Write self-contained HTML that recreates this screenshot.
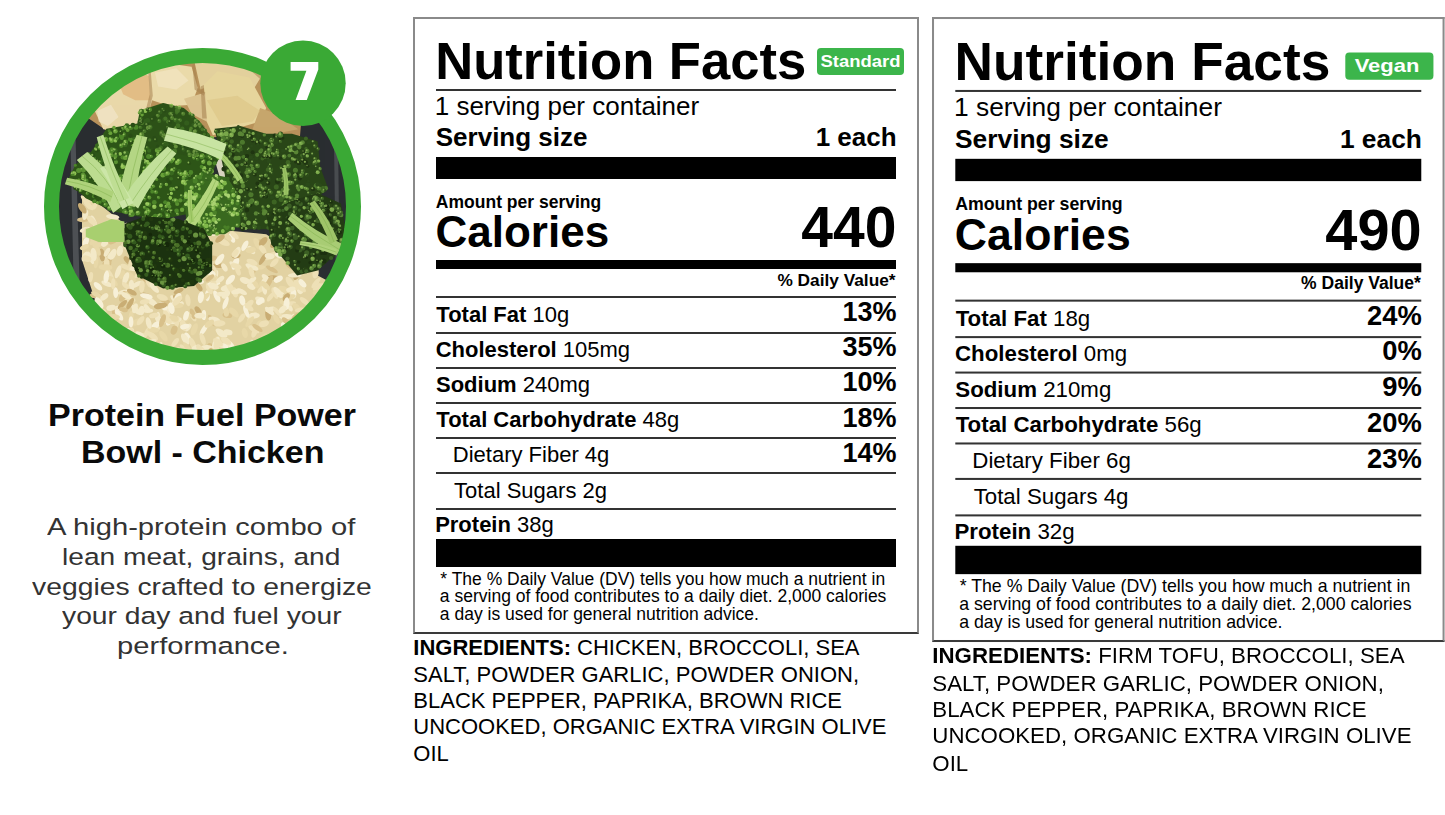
<!DOCTYPE html>
<html><head><meta charset="utf-8">
<style>
html,body{margin:0;padding:0;background:#fff;}
body{width:1445px;height:815px;overflow:hidden;position:relative;font-family:"Liberation Sans", sans-serif;}
.t{position:absolute;white-space:pre;}
.t b{font-weight:bold;}
.r{position:absolute;}
.lab{position:absolute;width:506px;height:617px;transform-origin:0 0;}
.box{position:absolute;left:0;top:0;width:502px;height:613px;border:2px solid #8a8a8a;border-bottom-color:#3a3a3a;}
.badge{position:absolute;background:#3cb54b;border-radius:4px;}
</style></head><body>
<svg style="position:absolute;left:0;top:0" width="400" height="400" viewBox="0 0 400 400">
<defs><clipPath id="pc"><circle cx="202.5" cy="206.5" r="144.5"/></clipPath></defs>
<g clip-path="url(#pc)">
<rect x="50" y="50" width="310" height="320" fill="#2a2d31"/>
<path d="M70 120 L75 118 L80 300 L74 300 Z" fill="#5d6064" opacity="0.7"/>
<path d="M334 140 L338 140 L340 290 L336 290 Z" fill="#5d6064" opacity="0.6"/>
<path d="M81.9 198.2 L98.7 203.4 L137.3 234.3 L214.6 229.2 L266.2 234.3 L304.8 260.1 L317.7 275.6 L330.0 282.0 L335.0 380.0 L70.0 380.0 L95.0 300.0 L82.0 260.0 L82.0 200.0 Z" fill="#e2d2a2"/>
<path d="M214.6 159.6 L240.4 157.0 L237.8 180.2 L219.8 177.6 Z" fill="#d8d2c0"/>
<g><ellipse cx="190.4" cy="282.4" rx="5.8" ry="2.8" transform="rotate(166 190.4 282.4)" fill="#eee0b6"/><ellipse cx="122.1" cy="274.5" rx="4.7" ry="2.5" transform="rotate(113 122.1 274.5)" fill="#e8d8a8"/><ellipse cx="241.8" cy="291.6" rx="5.8" ry="2.3" transform="rotate(28 241.8 291.6)" fill="#f3e9c8"/><ellipse cx="123.5" cy="229.9" rx="5.6" ry="3.0" transform="rotate(5 123.5 229.9)" fill="#eee0b6"/><ellipse cx="207.4" cy="295.6" rx="5.6" ry="2.5" transform="rotate(90 207.4 295.6)" fill="#f7f0d8"/><ellipse cx="289.3" cy="306.8" rx="5.2" ry="2.3" transform="rotate(57 289.3 306.8)" fill="#f3e9c8"/><ellipse cx="270.4" cy="256.1" rx="6.9" ry="3.0" transform="rotate(152 270.4 256.1)" fill="#eee0b6"/><ellipse cx="307.1" cy="267.5" rx="4.7" ry="2.8" transform="rotate(176 307.1 267.5)" fill="#eee0b6"/><ellipse cx="97.2" cy="244.9" rx="4.8" ry="2.4" transform="rotate(174 97.2 244.9)" fill="#e8d8a8"/><ellipse cx="217.6" cy="263.8" rx="4.8" ry="2.8" transform="rotate(34 217.6 263.8)" fill="#e8d8a8"/><ellipse cx="104.7" cy="259.4" rx="6.9" ry="3.0" transform="rotate(38 104.7 259.4)" fill="#eee0b6"/><ellipse cx="152.6" cy="336.0" rx="6.6" ry="2.8" transform="rotate(38 152.6 336.0)" fill="#eee0b6"/><ellipse cx="129.4" cy="232.6" rx="5.2" ry="2.3" transform="rotate(139 129.4 232.6)" fill="#eee0b6"/><ellipse cx="98.0" cy="286.2" rx="5.4" ry="2.7" transform="rotate(44 98.0 286.2)" fill="#f7f0d8"/><ellipse cx="221.5" cy="333.0" rx="6.8" ry="3.0" transform="rotate(33 221.5 333.0)" fill="#f3e9c8"/><ellipse cx="300.0" cy="289.6" rx="4.6" ry="3.2" transform="rotate(76 300.0 289.6)" fill="#f3e9c8"/><ellipse cx="135.8" cy="306.3" rx="6.0" ry="2.5" transform="rotate(46 135.8 306.3)" fill="#e8d8a8"/><ellipse cx="119.7" cy="308.9" rx="5.9" ry="3.1" transform="rotate(12 119.7 308.9)" fill="#f3e9c8"/><ellipse cx="231.6" cy="236.2" rx="4.5" ry="2.5" transform="rotate(165 231.6 236.2)" fill="#f3e9c8"/><ellipse cx="119.9" cy="250.8" rx="5.4" ry="3.1" transform="rotate(103 119.9 250.8)" fill="#f3e9c8"/><ellipse cx="251.3" cy="286.4" rx="4.5" ry="3.1" transform="rotate(25 251.3 286.4)" fill="#f3e9c8"/><ellipse cx="198.0" cy="310.5" rx="4.7" ry="2.7" transform="rotate(57 198.0 310.5)" fill="#c9ad74"/><ellipse cx="262.9" cy="338.5" rx="6.5" ry="3.1" transform="rotate(133 262.9 338.5)" fill="#e8d8a8"/><ellipse cx="164.7" cy="303.0" rx="5.5" ry="3.0" transform="rotate(162 164.7 303.0)" fill="#d8c08a"/><ellipse cx="295.2" cy="284.5" rx="6.0" ry="2.8" transform="rotate(112 295.2 284.5)" fill="#eee0b6"/><ellipse cx="95.5" cy="295.5" rx="6.3" ry="2.6" transform="rotate(179 95.5 295.5)" fill="#d8c08a"/><ellipse cx="262.4" cy="285.9" rx="4.7" ry="3.0" transform="rotate(79 262.4 285.9)" fill="#e8d8a8"/><ellipse cx="253.1" cy="272.0" rx="5.1" ry="2.2" transform="rotate(111 253.1 272.0)" fill="#d8c08a"/><ellipse cx="151.8" cy="301.9" rx="6.8" ry="2.9" transform="rotate(36 151.8 301.9)" fill="#f3e9c8"/><ellipse cx="187.7" cy="337.1" rx="5.0" ry="2.6" transform="rotate(59 187.7 337.1)" fill="#f7f0d8"/><ellipse cx="223.7" cy="242.2" rx="6.6" ry="3.0" transform="rotate(25 223.7 242.2)" fill="#eee0b6"/><ellipse cx="189.9" cy="235.4" rx="6.1" ry="2.7" transform="rotate(39 189.9 235.4)" fill="#eee0b6"/><ellipse cx="155.4" cy="328.5" rx="4.7" ry="2.2" transform="rotate(177 155.4 328.5)" fill="#eee0b6"/><ellipse cx="255.7" cy="284.1" rx="4.5" ry="2.3" transform="rotate(56 255.7 284.1)" fill="#e8d8a8"/><ellipse cx="235.4" cy="263.7" rx="6.5" ry="3.2" transform="rotate(113 235.4 263.7)" fill="#f7f0d8"/><ellipse cx="144.5" cy="247.0" rx="6.0" ry="3.0" transform="rotate(126 144.5 247.0)" fill="#f7f0d8"/><ellipse cx="175.3" cy="320.7" rx="6.8" ry="2.9" transform="rotate(163 175.3 320.7)" fill="#f3e9c8"/><ellipse cx="108.1" cy="264.8" rx="5.4" ry="2.8" transform="rotate(113 108.1 264.8)" fill="#d8c08a"/><ellipse cx="259.1" cy="325.0" rx="5.0" ry="3.1" transform="rotate(115 259.1 325.0)" fill="#e8d8a8"/><ellipse cx="211.9" cy="320.5" rx="6.6" ry="2.5" transform="rotate(58 211.9 320.5)" fill="#d8c08a"/><ellipse cx="96.1" cy="262.7" rx="5.7" ry="2.2" transform="rotate(99 96.1 262.7)" fill="#e8d8a8"/><ellipse cx="160.4" cy="320.0" rx="5.8" ry="2.9" transform="rotate(25 160.4 320.0)" fill="#f3e9c8"/><ellipse cx="289.2" cy="303.7" rx="6.9" ry="2.3" transform="rotate(170 289.2 303.7)" fill="#eee0b6"/><ellipse cx="131.5" cy="276.9" rx="6.1" ry="2.7" transform="rotate(52 131.5 276.9)" fill="#e8d8a8"/><ellipse cx="290.1" cy="282.4" rx="6.6" ry="3.1" transform="rotate(56 290.1 282.4)" fill="#eee0b6"/><ellipse cx="128.1" cy="330.4" rx="5.9" ry="2.4" transform="rotate(174 128.1 330.4)" fill="#f7f0d8"/><ellipse cx="211.7" cy="273.0" rx="6.9" ry="2.7" transform="rotate(109 211.7 273.0)" fill="#f3e9c8"/><ellipse cx="177.1" cy="322.2" rx="6.2" ry="2.3" transform="rotate(101 177.1 322.2)" fill="#eee0b6"/><ellipse cx="212.4" cy="258.3" rx="5.2" ry="2.7" transform="rotate(172 212.4 258.3)" fill="#d8c08a"/><ellipse cx="107.4" cy="261.6" rx="5.7" ry="2.5" transform="rotate(147 107.4 261.6)" fill="#d8c08a"/><ellipse cx="123.8" cy="292.0" rx="6.4" ry="2.2" transform="rotate(167 123.8 292.0)" fill="#f3e9c8"/><ellipse cx="124.5" cy="227.5" rx="5.4" ry="2.8" transform="rotate(124 124.5 227.5)" fill="#eee0b6"/><ellipse cx="101.7" cy="310.6" rx="5.1" ry="2.4" transform="rotate(22 101.7 310.6)" fill="#eee0b6"/><ellipse cx="210.2" cy="262.1" rx="5.8" ry="2.4" transform="rotate(68 210.2 262.1)" fill="#eee0b6"/><ellipse cx="127.1" cy="294.2" rx="6.6" ry="2.8" transform="rotate(115 127.1 294.2)" fill="#f7f0d8"/><ellipse cx="263.9" cy="323.7" rx="5.3" ry="3.1" transform="rotate(162 263.9 323.7)" fill="#eee0b6"/><ellipse cx="136.0" cy="309.9" rx="6.6" ry="2.6" transform="rotate(47 136.0 309.9)" fill="#f3e9c8"/><ellipse cx="177.7" cy="303.1" rx="6.2" ry="3.1" transform="rotate(3 177.7 303.1)" fill="#f3e9c8"/><ellipse cx="203.9" cy="315.1" rx="5.0" ry="2.3" transform="rotate(91 203.9 315.1)" fill="#f7f0d8"/><ellipse cx="215.7" cy="274.9" rx="5.0" ry="2.4" transform="rotate(102 215.7 274.9)" fill="#f3e9c8"/><ellipse cx="192.8" cy="316.2" rx="5.8" ry="2.6" transform="rotate(59 192.8 316.2)" fill="#eee0b6"/><ellipse cx="253.8" cy="329.3" rx="6.3" ry="2.6" transform="rotate(33 253.8 329.3)" fill="#eee0b6"/><ellipse cx="254.7" cy="332.0" rx="6.0" ry="2.7" transform="rotate(113 254.7 332.0)" fill="#eee0b6"/><ellipse cx="140.9" cy="340.4" rx="6.5" ry="2.6" transform="rotate(134 140.9 340.4)" fill="#e8d8a8"/><ellipse cx="252.2" cy="316.6" rx="6.3" ry="2.3" transform="rotate(138 252.2 316.6)" fill="#eee0b6"/><ellipse cx="162.1" cy="267.4" rx="6.1" ry="2.8" transform="rotate(2 162.1 267.4)" fill="#eee0b6"/><ellipse cx="244.9" cy="245.7" rx="5.8" ry="2.6" transform="rotate(119 244.9 245.7)" fill="#f7f0d8"/><ellipse cx="253.8" cy="315.7" rx="6.0" ry="2.9" transform="rotate(176 253.8 315.7)" fill="#f3e9c8"/><ellipse cx="140.4" cy="256.3" rx="5.4" ry="2.3" transform="rotate(9 140.4 256.3)" fill="#f3e9c8"/><ellipse cx="139.0" cy="339.4" rx="6.9" ry="2.8" transform="rotate(99 139.0 339.4)" fill="#eee0b6"/><ellipse cx="227.4" cy="315.3" rx="4.9" ry="2.7" transform="rotate(8 227.4 315.3)" fill="#d8c08a"/><ellipse cx="118.1" cy="271.8" rx="6.9" ry="2.6" transform="rotate(110 118.1 271.8)" fill="#f3e9c8"/><ellipse cx="209.3" cy="288.6" rx="6.1" ry="2.8" transform="rotate(66 209.3 288.6)" fill="#eee0b6"/><ellipse cx="147.3" cy="308.2" rx="5.1" ry="2.2" transform="rotate(53 147.3 308.2)" fill="#f3e9c8"/><ellipse cx="114.9" cy="314.5" rx="6.4" ry="2.3" transform="rotate(70 114.9 314.5)" fill="#d8c08a"/><ellipse cx="184.5" cy="268.8" rx="5.8" ry="3.1" transform="rotate(175 184.5 268.8)" fill="#f3e9c8"/><ellipse cx="259.3" cy="267.3" rx="6.0" ry="2.3" transform="rotate(176 259.3 267.3)" fill="#e8d8a8"/><ellipse cx="234.2" cy="265.2" rx="5.8" ry="2.3" transform="rotate(37 234.2 265.2)" fill="#f3e9c8"/><ellipse cx="187.9" cy="300.2" rx="6.0" ry="2.6" transform="rotate(82 187.9 300.2)" fill="#eee0b6"/><ellipse cx="273.4" cy="277.6" rx="6.3" ry="2.4" transform="rotate(180 273.4 277.6)" fill="#c9ad74"/><ellipse cx="275.0" cy="293.1" rx="6.2" ry="2.8" transform="rotate(65 275.0 293.1)" fill="#eee0b6"/><ellipse cx="225.9" cy="294.5" rx="5.1" ry="3.2" transform="rotate(136 225.9 294.5)" fill="#f3e9c8"/><ellipse cx="85.1" cy="200.0" rx="6.1" ry="2.3" transform="rotate(49 85.1 200.0)" fill="#eee0b6"/><ellipse cx="97.0" cy="301.6" rx="5.4" ry="2.7" transform="rotate(99 97.0 301.6)" fill="#f7f0d8"/><ellipse cx="128.7" cy="246.7" rx="4.7" ry="2.3" transform="rotate(134 128.7 246.7)" fill="#e8d8a8"/><ellipse cx="281.3" cy="292.9" rx="5.6" ry="2.5" transform="rotate(138 281.3 292.9)" fill="#f3e9c8"/><ellipse cx="281.5" cy="250.9" rx="5.3" ry="2.7" transform="rotate(118 281.5 250.9)" fill="#c9ad74"/><ellipse cx="265.3" cy="341.9" rx="4.7" ry="3.1" transform="rotate(77 265.3 341.9)" fill="#eee0b6"/><ellipse cx="95.0" cy="203.7" rx="6.2" ry="2.5" transform="rotate(102 95.0 203.7)" fill="#eee0b6"/><ellipse cx="129.4" cy="299.2" rx="6.3" ry="2.9" transform="rotate(15 129.4 299.2)" fill="#eee0b6"/><ellipse cx="166.2" cy="309.8" rx="6.3" ry="2.8" transform="rotate(66 166.2 309.8)" fill="#f3e9c8"/><ellipse cx="156.0" cy="255.9" rx="5.1" ry="2.6" transform="rotate(168 156.0 255.9)" fill="#d8c08a"/><ellipse cx="168.2" cy="249.9" rx="5.0" ry="2.8" transform="rotate(71 168.2 249.9)" fill="#eee0b6"/><ellipse cx="278.3" cy="279.2" rx="4.9" ry="3.0" transform="rotate(151 278.3 279.2)" fill="#f7f0d8"/><ellipse cx="213.8" cy="283.6" rx="6.5" ry="2.3" transform="rotate(174 213.8 283.6)" fill="#f7f0d8"/><ellipse cx="214.4" cy="320.0" rx="6.3" ry="3.1" transform="rotate(15 214.4 320.0)" fill="#f3e9c8"/><ellipse cx="96.6" cy="294.6" rx="6.1" ry="2.4" transform="rotate(26 96.6 294.6)" fill="#e8d8a8"/><ellipse cx="131.2" cy="316.3" rx="5.5" ry="2.5" transform="rotate(94 131.2 316.3)" fill="#e8d8a8"/><ellipse cx="200.9" cy="278.7" rx="6.8" ry="2.6" transform="rotate(130 200.9 278.7)" fill="#e8d8a8"/><ellipse cx="285.7" cy="300.0" rx="6.6" ry="3.1" transform="rotate(154 285.7 300.0)" fill="#e8d8a8"/><ellipse cx="319.2" cy="295.6" rx="6.5" ry="2.6" transform="rotate(94 319.2 295.6)" fill="#e8d8a8"/><ellipse cx="127.1" cy="260.1" rx="4.6" ry="2.5" transform="rotate(53 127.1 260.1)" fill="#c9ad74"/><ellipse cx="104.3" cy="296.9" rx="4.7" ry="2.7" transform="rotate(140 104.3 296.9)" fill="#f3e9c8"/><ellipse cx="223.9" cy="340.0" rx="5.0" ry="2.4" transform="rotate(7 223.9 340.0)" fill="#f3e9c8"/><ellipse cx="135.0" cy="308.3" rx="5.0" ry="2.5" transform="rotate(107 135.0 308.3)" fill="#f3e9c8"/><ellipse cx="119.0" cy="315.0" rx="6.5" ry="2.7" transform="rotate(56 119.0 315.0)" fill="#f7f0d8"/><ellipse cx="141.4" cy="336.4" rx="5.9" ry="3.2" transform="rotate(165 141.4 336.4)" fill="#eee0b6"/><ellipse cx="279.4" cy="253.5" rx="5.2" ry="3.2" transform="rotate(95 279.4 253.5)" fill="#eee0b6"/><ellipse cx="169.7" cy="321.5" rx="4.9" ry="2.4" transform="rotate(128 169.7 321.5)" fill="#f7f0d8"/><ellipse cx="296.7" cy="275.2" rx="5.2" ry="2.7" transform="rotate(115 296.7 275.2)" fill="#c9ad74"/><ellipse cx="113.4" cy="317.1" rx="6.6" ry="3.0" transform="rotate(0 113.4 317.1)" fill="#e8d8a8"/><ellipse cx="96.0" cy="234.5" rx="5.7" ry="2.7" transform="rotate(129 96.0 234.5)" fill="#f3e9c8"/><ellipse cx="318.7" cy="286.8" rx="6.5" ry="2.6" transform="rotate(154 318.7 286.8)" fill="#eee0b6"/><ellipse cx="213.6" cy="276.7" rx="5.3" ry="2.5" transform="rotate(28 213.6 276.7)" fill="#e8d8a8"/><ellipse cx="94.4" cy="240.4" rx="5.4" ry="2.9" transform="rotate(84 94.4 240.4)" fill="#e8d8a8"/><ellipse cx="102.0" cy="255.0" rx="6.6" ry="2.9" transform="rotate(83 102.0 255.0)" fill="#c9ad74"/><ellipse cx="218.8" cy="265.6" rx="6.5" ry="2.4" transform="rotate(2 218.8 265.6)" fill="#c9ad74"/><ellipse cx="232.1" cy="237.9" rx="5.2" ry="2.5" transform="rotate(68 232.1 237.9)" fill="#f7f0d8"/><ellipse cx="175.0" cy="300.0" rx="6.3" ry="2.5" transform="rotate(46 175.0 300.0)" fill="#f3e9c8"/><ellipse cx="316.0" cy="282.9" rx="6.6" ry="2.3" transform="rotate(130 316.0 282.9)" fill="#eee0b6"/><ellipse cx="247.8" cy="306.9" rx="6.6" ry="2.8" transform="rotate(32 247.8 306.9)" fill="#eee0b6"/><ellipse cx="98.0" cy="227.4" rx="5.5" ry="2.3" transform="rotate(28 98.0 227.4)" fill="#f3e9c8"/><ellipse cx="205.4" cy="296.8" rx="5.5" ry="2.5" transform="rotate(138 205.4 296.8)" fill="#e8d8a8"/><ellipse cx="177.2" cy="305.5" rx="6.2" ry="2.8" transform="rotate(177 177.2 305.5)" fill="#e8d8a8"/><ellipse cx="162.3" cy="297.4" rx="5.8" ry="3.0" transform="rotate(19 162.3 297.4)" fill="#eee0b6"/><ellipse cx="285.4" cy="290.9" rx="6.8" ry="2.7" transform="rotate(29 285.4 290.9)" fill="#e8d8a8"/><ellipse cx="164.9" cy="272.6" rx="7.0" ry="2.7" transform="rotate(26 164.9 272.6)" fill="#e8d8a8"/><ellipse cx="257.4" cy="327.9" rx="6.1" ry="2.4" transform="rotate(35 257.4 327.9)" fill="#d8c08a"/><ellipse cx="96.2" cy="230.4" rx="5.3" ry="3.1" transform="rotate(104 96.2 230.4)" fill="#e8d8a8"/><ellipse cx="167.1" cy="266.4" rx="4.8" ry="3.1" transform="rotate(22 167.1 266.4)" fill="#c9ad74"/><ellipse cx="213.6" cy="282.5" rx="6.8" ry="3.2" transform="rotate(101 213.6 282.5)" fill="#eee0b6"/><ellipse cx="283.5" cy="289.2" rx="5.2" ry="3.1" transform="rotate(22 283.5 289.2)" fill="#e8d8a8"/><ellipse cx="136.4" cy="284.6" rx="5.9" ry="2.3" transform="rotate(150 136.4 284.6)" fill="#f3e9c8"/><ellipse cx="83.2" cy="219.7" rx="6.1" ry="2.5" transform="rotate(178 83.2 219.7)" fill="#d8c08a"/><ellipse cx="246.2" cy="311.7" rx="6.5" ry="2.2" transform="rotate(69 246.2 311.7)" fill="#f7f0d8"/><ellipse cx="125.9" cy="267.2" rx="5.9" ry="2.4" transform="rotate(26 125.9 267.2)" fill="#eee0b6"/><ellipse cx="207.5" cy="233.5" rx="6.1" ry="2.2" transform="rotate(102 207.5 233.5)" fill="#eee0b6"/><ellipse cx="319.6" cy="289.0" rx="6.1" ry="2.9" transform="rotate(85 319.6 289.0)" fill="#eee0b6"/><ellipse cx="268.3" cy="314.0" rx="6.6" ry="3.1" transform="rotate(87 268.3 314.0)" fill="#c9ad74"/><ellipse cx="179.3" cy="261.6" rx="5.8" ry="2.7" transform="rotate(102 179.3 261.6)" fill="#d8c08a"/><ellipse cx="185.2" cy="339.2" rx="6.3" ry="3.1" transform="rotate(58 185.2 339.2)" fill="#f3e9c8"/><ellipse cx="261.7" cy="288.6" rx="6.0" ry="2.3" transform="rotate(135 261.7 288.6)" fill="#eee0b6"/><ellipse cx="106.7" cy="263.7" rx="4.6" ry="2.9" transform="rotate(90 106.7 263.7)" fill="#eee0b6"/><ellipse cx="153.1" cy="255.3" rx="6.8" ry="3.2" transform="rotate(42 153.1 255.3)" fill="#f3e9c8"/><ellipse cx="244.8" cy="333.0" rx="5.1" ry="2.9" transform="rotate(76 244.8 333.0)" fill="#e8d8a8"/><ellipse cx="219.5" cy="339.1" rx="4.8" ry="2.7" transform="rotate(18 219.5 339.1)" fill="#e8d8a8"/><ellipse cx="137.2" cy="239.4" rx="6.7" ry="3.0" transform="rotate(58 137.2 239.4)" fill="#f3e9c8"/><ellipse cx="176.3" cy="248.8" rx="4.6" ry="3.1" transform="rotate(105 176.3 248.8)" fill="#f3e9c8"/><ellipse cx="153.5" cy="272.2" rx="5.7" ry="2.4" transform="rotate(168 153.5 272.2)" fill="#c9ad74"/><ellipse cx="150.3" cy="342.2" rx="6.6" ry="2.6" transform="rotate(161 150.3 342.2)" fill="#f3e9c8"/><ellipse cx="126.5" cy="294.3" rx="4.6" ry="2.3" transform="rotate(34 126.5 294.3)" fill="#d8c08a"/><ellipse cx="260.1" cy="241.6" rx="6.3" ry="2.3" transform="rotate(162 260.1 241.6)" fill="#d8c08a"/><ellipse cx="252.5" cy="344.7" rx="5.1" ry="2.5" transform="rotate(80 252.5 344.7)" fill="#f3e9c8"/><ellipse cx="121.2" cy="228.8" rx="5.4" ry="2.9" transform="rotate(120 121.2 228.8)" fill="#e8d8a8"/><ellipse cx="300.5" cy="287.3" rx="6.8" ry="2.9" transform="rotate(41 300.5 287.3)" fill="#eee0b6"/><ellipse cx="145.6" cy="295.6" rx="5.6" ry="2.7" transform="rotate(16 145.6 295.6)" fill="#c9ad74"/><ellipse cx="227.9" cy="236.9" rx="4.7" ry="2.5" transform="rotate(45 227.9 236.9)" fill="#e8d8a8"/><ellipse cx="146.2" cy="280.4" rx="7.0" ry="2.2" transform="rotate(34 146.2 280.4)" fill="#d8c08a"/><ellipse cx="192.7" cy="313.8" rx="5.7" ry="2.4" transform="rotate(69 192.7 313.8)" fill="#d8c08a"/><ellipse cx="216.8" cy="296.4" rx="6.5" ry="2.7" transform="rotate(65 216.8 296.4)" fill="#f7f0d8"/><ellipse cx="203.9" cy="329.5" rx="6.9" ry="2.4" transform="rotate(123 203.9 329.5)" fill="#f7f0d8"/><ellipse cx="187.3" cy="317.5" rx="5.1" ry="2.7" transform="rotate(142 187.3 317.5)" fill="#e8d8a8"/><ellipse cx="131.4" cy="285.7" rx="6.0" ry="2.9" transform="rotate(90 131.4 285.7)" fill="#f3e9c8"/><ellipse cx="221.0" cy="334.0" rx="4.5" ry="2.7" transform="rotate(32 221.0 334.0)" fill="#f3e9c8"/><ellipse cx="185.8" cy="262.9" rx="4.7" ry="3.1" transform="rotate(47 185.8 262.9)" fill="#e8d8a8"/><ellipse cx="220.1" cy="279.6" rx="4.9" ry="2.5" transform="rotate(142 220.1 279.6)" fill="#f3e9c8"/><ellipse cx="85.8" cy="241.9" rx="5.2" ry="2.8" transform="rotate(112 85.8 241.9)" fill="#f7f0d8"/><ellipse cx="118.8" cy="232.0" rx="6.6" ry="3.0" transform="rotate(29 118.8 232.0)" fill="#e8d8a8"/><ellipse cx="90.6" cy="257.8" rx="6.9" ry="2.2" transform="rotate(66 90.6 257.8)" fill="#f3e9c8"/><ellipse cx="199.8" cy="315.6" rx="5.6" ry="2.9" transform="rotate(178 199.8 315.6)" fill="#f3e9c8"/><ellipse cx="85.0" cy="229.7" rx="5.5" ry="2.5" transform="rotate(160 85.0 229.7)" fill="#f3e9c8"/><ellipse cx="269.6" cy="311.1" rx="5.9" ry="2.4" transform="rotate(41 269.6 311.1)" fill="#f3e9c8"/><ellipse cx="192.7" cy="343.9" rx="7.0" ry="2.8" transform="rotate(66 192.7 343.9)" fill="#eee0b6"/><ellipse cx="85.1" cy="256.5" rx="5.4" ry="2.9" transform="rotate(117 85.1 256.5)" fill="#f3e9c8"/><ellipse cx="295.4" cy="287.5" rx="5.5" ry="3.0" transform="rotate(160 295.4 287.5)" fill="#eee0b6"/><ellipse cx="172.2" cy="318.9" rx="5.0" ry="2.7" transform="rotate(39 172.2 318.9)" fill="#eee0b6"/><ellipse cx="116.8" cy="223.6" rx="5.3" ry="2.6" transform="rotate(39 116.8 223.6)" fill="#eee0b6"/><ellipse cx="251.3" cy="249.9" rx="5.0" ry="2.5" transform="rotate(49 251.3 249.9)" fill="#f3e9c8"/><ellipse cx="175.2" cy="342.4" rx="5.4" ry="2.4" transform="rotate(129 175.2 342.4)" fill="#eee0b6"/><ellipse cx="270.3" cy="309.4" rx="5.3" ry="2.6" transform="rotate(163 270.3 309.4)" fill="#f3e9c8"/><ellipse cx="157.9" cy="317.2" rx="5.5" ry="2.4" transform="rotate(93 157.9 317.2)" fill="#f3e9c8"/><ellipse cx="85.4" cy="214.9" rx="5.3" ry="2.6" transform="rotate(107 85.4 214.9)" fill="#f3e9c8"/><ellipse cx="260.0" cy="299.9" rx="5.2" ry="2.9" transform="rotate(26 260.0 299.9)" fill="#f3e9c8"/><ellipse cx="178.4" cy="253.8" rx="5.2" ry="2.5" transform="rotate(156 178.4 253.8)" fill="#f3e9c8"/><ellipse cx="219.3" cy="323.4" rx="6.2" ry="3.1" transform="rotate(176 219.3 323.4)" fill="#eee0b6"/><ellipse cx="130.1" cy="303.7" rx="6.7" ry="2.4" transform="rotate(120 130.1 303.7)" fill="#c9ad74"/><ellipse cx="184.1" cy="254.8" rx="5.3" ry="2.7" transform="rotate(11 184.1 254.8)" fill="#eee0b6"/><ellipse cx="177.6" cy="268.4" rx="5.1" ry="2.3" transform="rotate(30 177.6 268.4)" fill="#f7f0d8"/><ellipse cx="162.2" cy="259.7" rx="6.3" ry="2.8" transform="rotate(27 162.2 259.7)" fill="#f7f0d8"/><ellipse cx="174.8" cy="250.1" rx="4.6" ry="2.7" transform="rotate(11 174.8 250.1)" fill="#eee0b6"/><ellipse cx="224.4" cy="267.4" rx="4.6" ry="2.5" transform="rotate(59 224.4 267.4)" fill="#f3e9c8"/><ellipse cx="302.4" cy="283.3" rx="5.0" ry="2.7" transform="rotate(47 302.4 283.3)" fill="#f7f0d8"/><ellipse cx="231.9" cy="347.5" rx="6.9" ry="3.0" transform="rotate(65 231.9 347.5)" fill="#f7f0d8"/><ellipse cx="235.0" cy="292.4" rx="5.2" ry="3.0" transform="rotate(74 235.0 292.4)" fill="#eee0b6"/><ellipse cx="109.6" cy="273.7" rx="6.9" ry="2.3" transform="rotate(56 109.6 273.7)" fill="#eee0b6"/><ellipse cx="124.1" cy="227.7" rx="4.5" ry="2.7" transform="rotate(122 124.1 227.7)" fill="#f3e9c8"/><ellipse cx="200.9" cy="297.3" rx="5.9" ry="3.0" transform="rotate(99 200.9 297.3)" fill="#f7f0d8"/><ellipse cx="163.4" cy="336.2" rx="6.2" ry="2.9" transform="rotate(56 163.4 336.2)" fill="#e8d8a8"/><ellipse cx="115.7" cy="292.6" rx="5.4" ry="2.5" transform="rotate(88 115.7 292.6)" fill="#f7f0d8"/><ellipse cx="266.0" cy="278.1" rx="5.3" ry="2.4" transform="rotate(43 266.0 278.1)" fill="#f3e9c8"/><ellipse cx="91.1" cy="201.3" rx="4.8" ry="2.7" transform="rotate(18 91.1 201.3)" fill="#e8d8a8"/><ellipse cx="271.9" cy="269.3" rx="6.7" ry="2.3" transform="rotate(29 271.9 269.3)" fill="#d8c08a"/><ellipse cx="139.7" cy="273.7" rx="6.3" ry="2.5" transform="rotate(143 139.7 273.7)" fill="#eee0b6"/><ellipse cx="257.5" cy="243.9" rx="6.6" ry="3.0" transform="rotate(60 257.5 243.9)" fill="#e8d8a8"/><ellipse cx="219.7" cy="259.4" rx="6.6" ry="3.0" transform="rotate(127 219.7 259.4)" fill="#f7f0d8"/><ellipse cx="106.9" cy="252.2" rx="5.0" ry="2.2" transform="rotate(120 106.9 252.2)" fill="#f3e9c8"/><ellipse cx="224.3" cy="345.3" rx="6.2" ry="2.6" transform="rotate(175 224.3 345.3)" fill="#f3e9c8"/><ellipse cx="236.0" cy="255.5" rx="4.6" ry="2.9" transform="rotate(168 236.0 255.5)" fill="#c9ad74"/><ellipse cx="147.9" cy="310.7" rx="5.3" ry="2.2" transform="rotate(179 147.9 310.7)" fill="#f3e9c8"/><ellipse cx="213.4" cy="269.7" rx="6.5" ry="3.0" transform="rotate(67 213.4 269.7)" fill="#eee0b6"/><ellipse cx="147.4" cy="254.6" rx="7.0" ry="2.6" transform="rotate(111 147.4 254.6)" fill="#e8d8a8"/><ellipse cx="252.0" cy="280.1" rx="4.9" ry="2.3" transform="rotate(144 252.0 280.1)" fill="#f3e9c8"/><ellipse cx="234.4" cy="235.2" rx="5.4" ry="2.5" transform="rotate(41 234.4 235.2)" fill="#eee0b6"/><ellipse cx="88.1" cy="200.6" rx="4.7" ry="2.4" transform="rotate(161 88.1 200.6)" fill="#eee0b6"/><ellipse cx="198.3" cy="354.5" rx="5.7" ry="2.6" transform="rotate(36 198.3 354.5)" fill="#d8c08a"/><ellipse cx="280.8" cy="255.3" rx="6.1" ry="2.8" transform="rotate(10 280.8 255.3)" fill="#f7f0d8"/><ellipse cx="188.0" cy="327.6" rx="4.6" ry="2.4" transform="rotate(130 188.0 327.6)" fill="#f3e9c8"/><ellipse cx="166.5" cy="314.3" rx="4.5" ry="2.4" transform="rotate(56 166.5 314.3)" fill="#eee0b6"/><ellipse cx="209.4" cy="323.7" rx="5.5" ry="3.0" transform="rotate(143 209.4 323.7)" fill="#e8d8a8"/><ellipse cx="286.1" cy="316.7" rx="6.9" ry="2.6" transform="rotate(177 286.1 316.7)" fill="#f3e9c8"/><ellipse cx="174.0" cy="250.9" rx="5.4" ry="2.8" transform="rotate(118 174.0 250.9)" fill="#e8d8a8"/><ellipse cx="165.3" cy="236.1" rx="4.7" ry="2.5" transform="rotate(163 165.3 236.1)" fill="#eee0b6"/><ellipse cx="264.5" cy="280.1" rx="4.8" ry="2.3" transform="rotate(122 264.5 280.1)" fill="#f3e9c8"/><ellipse cx="164.3" cy="261.1" rx="5.5" ry="2.5" transform="rotate(2 164.3 261.1)" fill="#eee0b6"/><ellipse cx="212.0" cy="347.1" rx="5.3" ry="3.0" transform="rotate(37 212.0 347.1)" fill="#d8c08a"/><ellipse cx="184.7" cy="348.8" rx="6.3" ry="2.4" transform="rotate(40 184.7 348.8)" fill="#eee0b6"/><ellipse cx="144.7" cy="301.7" rx="5.0" ry="2.6" transform="rotate(171 144.7 301.7)" fill="#eee0b6"/><ellipse cx="236.9" cy="252.4" rx="6.0" ry="3.1" transform="rotate(116 236.9 252.4)" fill="#f3e9c8"/><ellipse cx="293.4" cy="293.7" rx="4.8" ry="3.0" transform="rotate(91 293.4 293.7)" fill="#f7f0d8"/><ellipse cx="250.9" cy="264.8" rx="5.5" ry="2.4" transform="rotate(120 250.9 264.8)" fill="#eee0b6"/><ellipse cx="228.2" cy="284.5" rx="6.1" ry="2.6" transform="rotate(93 228.2 284.5)" fill="#f3e9c8"/><ellipse cx="226.3" cy="288.1" rx="5.7" ry="3.2" transform="rotate(168 226.3 288.1)" fill="#f3e9c8"/><ellipse cx="263.2" cy="241.6" rx="5.5" ry="3.1" transform="rotate(133 263.2 241.6)" fill="#c9ad74"/><ellipse cx="289.3" cy="297.1" rx="6.5" ry="2.7" transform="rotate(169 289.3 297.1)" fill="#e8d8a8"/><ellipse cx="296.9" cy="307.4" rx="5.6" ry="2.7" transform="rotate(45 296.9 307.4)" fill="#e8d8a8"/><ellipse cx="146.3" cy="296.2" rx="6.5" ry="2.7" transform="rotate(13 146.3 296.2)" fill="#f7f0d8"/><ellipse cx="136.7" cy="322.0" rx="5.9" ry="3.1" transform="rotate(154 136.7 322.0)" fill="#e8d8a8"/><ellipse cx="84.4" cy="247.1" rx="4.8" ry="2.4" transform="rotate(156 84.4 247.1)" fill="#e8d8a8"/><ellipse cx="174.1" cy="330.1" rx="4.7" ry="3.2" transform="rotate(111 174.1 330.1)" fill="#d8c08a"/><ellipse cx="127.7" cy="293.8" rx="5.0" ry="2.9" transform="rotate(158 127.7 293.8)" fill="#e8d8a8"/><ellipse cx="161.6" cy="242.0" rx="6.0" ry="2.9" transform="rotate(113 161.6 242.0)" fill="#eee0b6"/><ellipse cx="251.9" cy="267.0" rx="6.9" ry="2.8" transform="rotate(23 251.9 267.0)" fill="#f3e9c8"/><ellipse cx="262.7" cy="249.5" rx="4.9" ry="2.8" transform="rotate(56 262.7 249.5)" fill="#eee0b6"/><ellipse cx="183.3" cy="325.3" rx="5.8" ry="3.1" transform="rotate(74 183.3 325.3)" fill="#eee0b6"/><ellipse cx="163.3" cy="306.1" rx="5.2" ry="3.1" transform="rotate(42 163.3 306.1)" fill="#f7f0d8"/><ellipse cx="148.1" cy="331.0" rx="6.8" ry="2.6" transform="rotate(122 148.1 331.0)" fill="#eee0b6"/><ellipse cx="264.5" cy="289.2" rx="5.5" ry="2.5" transform="rotate(81 264.5 289.2)" fill="#f3e9c8"/><ellipse cx="187.4" cy="347.5" rx="6.2" ry="2.4" transform="rotate(53 187.4 347.5)" fill="#e8d8a8"/><ellipse cx="182.3" cy="246.4" rx="6.0" ry="2.7" transform="rotate(148 182.3 246.4)" fill="#e8d8a8"/><ellipse cx="97.5" cy="250.0" rx="6.2" ry="2.5" transform="rotate(67 97.5 250.0)" fill="#e8d8a8"/><ellipse cx="194.6" cy="249.7" rx="6.2" ry="2.8" transform="rotate(84 194.6 249.7)" fill="#eee0b6"/><ellipse cx="286.3" cy="297.2" rx="4.7" ry="2.7" transform="rotate(126 286.3 297.2)" fill="#c9ad74"/><ellipse cx="177.3" cy="298.3" rx="5.0" ry="2.6" transform="rotate(39 177.3 298.3)" fill="#c9ad74"/><ellipse cx="111.5" cy="255.1" rx="4.9" ry="2.8" transform="rotate(134 111.5 255.1)" fill="#f3e9c8"/><ellipse cx="233.9" cy="312.4" rx="6.3" ry="3.0" transform="rotate(46 233.9 312.4)" fill="#e8d8a8"/><ellipse cx="105.5" cy="267.3" rx="6.9" ry="3.1" transform="rotate(3 105.5 267.3)" fill="#e8d8a8"/><ellipse cx="211.7" cy="278.1" rx="5.3" ry="2.7" transform="rotate(20 211.7 278.1)" fill="#e8d8a8"/><ellipse cx="106.8" cy="283.7" rx="5.8" ry="2.5" transform="rotate(23 106.8 283.7)" fill="#f3e9c8"/><ellipse cx="130.5" cy="264.5" rx="6.6" ry="2.3" transform="rotate(100 130.5 264.5)" fill="#eee0b6"/><ellipse cx="178.6" cy="291.0" rx="5.5" ry="2.2" transform="rotate(155 178.6 291.0)" fill="#c9ad74"/><ellipse cx="114.2" cy="325.0" rx="4.9" ry="2.7" transform="rotate(132 114.2 325.0)" fill="#e8d8a8"/><ellipse cx="82.3" cy="208.2" rx="6.1" ry="3.0" transform="rotate(54 82.3 208.2)" fill="#c9ad74"/><ellipse cx="86.7" cy="258.7" rx="4.8" ry="3.1" transform="rotate(14 86.7 258.7)" fill="#eee0b6"/><ellipse cx="158.8" cy="270.7" rx="6.9" ry="2.8" transform="rotate(118 158.8 270.7)" fill="#d8c08a"/><ellipse cx="202.7" cy="339.1" rx="6.3" ry="2.5" transform="rotate(71 202.7 339.1)" fill="#eee0b6"/><ellipse cx="168.8" cy="260.8" rx="5.6" ry="2.7" transform="rotate(86 168.8 260.8)" fill="#eee0b6"/><ellipse cx="90.7" cy="277.1" rx="5.1" ry="2.3" transform="rotate(99 90.7 277.1)" fill="#eee0b6"/><ellipse cx="169.8" cy="241.9" rx="6.4" ry="2.7" transform="rotate(87 169.8 241.9)" fill="#f3e9c8"/><ellipse cx="226.3" cy="348.5" rx="5.4" ry="2.5" transform="rotate(66 226.3 348.5)" fill="#f7f0d8"/><ellipse cx="230.3" cy="287.3" rx="5.8" ry="3.0" transform="rotate(57 230.3 287.3)" fill="#eee0b6"/><ellipse cx="88.5" cy="205.3" rx="6.5" ry="2.6" transform="rotate(45 88.5 205.3)" fill="#eee0b6"/><ellipse cx="294.3" cy="256.4" rx="4.7" ry="3.2" transform="rotate(51 294.3 256.4)" fill="#f7f0d8"/><ellipse cx="155.9" cy="325.2" rx="4.6" ry="3.0" transform="rotate(142 155.9 325.2)" fill="#f7f0d8"/><ellipse cx="215.8" cy="343.0" rx="6.8" ry="3.0" transform="rotate(115 215.8 343.0)" fill="#f3e9c8"/><ellipse cx="262.9" cy="259.0" rx="6.8" ry="2.3" transform="rotate(122 262.9 259.0)" fill="#c9ad74"/><ellipse cx="274.3" cy="262.7" rx="5.6" ry="2.6" transform="rotate(135 274.3 262.7)" fill="#eee0b6"/><ellipse cx="105.1" cy="242.8" rx="4.8" ry="3.0" transform="rotate(132 105.1 242.8)" fill="#f3e9c8"/><ellipse cx="244.9" cy="280.4" rx="5.3" ry="3.2" transform="rotate(20 244.9 280.4)" fill="#f3e9c8"/><ellipse cx="217.9" cy="342.2" rx="5.8" ry="3.0" transform="rotate(38 217.9 342.2)" fill="#eee0b6"/><ellipse cx="185.1" cy="252.3" rx="5.7" ry="2.9" transform="rotate(121 185.1 252.3)" fill="#d8c08a"/><ellipse cx="173.9" cy="318.5" rx="4.9" ry="2.8" transform="rotate(19 173.9 318.5)" fill="#e8d8a8"/><ellipse cx="126.5" cy="247.1" rx="6.0" ry="2.7" transform="rotate(29 126.5 247.1)" fill="#eee0b6"/><ellipse cx="174.1" cy="284.8" rx="6.0" ry="2.7" transform="rotate(152 174.1 284.8)" fill="#eee0b6"/><ellipse cx="141.6" cy="310.5" rx="4.7" ry="3.0" transform="rotate(103 141.6 310.5)" fill="#f3e9c8"/><ellipse cx="171.3" cy="308.2" rx="5.9" ry="3.2" transform="rotate(78 171.3 308.2)" fill="#f7f0d8"/><ellipse cx="307.0" cy="265.2" rx="6.4" ry="2.3" transform="rotate(88 307.0 265.2)" fill="#f3e9c8"/><ellipse cx="153.2" cy="329.8" rx="5.9" ry="2.8" transform="rotate(6 153.2 329.8)" fill="#e8d8a8"/><ellipse cx="125.8" cy="278.3" rx="6.4" ry="2.8" transform="rotate(110 125.8 278.3)" fill="#f3e9c8"/><ellipse cx="250.8" cy="250.1" rx="5.2" ry="3.1" transform="rotate(171 250.8 250.1)" fill="#e8d8a8"/><ellipse cx="212.0" cy="231.8" rx="4.8" ry="2.7" transform="rotate(53 212.0 231.8)" fill="#f3e9c8"/><ellipse cx="144.5" cy="237.0" rx="6.7" ry="2.4" transform="rotate(50 144.5 237.0)" fill="#eee0b6"/><ellipse cx="230.4" cy="279.7" rx="6.1" ry="3.1" transform="rotate(132 230.4 279.7)" fill="#f7f0d8"/><ellipse cx="167.5" cy="319.9" rx="5.4" ry="2.9" transform="rotate(42 167.5 319.9)" fill="#eee0b6"/><ellipse cx="315.6" cy="273.4" rx="5.1" ry="3.1" transform="rotate(102 315.6 273.4)" fill="#eee0b6"/><ellipse cx="293.1" cy="319.5" rx="5.8" ry="2.4" transform="rotate(94 293.1 319.5)" fill="#f3e9c8"/><ellipse cx="209.3" cy="248.4" rx="6.3" ry="2.6" transform="rotate(90 209.3 248.4)" fill="#f3e9c8"/><ellipse cx="199.2" cy="282.0" rx="4.8" ry="2.5" transform="rotate(175 199.2 282.0)" fill="#f7f0d8"/><ellipse cx="160.6" cy="305.8" rx="6.9" ry="3.1" transform="rotate(169 160.6 305.8)" fill="#c9ad74"/><ellipse cx="225.6" cy="303.1" rx="6.8" ry="2.3" transform="rotate(110 225.6 303.1)" fill="#f7f0d8"/><ellipse cx="207.4" cy="348.3" rx="6.7" ry="3.2" transform="rotate(6 207.4 348.3)" fill="#f3e9c8"/><ellipse cx="286.6" cy="303.6" rx="6.4" ry="3.0" transform="rotate(94 286.6 303.6)" fill="#f7f0d8"/><ellipse cx="287.5" cy="257.3" rx="4.5" ry="3.0" transform="rotate(60 287.5 257.3)" fill="#eee0b6"/><ellipse cx="141.9" cy="286.6" rx="6.2" ry="2.7" transform="rotate(95 141.9 286.6)" fill="#eee0b6"/><ellipse cx="134.8" cy="335.5" rx="5.1" ry="2.7" transform="rotate(32 134.8 335.5)" fill="#f3e9c8"/><ellipse cx="274.8" cy="244.9" rx="5.2" ry="2.7" transform="rotate(43 274.8 244.9)" fill="#f7f0d8"/><ellipse cx="140.0" cy="334.7" rx="5.3" ry="2.5" transform="rotate(33 140.0 334.7)" fill="#f3e9c8"/><ellipse cx="260.2" cy="301.2" rx="4.7" ry="3.0" transform="rotate(142 260.2 301.2)" fill="#f7f0d8"/><ellipse cx="180.7" cy="353.3" rx="6.8" ry="3.2" transform="rotate(67 180.7 353.3)" fill="#eee0b6"/><ellipse cx="276.4" cy="319.1" rx="5.4" ry="2.5" transform="rotate(61 276.4 319.1)" fill="#e8d8a8"/><ellipse cx="226.3" cy="312.3" rx="4.5" ry="2.7" transform="rotate(86 226.3 312.3)" fill="#e8d8a8"/><ellipse cx="127.4" cy="334.9" rx="5.4" ry="3.1" transform="rotate(173 127.4 334.9)" fill="#d8c08a"/><ellipse cx="111.1" cy="307.9" rx="4.8" ry="2.9" transform="rotate(170 111.1 307.9)" fill="#f3e9c8"/><ellipse cx="300.0" cy="309.9" rx="5.4" ry="2.3" transform="rotate(171 300.0 309.9)" fill="#eee0b6"/><ellipse cx="93.3" cy="220.5" rx="5.3" ry="2.4" transform="rotate(63 93.3 220.5)" fill="#f3e9c8"/><ellipse cx="106.3" cy="276.9" rx="6.4" ry="2.7" transform="rotate(97 106.3 276.9)" fill="#f7f0d8"/><ellipse cx="153.9" cy="315.5" rx="4.9" ry="2.5" transform="rotate(166 153.9 315.5)" fill="#eee0b6"/><ellipse cx="220.0" cy="238.6" rx="5.6" ry="2.8" transform="rotate(143 220.0 238.6)" fill="#c9ad74"/><ellipse cx="290.7" cy="266.7" rx="6.9" ry="2.2" transform="rotate(34 290.7 266.7)" fill="#d8c08a"/><ellipse cx="269.5" cy="256.1" rx="4.9" ry="2.9" transform="rotate(9 269.5 256.1)" fill="#f3e9c8"/><ellipse cx="131.0" cy="321.9" rx="5.7" ry="2.4" transform="rotate(90 131.0 321.9)" fill="#f7f0d8"/><ellipse cx="85.6" cy="233.0" rx="5.7" ry="2.8" transform="rotate(111 85.6 233.0)" fill="#eee0b6"/><ellipse cx="155.9" cy="248.8" rx="5.5" ry="2.7" transform="rotate(159 155.9 248.8)" fill="#f7f0d8"/><ellipse cx="192.4" cy="244.9" rx="6.8" ry="3.1" transform="rotate(164 192.4 244.9)" fill="#f3e9c8"/><ellipse cx="204.8" cy="352.5" rx="6.3" ry="2.4" transform="rotate(52 204.8 352.5)" fill="#f3e9c8"/><ellipse cx="99.7" cy="303.4" rx="5.7" ry="3.1" transform="rotate(62 99.7 303.4)" fill="#f7f0d8"/><ellipse cx="206.1" cy="252.5" rx="5.2" ry="2.8" transform="rotate(0 206.1 252.5)" fill="#eee0b6"/><ellipse cx="236.1" cy="266.3" rx="5.7" ry="2.8" transform="rotate(16 236.1 266.3)" fill="#eee0b6"/><ellipse cx="286.4" cy="321.7" rx="5.8" ry="2.6" transform="rotate(46 286.4 321.7)" fill="#d8c08a"/><ellipse cx="216.6" cy="346.1" rx="5.2" ry="3.0" transform="rotate(88 216.6 346.1)" fill="#eee0b6"/><ellipse cx="203.3" cy="246.5" rx="6.6" ry="3.0" transform="rotate(35 203.3 246.5)" fill="#f3e9c8"/><ellipse cx="249.7" cy="321.6" rx="6.5" ry="2.4" transform="rotate(128 249.7 321.6)" fill="#e8d8a8"/><ellipse cx="162.5" cy="320.6" rx="6.8" ry="2.8" transform="rotate(110 162.5 320.6)" fill="#d8c08a"/><ellipse cx="122.4" cy="304.5" rx="6.1" ry="2.3" transform="rotate(136 122.4 304.5)" fill="#c9ad74"/><ellipse cx="296.3" cy="316.8" rx="5.9" ry="3.1" transform="rotate(141 296.3 316.8)" fill="#d8c08a"/><ellipse cx="238.0" cy="271.2" rx="4.6" ry="2.4" transform="rotate(69 238.0 271.2)" fill="#eee0b6"/><ellipse cx="241.7" cy="317.9" rx="5.3" ry="2.5" transform="rotate(125 241.7 317.9)" fill="#eee0b6"/><ellipse cx="122.8" cy="296.9" rx="5.3" ry="3.1" transform="rotate(124 122.8 296.9)" fill="#d8c08a"/><ellipse cx="317.8" cy="292.2" rx="5.3" ry="2.5" transform="rotate(173 317.8 292.2)" fill="#e8d8a8"/><ellipse cx="208.3" cy="270.5" rx="5.8" ry="2.7" transform="rotate(6 208.3 270.5)" fill="#d8c08a"/><ellipse cx="125.8" cy="285.8" rx="4.7" ry="2.3" transform="rotate(43 125.8 285.8)" fill="#eee0b6"/><ellipse cx="165.6" cy="276.9" rx="5.5" ry="2.6" transform="rotate(171 165.6 276.9)" fill="#f7f0d8"/><ellipse cx="135.0" cy="268.2" rx="5.6" ry="2.9" transform="rotate(173 135.0 268.2)" fill="#f3e9c8"/><ellipse cx="269.4" cy="281.6" rx="6.8" ry="2.5" transform="rotate(115 269.4 281.6)" fill="#d8c08a"/><ellipse cx="213.0" cy="354.6" rx="6.4" ry="2.3" transform="rotate(95 213.0 354.6)" fill="#f3e9c8"/><ellipse cx="113.3" cy="281.0" rx="6.3" ry="2.5" transform="rotate(49 113.3 281.0)" fill="#e8d8a8"/><ellipse cx="270.6" cy="296.9" rx="5.6" ry="2.3" transform="rotate(127 270.6 296.9)" fill="#eee0b6"/><ellipse cx="196.1" cy="347.5" rx="4.7" ry="2.5" transform="rotate(160 196.1 347.5)" fill="#f3e9c8"/><ellipse cx="252.1" cy="262.2" rx="5.9" ry="2.9" transform="rotate(23 252.1 262.2)" fill="#eee0b6"/><ellipse cx="177.8" cy="297.2" rx="4.6" ry="2.9" transform="rotate(123 177.8 297.2)" fill="#f7f0d8"/><ellipse cx="93.6" cy="254.5" rx="6.9" ry="3.1" transform="rotate(84 93.6 254.5)" fill="#f3e9c8"/><ellipse cx="199.1" cy="287.0" rx="4.8" ry="2.5" transform="rotate(57 199.1 287.0)" fill="#c9ad74"/><ellipse cx="131.3" cy="332.8" rx="5.5" ry="3.1" transform="rotate(92 131.3 332.8)" fill="#eee0b6"/><ellipse cx="140.6" cy="320.6" rx="5.4" ry="2.6" transform="rotate(127 140.6 320.6)" fill="#eee0b6"/><ellipse cx="190.5" cy="242.1" rx="5.3" ry="3.0" transform="rotate(112 190.5 242.1)" fill="#eee0b6"/><ellipse cx="191.1" cy="268.1" rx="5.4" ry="3.1" transform="rotate(158 191.1 268.1)" fill="#eee0b6"/><ellipse cx="177.4" cy="300.7" rx="6.3" ry="3.1" transform="rotate(133 177.4 300.7)" fill="#eee0b6"/><ellipse cx="242.2" cy="300.4" rx="5.1" ry="3.0" transform="rotate(78 242.2 300.4)" fill="#f7f0d8"/><ellipse cx="212.5" cy="351.7" rx="4.5" ry="2.6" transform="rotate(62 212.5 351.7)" fill="#e8d8a8"/><ellipse cx="284.4" cy="328.2" rx="6.3" ry="3.0" transform="rotate(70 284.4 328.2)" fill="#f7f0d8"/><ellipse cx="265.4" cy="285.5" rx="5.9" ry="2.7" transform="rotate(45 265.4 285.5)" fill="#e8d8a8"/><ellipse cx="274.1" cy="243.6" rx="5.2" ry="2.8" transform="rotate(131 274.1 243.6)" fill="#c9ad74"/><ellipse cx="209.7" cy="271.7" rx="6.7" ry="2.9" transform="rotate(30 209.7 271.7)" fill="#f7f0d8"/><ellipse cx="148.7" cy="323.0" rx="6.0" ry="2.7" transform="rotate(76 148.7 323.0)" fill="#f3e9c8"/><ellipse cx="210.1" cy="353.5" rx="5.4" ry="3.0" transform="rotate(103 210.1 353.5)" fill="#c9ad74"/><ellipse cx="94.2" cy="239.6" rx="6.6" ry="2.6" transform="rotate(125 94.2 239.6)" fill="#e8d8a8"/><ellipse cx="144.8" cy="249.1" rx="5.4" ry="2.9" transform="rotate(97 144.8 249.1)" fill="#f3e9c8"/><ellipse cx="112.9" cy="241.3" rx="5.1" ry="2.4" transform="rotate(157 112.9 241.3)" fill="#d8c08a"/><ellipse cx="277.5" cy="311.9" rx="6.2" ry="2.2" transform="rotate(48 277.5 311.9)" fill="#eee0b6"/><ellipse cx="283.8" cy="331.8" rx="6.2" ry="2.5" transform="rotate(38 283.8 331.8)" fill="#e8d8a8"/><ellipse cx="195.8" cy="241.8" rx="5.9" ry="2.8" transform="rotate(80 195.8 241.8)" fill="#e8d8a8"/><ellipse cx="131.8" cy="292.2" rx="5.4" ry="2.6" transform="rotate(27 131.8 292.2)" fill="#c9ad74"/><ellipse cx="184.9" cy="326.6" rx="4.9" ry="2.6" transform="rotate(165 184.9 326.6)" fill="#f7f0d8"/><ellipse cx="132.8" cy="250.1" rx="4.6" ry="2.9" transform="rotate(41 132.8 250.1)" fill="#e8d8a8"/><ellipse cx="213.5" cy="286.2" rx="5.4" ry="3.2" transform="rotate(17 213.5 286.2)" fill="#f3e9c8"/><ellipse cx="228.0" cy="332.3" rx="4.6" ry="2.9" transform="rotate(11 228.0 332.3)" fill="#f3e9c8"/><ellipse cx="120.0" cy="235.0" rx="5.3" ry="2.7" transform="rotate(120 120.0 235.0)" fill="#e8d8a8"/><ellipse cx="148.7" cy="282.6" rx="5.1" ry="2.5" transform="rotate(64 148.7 282.6)" fill="#eee0b6"/><ellipse cx="154.2" cy="287.7" rx="6.6" ry="2.7" transform="rotate(48 154.2 287.7)" fill="#f3e9c8"/><ellipse cx="205.5" cy="241.5" rx="6.1" ry="2.9" transform="rotate(160 205.5 241.5)" fill="#e8d8a8"/><ellipse cx="251.6" cy="272.6" rx="5.8" ry="2.7" transform="rotate(74 251.6 272.6)" fill="#eee0b6"/><ellipse cx="209.9" cy="278.0" rx="5.1" ry="2.2" transform="rotate(142 209.9 278.0)" fill="#d8c08a"/><ellipse cx="278.1" cy="292.4" rx="6.7" ry="3.0" transform="rotate(51 278.1 292.4)" fill="#f3e9c8"/><ellipse cx="249.3" cy="304.1" rx="5.5" ry="2.8" transform="rotate(134 249.3 304.1)" fill="#eee0b6"/><ellipse cx="94.0" cy="230.7" rx="5.8" ry="2.5" transform="rotate(175 94.0 230.7)" fill="#f7f0d8"/><ellipse cx="294.8" cy="275.3" rx="7.0" ry="2.2" transform="rotate(178 294.8 275.3)" fill="#f3e9c8"/><ellipse cx="112.8" cy="254.3" rx="5.9" ry="3.1" transform="rotate(115 112.8 254.3)" fill="#f3e9c8"/><ellipse cx="186.1" cy="315.8" rx="4.9" ry="2.7" transform="rotate(107 186.1 315.8)" fill="#f7f0d8"/><ellipse cx="304.6" cy="301.2" rx="5.9" ry="2.5" transform="rotate(39 304.6 301.2)" fill="#eee0b6"/><ellipse cx="222.3" cy="294.2" rx="6.1" ry="2.4" transform="rotate(3 222.3 294.2)" fill="#f3e9c8"/><ellipse cx="160.1" cy="348.0" rx="6.1" ry="2.5" transform="rotate(101 160.1 348.0)" fill="#f3e9c8"/><ellipse cx="282.7" cy="309.5" rx="4.6" ry="3.0" transform="rotate(137 282.7 309.5)" fill="#f3e9c8"/><ellipse cx="110.8" cy="223.3" rx="5.7" ry="3.2" transform="rotate(5 110.8 223.3)" fill="#f3e9c8"/><ellipse cx="237.0" cy="291.5" rx="5.9" ry="2.6" transform="rotate(168 237.0 291.5)" fill="#f3e9c8"/><ellipse cx="201.3" cy="349.8" rx="6.8" ry="2.9" transform="rotate(43 201.3 349.8)" fill="#eee0b6"/><ellipse cx="91.8" cy="220.8" rx="6.6" ry="2.9" transform="rotate(43 91.8 220.8)" fill="#eee0b6"/><ellipse cx="235.1" cy="253.2" rx="4.6" ry="2.7" transform="rotate(129 235.1 253.2)" fill="#eee0b6"/><ellipse cx="172.9" cy="277.6" rx="7.0" ry="2.6" transform="rotate(9 172.9 277.6)" fill="#f3e9c8"/><ellipse cx="226.1" cy="340.9" rx="5.7" ry="3.0" transform="rotate(32 226.1 340.9)" fill="#eee0b6"/><ellipse cx="123.4" cy="309.6" rx="4.6" ry="2.4" transform="rotate(14 123.4 309.6)" fill="#d8c08a"/><ellipse cx="194.3" cy="329.3" rx="6.4" ry="2.9" transform="rotate(112 194.3 329.3)" fill="#e8d8a8"/><ellipse cx="112.7" cy="216.8" rx="6.7" ry="2.6" transform="rotate(7 112.7 216.8)" fill="#f3e9c8"/><ellipse cx="290.8" cy="289.3" rx="4.8" ry="2.5" transform="rotate(165 290.8 289.3)" fill="#f3e9c8"/><ellipse cx="126.1" cy="295.7" rx="5.8" ry="2.6" transform="rotate(30 126.1 295.7)" fill="#f3e9c8"/><ellipse cx="113.2" cy="283.7" rx="5.7" ry="2.2" transform="rotate(91 113.2 283.7)" fill="#eee0b6"/></g>
<path d="M88.0 118.0 L96.0 96.0 L120.0 78.0 L160.0 60.0 L210.0 50.0 L300.0 48.0 L303.0 100.0 L300.0 136.0 L266.0 134.0 L230.0 136.0 L204.0 138.0 L180.0 112.0 L150.0 110.0 L110.0 133.0 Z" fill="#b8925a"/>
<path d="M94.1 109.4 L110.9 94.2 L130.7 74.4 L152.0 69.8 L153.5 95.7 L148.9 110.9 L136.8 126.1 L115.5 130.7 L103.3 129.2 Z" fill="#e9d8a9"/>
<path d="M150.5 68.3 L170.3 63.7 L191.6 66.7 L197.7 88.1 L191.6 104.8 L170.3 106.3 L152.0 100.2 Z" fill="#eadaa9"/>
<path d="M194.6 62.2 L222.0 59.1 L249.4 65.2 L261.6 75.9 L252.5 91.1 L222.0 80.5 L200.7 89.6 Z" fill="#e3d09c"/>
<path d="M203.8 85.0 L217.5 71.3 L249.4 77.4 L266.2 107.9 L260.1 121.6 L212.9 135.3 L205.3 118.5 Z" fill="#e6d59c"/>
<path d="M184.0 98.7 L205.3 92.6 L206.8 121.6 L191.6 113.9 Z" fill="#dcc491"/>
<path d="M260.1 107.9 L276.8 113.9 L298.2 129.2 L267.7 135.3 L252.5 129.2 Z" fill="#c6a66c"/>
<path d="M115.5 74.4 L135.2 69.8 L148.9 75.9 L150.5 100.2 L135.2 100.2 L123.1 94.2 Z" fill="#dca868" opacity="0.55"/>
<path d="M206.8 100.2 L237.3 95.7 L260.1 110.9 L252.5 121.6 L222.0 126.1 Z" fill="#d9c280" opacity="0.5"/>
<path d="M155.0 72.8 L176.4 68.3 L188.5 80.5 L176.4 89.6 L158.1 86.5 Z" fill="#f3e8c8" opacity="0.6"/>
<path d="M97.2 110.9 L110.9 104.8 L118.5 117.0 L107.8 126.1 L98.7 121.6 Z" fill="#f4ead0" opacity="0.6"/>
<path d="M150.5 68.3 L152.8 95.7 L148.9 110.9 L145.9 109.4 L149.7 94.2 L148.2 69.8 Z" fill="#a88450" opacity="0.55"/>
<path d="M194.6 63.7 L197.7 88.1 L205.3 92.6 L203.8 95.7 L194.6 89.6 L192.3 64.5 Z" fill="#a88450" opacity="0.55"/>
<path d="M203.8 85.0 L206.8 118.5 L202.2 118.5 L200.7 86.5 Z" fill="#a88450" opacity="0.55"/>
<path d="M249.4 65.2 L261.6 75.9 L260.1 78.9 L247.9 68.3 Z" fill="#a88450" opacity="0.55"/>
<path d="M214.6 128.7 L240.4 126.1 L266.2 133.8 L292.0 133.8 L317.7 141.5 L320.3 167.3 L328.0 187.9 L307.4 208.6 L281.6 229.2 L240.4 229.2 L224.9 208.6 L224.9 175.1 Z" fill="#2a4618"/>
<g><circle cx="315.3" cy="186.7" r="2.1" fill="#3f6624"/><circle cx="229.6" cy="165.6" r="1.9" fill="#203612"/><circle cx="246.9" cy="156.3" r="2.4" fill="#203612"/><circle cx="259.2" cy="214.0" r="1.6" fill="#203612"/><circle cx="298.6" cy="215.4" r="2.2" fill="#3f6624"/><circle cx="316.5" cy="185.6" r="2.6" fill="#4e7a2e"/><circle cx="230.9" cy="167.7" r="1.6" fill="#5a8636"/><circle cx="246.4" cy="159.4" r="1.7" fill="#5a8636"/><circle cx="244.4" cy="163.8" r="1.7" fill="#203612"/><circle cx="237.2" cy="183.5" r="1.5" fill="#3f6624"/><circle cx="245.8" cy="228.3" r="1.6" fill="#7aa84a"/><circle cx="241.0" cy="175.7" r="2.4" fill="#203612"/><circle cx="262.4" cy="158.8" r="1.8" fill="#3f6624"/><circle cx="267.1" cy="196.8" r="2.4" fill="#2c4a1a"/><circle cx="237.7" cy="189.6" r="1.5" fill="#2c4a1a"/><circle cx="235.4" cy="201.4" r="2.2" fill="#5a8636"/><circle cx="221.2" cy="136.2" r="2.0" fill="#2c4a1a"/><circle cx="292.2" cy="182.6" r="1.9" fill="#4e7a2e"/><circle cx="240.6" cy="129.2" r="1.6" fill="#2c4a1a"/><circle cx="229.2" cy="188.3" r="1.9" fill="#203612"/><circle cx="290.8" cy="201.2" r="2.1" fill="#4e7a2e"/><circle cx="312.5" cy="195.9" r="1.8" fill="#4e7a2e"/><circle cx="286.4" cy="174.4" r="2.0" fill="#2c4a1a"/><circle cx="282.9" cy="178.6" r="1.6" fill="#5a8636"/><circle cx="283.5" cy="196.4" r="2.4" fill="#4e7a2e"/><circle cx="266.3" cy="178.2" r="1.9" fill="#203612"/><circle cx="269.5" cy="167.1" r="1.9" fill="#5a8636"/><circle cx="231.7" cy="141.5" r="2.2" fill="#3f6624"/><circle cx="265.0" cy="156.5" r="2.5" fill="#3f6624"/><circle cx="269.4" cy="139.7" r="2.5" fill="#2c4a1a"/><circle cx="238.9" cy="172.1" r="1.6" fill="#5a8636"/><circle cx="252.7" cy="140.9" r="1.6" fill="#203612"/><circle cx="288.6" cy="174.5" r="2.4" fill="#4e7a2e"/><circle cx="268.0" cy="157.1" r="1.7" fill="#4e7a2e"/><circle cx="322.2" cy="189.8" r="2.3" fill="#3f6624"/><circle cx="271.8" cy="140.5" r="2.5" fill="#5a8636"/><circle cx="242.9" cy="183.0" r="1.7" fill="#3f6624"/><circle cx="300.7" cy="160.8" r="2.3" fill="#3f6624"/><circle cx="267.2" cy="138.3" r="1.7" fill="#2c4a1a"/><circle cx="270.9" cy="192.5" r="1.9" fill="#3f6624"/><circle cx="325.2" cy="188.5" r="2.3" fill="#2c4a1a"/><circle cx="284.2" cy="205.5" r="2.5" fill="#5a8636"/><circle cx="260.8" cy="192.9" r="2.0" fill="#3f6624"/><circle cx="288.0" cy="162.4" r="2.4" fill="#3f6624"/><circle cx="291.3" cy="213.1" r="2.2" fill="#3f6624"/><circle cx="250.4" cy="136.5" r="2.5" fill="#203612"/><circle cx="257.5" cy="138.1" r="2.2" fill="#2c4a1a"/><circle cx="224.2" cy="152.3" r="1.7" fill="#203612"/><circle cx="254.6" cy="174.9" r="1.8" fill="#2c4a1a"/><circle cx="246.2" cy="201.2" r="2.2" fill="#2c4a1a"/><circle cx="251.6" cy="145.8" r="1.6" fill="#2c4a1a"/><circle cx="266.0" cy="187.8" r="1.5" fill="#3f6624"/><circle cx="254.7" cy="226.3" r="2.5" fill="#3f6624"/><circle cx="279.8" cy="139.1" r="1.6" fill="#203612"/><circle cx="225.7" cy="135.6" r="1.7" fill="#3f6624"/><circle cx="280.2" cy="218.6" r="2.3" fill="#4e7a2e"/><circle cx="268.3" cy="206.3" r="1.7" fill="#7aa84a"/><circle cx="261.5" cy="179.2" r="2.3" fill="#203612"/><circle cx="304.1" cy="211.2" r="1.7" fill="#2c4a1a"/><circle cx="249.7" cy="171.3" r="2.1" fill="#5a8636"/><circle cx="302.9" cy="160.3" r="2.4" fill="#203612"/><circle cx="276.8" cy="135.7" r="1.6" fill="#4e7a2e"/><circle cx="301.8" cy="187.0" r="2.0" fill="#7aa84a"/><circle cx="237.7" cy="173.8" r="2.2" fill="#3f6624"/><circle cx="230.2" cy="146.4" r="2.1" fill="#5a8636"/><circle cx="257.7" cy="142.5" r="2.6" fill="#203612"/><circle cx="300.4" cy="210.4" r="1.7" fill="#4e7a2e"/><circle cx="233.3" cy="149.9" r="2.5" fill="#4e7a2e"/><circle cx="229.1" cy="162.4" r="2.2" fill="#3f6624"/><circle cx="302.7" cy="171.1" r="2.0" fill="#3f6624"/><circle cx="266.2" cy="196.7" r="1.9" fill="#203612"/><circle cx="231.1" cy="130.7" r="1.9" fill="#3f6624"/><circle cx="256.4" cy="158.2" r="2.1" fill="#2c4a1a"/><circle cx="257.9" cy="144.3" r="1.5" fill="#2c4a1a"/><circle cx="240.8" cy="200.7" r="1.6" fill="#203612"/><circle cx="250.4" cy="205.3" r="1.8" fill="#203612"/><circle cx="254.9" cy="174.7" r="1.8" fill="#203612"/><circle cx="319.0" cy="188.0" r="2.5" fill="#4e7a2e"/><circle cx="305.9" cy="138.6" r="2.0" fill="#3f6624"/><circle cx="291.8" cy="147.1" r="2.5" fill="#4e7a2e"/><circle cx="247.8" cy="169.3" r="2.2" fill="#4e7a2e"/><circle cx="222.7" cy="151.4" r="1.9" fill="#203612"/><circle cx="221.8" cy="131.3" r="2.1" fill="#3f6624"/><circle cx="278.7" cy="156.1" r="2.2" fill="#2c4a1a"/><circle cx="270.4" cy="165.0" r="1.6" fill="#3f6624"/><circle cx="248.4" cy="137.9" r="2.0" fill="#2c4a1a"/><circle cx="314.3" cy="163.2" r="2.1" fill="#3f6624"/><circle cx="226.1" cy="207.0" r="2.0" fill="#5a8636"/><circle cx="299.8" cy="178.0" r="2.4" fill="#203612"/><circle cx="297.0" cy="195.6" r="2.1" fill="#5a8636"/><circle cx="274.2" cy="210.5" r="1.6" fill="#4e7a2e"/><circle cx="284.5" cy="187.8" r="1.6" fill="#4e7a2e"/><circle cx="257.2" cy="223.9" r="2.1" fill="#2c4a1a"/><circle cx="300.1" cy="176.5" r="1.8" fill="#203612"/><circle cx="302.8" cy="154.4" r="2.3" fill="#2c4a1a"/><circle cx="269.0" cy="160.9" r="2.5" fill="#2c4a1a"/><circle cx="228.7" cy="172.0" r="2.2" fill="#3f6624"/><circle cx="252.5" cy="168.4" r="2.0" fill="#5a8636"/><circle cx="240.5" cy="151.3" r="2.2" fill="#3f6624"/><circle cx="254.3" cy="228.3" r="1.5" fill="#3f6624"/><circle cx="238.4" cy="201.4" r="1.5" fill="#203612"/><circle cx="242.1" cy="207.2" r="1.8" fill="#4e7a2e"/><circle cx="295.9" cy="174.8" r="2.3" fill="#203612"/><circle cx="245.4" cy="180.2" r="1.9" fill="#7aa84a"/><circle cx="238.6" cy="149.4" r="2.5" fill="#4e7a2e"/><circle cx="307.8" cy="184.5" r="2.3" fill="#2c4a1a"/><circle cx="270.0" cy="218.2" r="2.0" fill="#4e7a2e"/><circle cx="290.1" cy="197.6" r="2.2" fill="#3f6624"/><circle cx="305.7" cy="173.7" r="2.0" fill="#2c4a1a"/><circle cx="276.8" cy="137.3" r="1.9" fill="#2c4a1a"/><circle cx="240.4" cy="148.9" r="2.3" fill="#3f6624"/><circle cx="313.0" cy="188.9" r="2.2" fill="#203612"/><circle cx="253.1" cy="133.4" r="1.6" fill="#7aa84a"/><circle cx="318.0" cy="194.9" r="2.4" fill="#5a8636"/><circle cx="284.3" cy="191.9" r="2.2" fill="#4e7a2e"/><circle cx="281.9" cy="214.0" r="2.6" fill="#203612"/><circle cx="316.4" cy="167.0" r="1.9" fill="#2c4a1a"/><circle cx="245.8" cy="197.3" r="1.8" fill="#2c4a1a"/><circle cx="228.7" cy="187.7" r="2.4" fill="#3f6624"/><circle cx="274.8" cy="149.4" r="1.8" fill="#2c4a1a"/><circle cx="247.7" cy="176.4" r="1.8" fill="#5a8636"/><circle cx="246.9" cy="210.1" r="2.3" fill="#203612"/><circle cx="312.9" cy="202.5" r="1.6" fill="#2c4a1a"/><circle cx="302.6" cy="142.4" r="2.2" fill="#5a8636"/><circle cx="272.5" cy="153.8" r="1.9" fill="#4e7a2e"/><circle cx="290.5" cy="152.9" r="1.8" fill="#2c4a1a"/><circle cx="250.9" cy="194.6" r="2.6" fill="#4e7a2e"/><circle cx="280.6" cy="133.9" r="2.5" fill="#2c4a1a"/><circle cx="296.0" cy="180.4" r="2.4" fill="#2c4a1a"/><circle cx="270.9" cy="172.1" r="2.3" fill="#2c4a1a"/><circle cx="274.3" cy="221.5" r="1.6" fill="#7aa84a"/><circle cx="294.2" cy="160.0" r="2.1" fill="#203612"/><circle cx="274.3" cy="154.5" r="2.5" fill="#3f6624"/><circle cx="302.1" cy="163.9" r="1.5" fill="#2c4a1a"/><circle cx="233.2" cy="131.2" r="2.2" fill="#5a8636"/><circle cx="248.2" cy="150.1" r="1.7" fill="#2c4a1a"/><circle cx="270.6" cy="169.4" r="2.5" fill="#3f6624"/><circle cx="308.4" cy="181.0" r="1.5" fill="#2c4a1a"/><circle cx="294.3" cy="150.0" r="2.4" fill="#7aa84a"/><circle cx="242.4" cy="142.2" r="2.5" fill="#4e7a2e"/><circle cx="256.5" cy="219.9" r="1.8" fill="#2c4a1a"/><circle cx="314.5" cy="162.5" r="1.9" fill="#2c4a1a"/><circle cx="263.8" cy="189.6" r="1.6" fill="#7aa84a"/><circle cx="306.3" cy="153.1" r="1.8" fill="#203612"/><circle cx="277.5" cy="181.4" r="2.5" fill="#203612"/><circle cx="240.0" cy="146.6" r="1.8" fill="#5a8636"/><circle cx="258.8" cy="227.6" r="2.3" fill="#2c4a1a"/><circle cx="238.3" cy="126.5" r="1.6" fill="#2c4a1a"/><circle cx="283.4" cy="175.2" r="2.2" fill="#2c4a1a"/><circle cx="229.8" cy="187.3" r="2.4" fill="#7aa84a"/><circle cx="230.2" cy="157.4" r="2.0" fill="#2c4a1a"/><circle cx="313.0" cy="196.4" r="2.0" fill="#203612"/><circle cx="306.0" cy="148.4" r="1.6" fill="#3f6624"/><circle cx="268.3" cy="227.8" r="2.0" fill="#3f6624"/><circle cx="245.4" cy="189.7" r="2.2" fill="#2c4a1a"/><circle cx="272.0" cy="141.1" r="1.6" fill="#5a8636"/><circle cx="223.7" cy="169.1" r="2.3" fill="#203612"/><circle cx="266.5" cy="171.6" r="2.4" fill="#2c4a1a"/><circle cx="260.9" cy="141.0" r="1.6" fill="#3f6624"/><circle cx="230.2" cy="211.4" r="2.5" fill="#5a8636"/><circle cx="232.7" cy="154.6" r="2.1" fill="#203612"/><circle cx="237.3" cy="170.6" r="2.5" fill="#203612"/><circle cx="244.1" cy="130.9" r="2.0" fill="#5a8636"/><circle cx="238.1" cy="147.2" r="1.5" fill="#2c4a1a"/><circle cx="313.4" cy="141.9" r="2.1" fill="#2c4a1a"/><circle cx="284.3" cy="220.1" r="1.8" fill="#203612"/><circle cx="247.5" cy="204.4" r="2.5" fill="#3f6624"/><circle cx="315.8" cy="161.7" r="2.1" fill="#4e7a2e"/><circle cx="288.0" cy="158.1" r="1.5" fill="#2c4a1a"/><circle cx="242.1" cy="136.4" r="1.7" fill="#203612"/><circle cx="245.6" cy="163.5" r="2.4" fill="#4e7a2e"/><circle cx="325.8" cy="188.3" r="2.2" fill="#4e7a2e"/><circle cx="251.4" cy="165.2" r="1.8" fill="#5a8636"/><circle cx="312.6" cy="200.3" r="1.5" fill="#2c4a1a"/><circle cx="263.9" cy="213.4" r="2.1" fill="#5a8636"/><circle cx="277.4" cy="196.0" r="2.1" fill="#5a8636"/><circle cx="228.6" cy="171.4" r="2.5" fill="#4e7a2e"/><circle cx="279.8" cy="179.5" r="1.7" fill="#3f6624"/><circle cx="224.3" cy="149.6" r="1.7" fill="#3f6624"/><circle cx="234.1" cy="192.3" r="2.2" fill="#5a8636"/><circle cx="284.1" cy="156.6" r="2.3" fill="#5a8636"/><circle cx="297.8" cy="186.4" r="2.2" fill="#4e7a2e"/><circle cx="301.8" cy="155.8" r="2.0" fill="#3f6624"/><circle cx="296.2" cy="145.2" r="2.6" fill="#4e7a2e"/><circle cx="258.3" cy="135.0" r="2.2" fill="#2c4a1a"/><circle cx="284.5" cy="206.8" r="2.3" fill="#3f6624"/><circle cx="286.6" cy="182.6" r="2.1" fill="#7aa84a"/><circle cx="291.2" cy="198.6" r="2.6" fill="#3f6624"/><circle cx="233.5" cy="178.8" r="1.7" fill="#3f6624"/><circle cx="234.7" cy="199.5" r="2.1" fill="#2c4a1a"/><circle cx="317.7" cy="172.3" r="2.0" fill="#7aa84a"/><circle cx="255.0" cy="171.6" r="1.6" fill="#4e7a2e"/><circle cx="268.1" cy="183.1" r="2.2" fill="#203612"/><circle cx="322.9" cy="187.8" r="2.1" fill="#3f6624"/><circle cx="269.9" cy="155.8" r="1.8" fill="#2c4a1a"/><circle cx="262.5" cy="188.1" r="2.2" fill="#3f6624"/><circle cx="304.9" cy="209.0" r="2.6" fill="#3f6624"/><circle cx="252.6" cy="152.3" r="2.0" fill="#203612"/><circle cx="243.7" cy="214.8" r="2.5" fill="#3f6624"/><circle cx="260.1" cy="185.6" r="2.1" fill="#5a8636"/><circle cx="216.4" cy="131.5" r="1.8" fill="#203612"/><circle cx="234.6" cy="177.1" r="1.5" fill="#203612"/><circle cx="216.1" cy="131.6" r="2.0" fill="#3f6624"/><circle cx="288.1" cy="214.2" r="2.5" fill="#5a8636"/><circle cx="241.9" cy="164.5" r="1.6" fill="#5a8636"/><circle cx="269.4" cy="146.7" r="2.4" fill="#5a8636"/><circle cx="281.3" cy="135.5" r="1.7" fill="#3f6624"/><circle cx="292.6" cy="149.5" r="2.1" fill="#7aa84a"/><circle cx="272.4" cy="144.4" r="2.2" fill="#2c4a1a"/><circle cx="218.6" cy="134.8" r="1.7" fill="#5a8636"/><circle cx="301.6" cy="172.1" r="2.2" fill="#2c4a1a"/><circle cx="285.2" cy="172.0" r="2.3" fill="#5a8636"/><circle cx="303.7" cy="151.7" r="1.6" fill="#203612"/><circle cx="272.2" cy="145.1" r="1.8" fill="#5a8636"/><circle cx="263.8" cy="210.2" r="2.0" fill="#4e7a2e"/><circle cx="270.5" cy="167.3" r="2.2" fill="#2c4a1a"/><circle cx="292.6" cy="158.8" r="1.9" fill="#5a8636"/><circle cx="269.2" cy="178.9" r="2.3" fill="#2c4a1a"/><circle cx="260.4" cy="151.6" r="2.0" fill="#5a8636"/><circle cx="262.9" cy="206.9" r="1.6" fill="#5a8636"/><circle cx="243.3" cy="156.8" r="2.0" fill="#4e7a2e"/><circle cx="232.3" cy="191.0" r="1.7" fill="#2c4a1a"/><circle cx="241.1" cy="206.4" r="1.8" fill="#203612"/><circle cx="305.4" cy="188.3" r="1.7" fill="#5a8636"/><circle cx="235.9" cy="180.1" r="2.0" fill="#5a8636"/><circle cx="278.6" cy="192.6" r="2.4" fill="#3f6624"/><circle cx="308.5" cy="205.7" r="2.1" fill="#7aa84a"/><circle cx="226.3" cy="194.2" r="2.2" fill="#3f6624"/><circle cx="283.5" cy="170.3" r="1.8" fill="#3f6624"/><circle cx="315.1" cy="158.9" r="2.0" fill="#3f6624"/><circle cx="286.4" cy="204.0" r="2.4" fill="#203612"/><circle cx="265.3" cy="193.2" r="2.4" fill="#3f6624"/><circle cx="277.8" cy="179.7" r="1.5" fill="#3f6624"/><circle cx="268.6" cy="224.1" r="2.5" fill="#2c4a1a"/><circle cx="304.4" cy="154.9" r="2.5" fill="#2c4a1a"/><circle cx="248.5" cy="222.9" r="2.4" fill="#7aa84a"/><circle cx="234.8" cy="178.1" r="1.9" fill="#2c4a1a"/><circle cx="307.3" cy="155.9" r="1.7" fill="#7aa84a"/><circle cx="281.1" cy="199.6" r="2.5" fill="#3f6624"/><circle cx="279.1" cy="216.1" r="1.8" fill="#2c4a1a"/><circle cx="282.6" cy="224.6" r="1.6" fill="#7aa84a"/><circle cx="267.6" cy="147.3" r="2.2" fill="#203612"/><circle cx="277.2" cy="152.4" r="2.0" fill="#5a8636"/><circle cx="280.5" cy="141.5" r="1.6" fill="#3f6624"/><circle cx="274.2" cy="202.1" r="2.5" fill="#3f6624"/><circle cx="289.3" cy="155.6" r="1.9" fill="#4e7a2e"/><circle cx="242.3" cy="224.2" r="1.7" fill="#7aa84a"/><circle cx="232.3" cy="165.8" r="1.9" fill="#3f6624"/><circle cx="232.9" cy="167.3" r="2.4" fill="#2c4a1a"/><circle cx="295.4" cy="170.2" r="2.5" fill="#4e7a2e"/><circle cx="320.1" cy="168.7" r="1.6" fill="#5a8636"/><circle cx="251.8" cy="190.2" r="2.3" fill="#2c4a1a"/><circle cx="262.6" cy="176.1" r="2.2" fill="#203612"/><circle cx="290.2" cy="150.3" r="2.0" fill="#7aa84a"/><circle cx="265.6" cy="154.1" r="2.6" fill="#3f6624"/><circle cx="242.2" cy="181.2" r="2.5" fill="#7aa84a"/><circle cx="252.0" cy="200.6" r="2.3" fill="#5a8636"/><circle cx="225.1" cy="131.3" r="1.8" fill="#2c4a1a"/><circle cx="247.2" cy="137.9" r="2.1" fill="#2c4a1a"/><circle cx="232.7" cy="135.8" r="1.6" fill="#203612"/><circle cx="270.3" cy="156.7" r="2.1" fill="#203612"/><circle cx="307.7" cy="166.2" r="1.6" fill="#203612"/><circle cx="275.8" cy="142.0" r="2.5" fill="#2c4a1a"/><circle cx="297.7" cy="188.1" r="1.7" fill="#5a8636"/><circle cx="264.9" cy="196.0" r="1.8" fill="#2c4a1a"/><circle cx="301.2" cy="175.5" r="2.4" fill="#3f6624"/><circle cx="247.6" cy="166.5" r="1.6" fill="#2c4a1a"/><circle cx="276.4" cy="223.1" r="2.2" fill="#5a8636"/><circle cx="264.1" cy="189.1" r="2.2" fill="#3f6624"/><circle cx="288.9" cy="147.5" r="2.0" fill="#5a8636"/><circle cx="220.9" cy="151.1" r="1.7" fill="#203612"/><circle cx="297.9" cy="205.5" r="1.9" fill="#4e7a2e"/><circle cx="267.8" cy="154.1" r="2.3" fill="#5a8636"/><circle cx="272.1" cy="197.4" r="2.2" fill="#2c4a1a"/><circle cx="284.4" cy="176.6" r="2.0" fill="#5a8636"/><circle cx="237.0" cy="208.0" r="1.5" fill="#5a8636"/><circle cx="308.8" cy="193.2" r="2.5" fill="#2c4a1a"/><circle cx="272.3" cy="173.5" r="1.8" fill="#2c4a1a"/><circle cx="233.6" cy="130.3" r="2.2" fill="#7aa84a"/><circle cx="266.4" cy="221.7" r="2.0" fill="#7aa84a"/><circle cx="298.6" cy="157.9" r="2.3" fill="#2c4a1a"/><circle cx="282.7" cy="138.1" r="1.7" fill="#203612"/><circle cx="285.2" cy="191.7" r="1.9" fill="#2c4a1a"/><circle cx="227.3" cy="130.1" r="2.4" fill="#3f6624"/><circle cx="240.7" cy="134.5" r="2.4" fill="#203612"/><circle cx="238.1" cy="203.5" r="1.7" fill="#2c4a1a"/><circle cx="232.9" cy="201.8" r="1.8" fill="#203612"/><circle cx="317.7" cy="184.4" r="2.3" fill="#2c4a1a"/><circle cx="308.9" cy="204.4" r="2.6" fill="#5a8636"/><circle cx="265.2" cy="191.8" r="2.1" fill="#203612"/><circle cx="245.4" cy="218.5" r="1.9" fill="#4e7a2e"/><circle cx="282.8" cy="190.0" r="2.1" fill="#4e7a2e"/><circle cx="300.8" cy="143.5" r="2.0" fill="#7aa84a"/><circle cx="245.8" cy="163.5" r="2.1" fill="#203612"/><circle cx="300.1" cy="212.3" r="1.6" fill="#203612"/><circle cx="267.1" cy="156.7" r="1.7" fill="#203612"/><circle cx="283.2" cy="182.0" r="2.1" fill="#2c4a1a"/><circle cx="249.2" cy="149.1" r="2.0" fill="#2c4a1a"/><circle cx="281.0" cy="195.6" r="2.2" fill="#3f6624"/><circle cx="299.2" cy="147.1" r="2.3" fill="#5a8636"/><circle cx="274.8" cy="220.1" r="2.4" fill="#4e7a2e"/><circle cx="244.9" cy="190.7" r="1.7" fill="#2c4a1a"/><circle cx="288.5" cy="166.0" r="2.4" fill="#4e7a2e"/><circle cx="253.3" cy="159.1" r="1.6" fill="#2c4a1a"/><circle cx="302.5" cy="172.8" r="1.6" fill="#4e7a2e"/><circle cx="318.7" cy="161.0" r="1.6" fill="#7aa84a"/><circle cx="274.8" cy="135.5" r="2.1" fill="#203612"/><circle cx="286.6" cy="184.5" r="1.7" fill="#2c4a1a"/><circle cx="263.7" cy="155.9" r="1.6" fill="#4e7a2e"/><circle cx="228.2" cy="136.7" r="1.7" fill="#4e7a2e"/><circle cx="281.0" cy="167.2" r="1.7" fill="#3f6624"/><circle cx="256.8" cy="188.0" r="1.6" fill="#203612"/><circle cx="254.7" cy="222.2" r="1.7" fill="#7aa84a"/><circle cx="222.6" cy="140.3" r="2.1" fill="#5a8636"/><circle cx="280.8" cy="158.2" r="1.6" fill="#203612"/><circle cx="265.5" cy="143.9" r="2.2" fill="#3f6624"/><circle cx="318.1" cy="148.9" r="1.6" fill="#3f6624"/><circle cx="234.9" cy="182.5" r="1.7" fill="#7aa84a"/><circle cx="283.1" cy="150.8" r="2.3" fill="#2c4a1a"/><circle cx="238.8" cy="158.0" r="2.2" fill="#5a8636"/><circle cx="277.4" cy="150.2" r="1.6" fill="#3f6624"/><circle cx="280.5" cy="135.0" r="2.6" fill="#4e7a2e"/><circle cx="324.2" cy="190.4" r="1.9" fill="#2c4a1a"/><circle cx="249.7" cy="133.0" r="1.5" fill="#3f6624"/><circle cx="269.3" cy="150.0" r="2.5" fill="#4e7a2e"/><circle cx="305.6" cy="162.5" r="2.4" fill="#203612"/><circle cx="298.6" cy="162.3" r="2.0" fill="#2c4a1a"/><circle cx="296.1" cy="152.0" r="2.4" fill="#5a8636"/><circle cx="293.2" cy="202.5" r="2.5" fill="#7aa84a"/><circle cx="289.6" cy="182.8" r="2.5" fill="#5a8636"/><circle cx="236.2" cy="177.7" r="2.3" fill="#3f6624"/><circle cx="284.9" cy="166.9" r="2.0" fill="#7aa84a"/><circle cx="225.1" cy="189.6" r="2.2" fill="#5a8636"/><circle cx="272.1" cy="228.1" r="2.0" fill="#4e7a2e"/><circle cx="290.3" cy="209.1" r="1.6" fill="#4e7a2e"/><circle cx="241.0" cy="210.5" r="1.7" fill="#4e7a2e"/><circle cx="281.2" cy="218.2" r="1.6" fill="#4e7a2e"/><circle cx="247.7" cy="189.4" r="1.8" fill="#203612"/><circle cx="285.7" cy="202.3" r="2.3" fill="#4e7a2e"/><circle cx="226.1" cy="143.9" r="2.1" fill="#3f6624"/><circle cx="231.5" cy="135.0" r="2.4" fill="#7aa84a"/><circle cx="272.9" cy="227.1" r="2.1" fill="#3f6624"/><circle cx="302.5" cy="202.0" r="2.0" fill="#3f6624"/><circle cx="221.6" cy="134.6" r="2.5" fill="#7aa84a"/><circle cx="236.0" cy="173.5" r="2.1" fill="#203612"/><circle cx="220.5" cy="146.6" r="2.3" fill="#5a8636"/><circle cx="224.9" cy="158.5" r="1.9" fill="#3f6624"/><circle cx="322.8" cy="191.5" r="1.6" fill="#4e7a2e"/><circle cx="256.0" cy="213.4" r="2.2" fill="#5a8636"/><circle cx="264.3" cy="134.9" r="1.7" fill="#5a8636"/><circle cx="245.1" cy="179.7" r="2.3" fill="#2c4a1a"/><circle cx="228.0" cy="190.1" r="2.1" fill="#2c4a1a"/><circle cx="246.6" cy="172.5" r="2.2" fill="#5a8636"/><circle cx="252.7" cy="162.2" r="2.3" fill="#2c4a1a"/><circle cx="238.7" cy="145.9" r="2.4" fill="#3f6624"/><circle cx="306.9" cy="174.7" r="1.8" fill="#5a8636"/><circle cx="266.1" cy="152.2" r="1.9" fill="#3f6624"/><circle cx="241.7" cy="153.3" r="2.4" fill="#2c4a1a"/><circle cx="235.9" cy="158.4" r="2.4" fill="#5a8636"/><circle cx="254.4" cy="139.3" r="1.7" fill="#4e7a2e"/><circle cx="234.5" cy="213.5" r="2.0" fill="#2c4a1a"/><circle cx="242.6" cy="228.6" r="2.3" fill="#203612"/><circle cx="286.7" cy="149.5" r="2.1" fill="#2c4a1a"/><circle cx="307.3" cy="151.0" r="2.2" fill="#4e7a2e"/><circle cx="238.2" cy="224.9" r="2.3" fill="#203612"/><circle cx="248.4" cy="205.6" r="2.0" fill="#5a8636"/><circle cx="259.4" cy="214.0" r="1.9" fill="#2c4a1a"/><circle cx="307.4" cy="175.5" r="1.8" fill="#2c4a1a"/><circle cx="247.9" cy="135.8" r="2.1" fill="#3f6624"/><circle cx="257.4" cy="183.5" r="1.9" fill="#203612"/><circle cx="243.6" cy="203.4" r="2.5" fill="#2c4a1a"/><circle cx="234.3" cy="210.1" r="1.6" fill="#4e7a2e"/><circle cx="304.3" cy="200.3" r="1.9" fill="#5a8636"/><circle cx="307.2" cy="206.8" r="1.6" fill="#4e7a2e"/><circle cx="294.7" cy="148.5" r="2.5" fill="#2c4a1a"/><circle cx="295.5" cy="160.4" r="2.4" fill="#3f6624"/><circle cx="296.6" cy="199.0" r="2.5" fill="#5a8636"/><circle cx="314.9" cy="146.1" r="1.8" fill="#3f6624"/><circle cx="260.9" cy="176.5" r="2.5" fill="#2c4a1a"/><circle cx="242.2" cy="134.5" r="1.9" fill="#5a8636"/><circle cx="286.6" cy="170.4" r="1.6" fill="#2c4a1a"/><circle cx="284.0" cy="177.1" r="2.0" fill="#5a8636"/><circle cx="220.9" cy="149.9" r="1.8" fill="#203612"/><circle cx="263.6" cy="156.6" r="1.6" fill="#203612"/><circle cx="295.7" cy="161.5" r="1.9" fill="#203612"/><circle cx="226.2" cy="158.8" r="2.2" fill="#5a8636"/><circle cx="312.8" cy="154.1" r="2.2" fill="#2c4a1a"/><circle cx="226.2" cy="133.7" r="2.5" fill="#7aa84a"/><circle cx="281.5" cy="216.3" r="1.8" fill="#4e7a2e"/><circle cx="287.3" cy="191.0" r="1.6" fill="#3f6624"/><circle cx="240.8" cy="191.2" r="2.2" fill="#7aa84a"/><circle cx="226.0" cy="164.2" r="2.0" fill="#4e7a2e"/><circle cx="235.4" cy="162.6" r="1.8" fill="#203612"/><circle cx="282.6" cy="193.7" r="1.9" fill="#2c4a1a"/><circle cx="257.2" cy="154.8" r="2.1" fill="#4e7a2e"/><circle cx="269.5" cy="190.3" r="1.8" fill="#3f6624"/><circle cx="240.4" cy="197.7" r="1.6" fill="#2c4a1a"/><circle cx="290.5" cy="202.5" r="2.1" fill="#2c4a1a"/><circle cx="227.7" cy="138.5" r="2.0" fill="#3f6624"/><circle cx="223.4" cy="138.6" r="2.6" fill="#4e7a2e"/><circle cx="230.1" cy="146.9" r="1.5" fill="#4e7a2e"/><circle cx="250.7" cy="201.7" r="2.5" fill="#4e7a2e"/><circle cx="301.1" cy="207.2" r="2.0" fill="#203612"/><circle cx="320.1" cy="185.0" r="2.0" fill="#2c4a1a"/><circle cx="295.0" cy="175.8" r="2.3" fill="#4e7a2e"/><circle cx="294.2" cy="215.8" r="2.5" fill="#2c4a1a"/><circle cx="250.9" cy="157.4" r="2.2" fill="#2c4a1a"/><circle cx="288.3" cy="219.9" r="1.8" fill="#2c4a1a"/><circle cx="304.5" cy="202.2" r="2.5" fill="#4e7a2e"/><circle cx="298.5" cy="210.4" r="2.2" fill="#5a8636"/><circle cx="309.0" cy="142.3" r="2.3" fill="#2c4a1a"/><circle cx="236.1" cy="213.8" r="1.7" fill="#203612"/><circle cx="289.2" cy="190.3" r="2.5" fill="#2c4a1a"/><circle cx="228.3" cy="198.3" r="2.5" fill="#5a8636"/><circle cx="261.4" cy="150.1" r="1.9" fill="#4e7a2e"/><circle cx="281.7" cy="168.7" r="2.4" fill="#2c4a1a"/><circle cx="233.1" cy="149.8" r="1.5" fill="#203612"/><circle cx="257.5" cy="165.9" r="2.4" fill="#4e7a2e"/><circle cx="298.8" cy="162.9" r="2.2" fill="#203612"/><circle cx="267.9" cy="169.7" r="2.1" fill="#3f6624"/><circle cx="260.3" cy="179.6" r="2.2" fill="#203612"/><circle cx="230.3" cy="154.1" r="1.9" fill="#4e7a2e"/><circle cx="256.5" cy="202.9" r="2.5" fill="#5a8636"/><circle cx="286.8" cy="196.7" r="1.7" fill="#7aa84a"/><circle cx="263.2" cy="196.2" r="1.7" fill="#203612"/><circle cx="243.7" cy="225.2" r="2.0" fill="#5a8636"/><circle cx="271.7" cy="139.1" r="1.6" fill="#3f6624"/><circle cx="265.8" cy="175.5" r="2.1" fill="#4e7a2e"/><circle cx="234.9" cy="196.2" r="2.0" fill="#5a8636"/><circle cx="261.1" cy="196.0" r="1.6" fill="#5a8636"/><circle cx="243.0" cy="186.1" r="2.3" fill="#5a8636"/><circle cx="298.8" cy="189.8" r="1.6" fill="#5a8636"/><circle cx="237.0" cy="165.2" r="1.8" fill="#5a8636"/><circle cx="276.6" cy="226.4" r="2.0" fill="#2c4a1a"/><circle cx="279.8" cy="192.9" r="2.5" fill="#5a8636"/><circle cx="256.6" cy="203.4" r="1.8" fill="#5a8636"/><circle cx="240.2" cy="133.8" r="2.5" fill="#5a8636"/><circle cx="307.2" cy="189.0" r="1.8" fill="#5a8636"/><circle cx="264.9" cy="212.0" r="2.6" fill="#5a8636"/><circle cx="276.3" cy="187.0" r="2.5" fill="#3f6624"/><circle cx="234.9" cy="219.0" r="1.9" fill="#7aa84a"/></g><g opacity="0.8"><circle cx="245.7" cy="158.7" r="0.8" fill="#96be5e"/><circle cx="236.5" cy="182.8" r="0.7" fill="#96be5e"/><circle cx="237.0" cy="188.9" r="0.7" fill="#96be5e"/><circle cx="291.5" cy="181.9" r="0.9" fill="#96be5e"/><circle cx="239.9" cy="128.5" r="0.7" fill="#96be5e"/><circle cx="228.5" cy="187.6" r="0.8" fill="#96be5e"/><circle cx="285.7" cy="173.7" r="0.9" fill="#96be5e"/><circle cx="282.2" cy="177.9" r="0.7" fill="#96be5e"/><circle cx="282.8" cy="195.7" r="1.1" fill="#96be5e"/><circle cx="264.3" cy="155.8" r="1.1" fill="#96be5e"/><circle cx="252.0" cy="140.2" r="0.7" fill="#96be5e"/><circle cx="287.9" cy="173.8" r="1.1" fill="#96be5e"/><circle cx="270.2" cy="191.8" r="0.9" fill="#96be5e"/><circle cx="260.1" cy="192.2" r="0.9" fill="#96be5e"/><circle cx="290.6" cy="212.4" r="1.0" fill="#96be5e"/><circle cx="249.7" cy="135.8" r="1.1" fill="#96be5e"/><circle cx="253.9" cy="174.2" r="0.8" fill="#96be5e"/><circle cx="265.3" cy="187.1" r="0.7" fill="#96be5e"/><circle cx="267.6" cy="205.6" r="0.8" fill="#96be5e"/><circle cx="303.4" cy="210.5" r="0.7" fill="#96be5e"/><circle cx="249.0" cy="170.6" r="1.0" fill="#96be5e"/><circle cx="302.2" cy="159.6" r="1.1" fill="#96be5e"/><circle cx="276.1" cy="135.0" r="0.7" fill="#96be5e"/><circle cx="301.1" cy="186.3" r="0.9" fill="#96be5e"/><circle cx="237.0" cy="173.1" r="1.0" fill="#96be5e"/><circle cx="229.5" cy="145.7" r="1.0" fill="#96be5e"/><circle cx="257.0" cy="141.8" r="1.2" fill="#96be5e"/><circle cx="299.7" cy="209.7" r="0.8" fill="#96be5e"/><circle cx="232.6" cy="149.2" r="1.1" fill="#96be5e"/><circle cx="302.0" cy="170.4" r="0.9" fill="#96be5e"/><circle cx="230.4" cy="130.0" r="0.9" fill="#96be5e"/><circle cx="240.1" cy="200.0" r="0.7" fill="#96be5e"/><circle cx="249.7" cy="204.6" r="0.8" fill="#96be5e"/><circle cx="318.3" cy="187.3" r="1.1" fill="#96be5e"/><circle cx="291.1" cy="146.4" r="1.1" fill="#96be5e"/><circle cx="222.0" cy="150.7" r="0.8" fill="#96be5e"/><circle cx="221.1" cy="130.6" r="0.9" fill="#96be5e"/><circle cx="278.0" cy="155.4" r="1.0" fill="#96be5e"/><circle cx="269.7" cy="164.3" r="0.7" fill="#96be5e"/><circle cx="247.7" cy="137.2" r="0.9" fill="#96be5e"/><circle cx="313.6" cy="162.5" r="0.9" fill="#96be5e"/><circle cx="225.4" cy="206.3" r="0.9" fill="#96be5e"/><circle cx="283.8" cy="187.1" r="0.7" fill="#96be5e"/><circle cx="256.5" cy="223.2" r="1.0" fill="#96be5e"/><circle cx="228.0" cy="171.3" r="1.0" fill="#96be5e"/><circle cx="253.6" cy="227.6" r="0.7" fill="#96be5e"/><circle cx="237.7" cy="200.7" r="0.7" fill="#96be5e"/><circle cx="241.4" cy="206.5" r="0.8" fill="#96be5e"/><circle cx="295.2" cy="174.1" r="1.1" fill="#96be5e"/><circle cx="289.4" cy="196.9" r="1.0" fill="#96be5e"/><circle cx="276.1" cy="136.6" r="0.9" fill="#96be5e"/><circle cx="312.3" cy="188.2" r="1.0" fill="#96be5e"/><circle cx="283.6" cy="191.2" r="1.0" fill="#96be5e"/><circle cx="281.2" cy="213.3" r="1.2" fill="#96be5e"/><circle cx="315.7" cy="166.3" r="0.8" fill="#96be5e"/><circle cx="245.1" cy="196.6" r="0.8" fill="#96be5e"/><circle cx="228.0" cy="187.0" r="1.1" fill="#96be5e"/><circle cx="247.0" cy="175.7" r="0.8" fill="#96be5e"/><circle cx="271.8" cy="153.1" r="0.9" fill="#96be5e"/><circle cx="279.9" cy="133.2" r="1.1" fill="#96be5e"/><circle cx="295.3" cy="179.7" r="1.1" fill="#96be5e"/><circle cx="270.2" cy="171.4" r="1.0" fill="#96be5e"/><circle cx="293.5" cy="159.3" r="1.0" fill="#96be5e"/><circle cx="273.6" cy="153.8" r="1.1" fill="#96be5e"/><circle cx="247.5" cy="149.4" r="0.7" fill="#96be5e"/><circle cx="269.9" cy="168.7" r="1.1" fill="#96be5e"/><circle cx="255.8" cy="219.2" r="0.8" fill="#96be5e"/><circle cx="313.8" cy="161.8" r="0.9" fill="#96be5e"/><circle cx="263.1" cy="188.9" r="0.7" fill="#96be5e"/><circle cx="305.6" cy="152.4" r="0.8" fill="#96be5e"/><circle cx="282.7" cy="174.5" r="1.0" fill="#96be5e"/><circle cx="229.5" cy="156.7" r="0.9" fill="#96be5e"/><circle cx="271.3" cy="140.4" r="0.7" fill="#96be5e"/><circle cx="260.2" cy="140.3" r="0.7" fill="#96be5e"/><circle cx="312.7" cy="141.2" r="1.0" fill="#96be5e"/><circle cx="315.1" cy="161.0" r="1.0" fill="#96be5e"/><circle cx="311.9" cy="199.6" r="0.7" fill="#96be5e"/><circle cx="276.7" cy="195.3" r="0.9" fill="#96be5e"/><circle cx="227.9" cy="170.7" r="1.1" fill="#96be5e"/><circle cx="223.6" cy="148.9" r="0.8" fill="#96be5e"/><circle cx="233.4" cy="191.6" r="1.0" fill="#96be5e"/><circle cx="283.4" cy="155.9" r="1.0" fill="#96be5e"/><circle cx="297.1" cy="185.7" r="1.0" fill="#96be5e"/><circle cx="295.5" cy="144.5" r="1.2" fill="#96be5e"/><circle cx="285.9" cy="181.9" r="1.0" fill="#96be5e"/><circle cx="290.5" cy="197.9" r="1.2" fill="#96be5e"/><circle cx="317.0" cy="171.6" r="0.9" fill="#96be5e"/><circle cx="254.3" cy="170.9" r="0.7" fill="#96be5e"/><circle cx="267.4" cy="182.4" r="1.0" fill="#96be5e"/><circle cx="269.2" cy="155.1" r="0.8" fill="#96be5e"/><circle cx="261.8" cy="187.4" r="1.0" fill="#96be5e"/><circle cx="304.2" cy="208.3" r="1.2" fill="#96be5e"/><circle cx="243.0" cy="214.1" r="1.1" fill="#96be5e"/><circle cx="215.7" cy="130.8" r="0.8" fill="#96be5e"/><circle cx="233.9" cy="176.4" r="0.7" fill="#96be5e"/><circle cx="268.7" cy="146.0" r="1.1" fill="#96be5e"/><circle cx="280.6" cy="134.8" r="0.8" fill="#96be5e"/><circle cx="271.7" cy="143.7" r="1.0" fill="#96be5e"/><circle cx="217.9" cy="134.1" r="0.8" fill="#96be5e"/><circle cx="303.0" cy="151.0" r="0.7" fill="#96be5e"/><circle cx="291.9" cy="158.1" r="0.9" fill="#96be5e"/><circle cx="268.5" cy="178.2" r="1.0" fill="#96be5e"/><circle cx="262.2" cy="206.2" r="0.7" fill="#96be5e"/><circle cx="231.6" cy="190.3" r="0.8" fill="#96be5e"/><circle cx="240.4" cy="205.7" r="0.8" fill="#96be5e"/><circle cx="304.7" cy="187.6" r="0.8" fill="#96be5e"/><circle cx="277.9" cy="191.9" r="1.1" fill="#96be5e"/><circle cx="307.8" cy="205.0" r="0.9" fill="#96be5e"/><circle cx="225.6" cy="193.5" r="1.0" fill="#96be5e"/><circle cx="314.4" cy="158.2" r="0.9" fill="#96be5e"/><circle cx="264.6" cy="192.5" r="1.1" fill="#96be5e"/><circle cx="277.1" cy="179.0" r="0.7" fill="#96be5e"/><circle cx="303.7" cy="154.2" r="1.1" fill="#96be5e"/><circle cx="234.1" cy="177.4" r="0.9" fill="#96be5e"/><circle cx="306.6" cy="155.2" r="0.7" fill="#96be5e"/><circle cx="276.5" cy="151.7" r="0.9" fill="#96be5e"/><circle cx="279.8" cy="140.8" r="0.7" fill="#96be5e"/><circle cx="231.6" cy="165.1" r="0.8" fill="#96be5e"/><circle cx="232.2" cy="166.6" r="1.1" fill="#96be5e"/><circle cx="319.4" cy="168.0" r="0.7" fill="#96be5e"/><circle cx="251.1" cy="189.5" r="1.0" fill="#96be5e"/><circle cx="261.9" cy="175.4" r="1.0" fill="#96be5e"/><circle cx="264.9" cy="153.4" r="1.1" fill="#96be5e"/><circle cx="241.5" cy="180.5" r="1.1" fill="#96be5e"/><circle cx="224.4" cy="130.6" r="0.8" fill="#96be5e"/><circle cx="232.0" cy="135.1" r="0.7" fill="#96be5e"/><circle cx="269.6" cy="156.0" r="0.9" fill="#96be5e"/><circle cx="307.0" cy="165.5" r="0.7" fill="#96be5e"/><circle cx="264.2" cy="195.3" r="0.8" fill="#96be5e"/><circle cx="300.5" cy="174.8" r="1.1" fill="#96be5e"/><circle cx="246.9" cy="165.8" r="0.7" fill="#96be5e"/><circle cx="275.7" cy="222.4" r="1.0" fill="#96be5e"/><circle cx="263.4" cy="188.4" r="1.0" fill="#96be5e"/><circle cx="288.2" cy="146.8" r="0.9" fill="#96be5e"/><circle cx="220.2" cy="150.4" r="0.8" fill="#96be5e"/><circle cx="297.2" cy="204.8" r="0.9" fill="#96be5e"/><circle cx="283.7" cy="175.9" r="0.9" fill="#96be5e"/><circle cx="308.1" cy="192.5" r="1.1" fill="#96be5e"/><circle cx="271.6" cy="172.8" r="0.8" fill="#96be5e"/><circle cx="232.9" cy="129.6" r="1.0" fill="#96be5e"/><circle cx="237.4" cy="202.8" r="0.8" fill="#96be5e"/><circle cx="232.2" cy="201.1" r="0.8" fill="#96be5e"/><circle cx="308.2" cy="203.7" r="1.2" fill="#96be5e"/><circle cx="244.7" cy="217.8" r="0.8" fill="#96be5e"/><circle cx="300.1" cy="142.8" r="0.9" fill="#96be5e"/><circle cx="245.1" cy="162.8" r="0.9" fill="#96be5e"/><circle cx="299.4" cy="211.6" r="0.7" fill="#96be5e"/><circle cx="266.4" cy="156.0" r="0.8" fill="#96be5e"/><circle cx="282.5" cy="181.3" r="1.0" fill="#96be5e"/><circle cx="248.5" cy="148.4" r="0.9" fill="#96be5e"/><circle cx="280.3" cy="194.9" r="1.0" fill="#96be5e"/><circle cx="274.1" cy="219.4" r="1.1" fill="#96be5e"/><circle cx="244.2" cy="190.0" r="0.8" fill="#96be5e"/><circle cx="287.8" cy="165.3" r="1.1" fill="#96be5e"/><circle cx="301.8" cy="172.1" r="0.7" fill="#96be5e"/><circle cx="318.0" cy="160.3" r="0.7" fill="#96be5e"/><circle cx="285.9" cy="183.8" r="0.7" fill="#96be5e"/><circle cx="256.1" cy="187.3" r="0.7" fill="#96be5e"/><circle cx="254.0" cy="221.5" r="0.8" fill="#96be5e"/><circle cx="221.9" cy="139.6" r="0.9" fill="#96be5e"/><circle cx="264.8" cy="143.2" r="1.0" fill="#96be5e"/><circle cx="317.4" cy="148.2" r="0.7" fill="#96be5e"/><circle cx="234.2" cy="181.8" r="0.7" fill="#96be5e"/><circle cx="276.7" cy="149.5" r="0.7" fill="#96be5e"/><circle cx="279.8" cy="134.3" r="1.1" fill="#96be5e"/><circle cx="323.5" cy="189.7" r="0.9" fill="#96be5e"/><circle cx="249.0" cy="132.3" r="0.7" fill="#96be5e"/><circle cx="268.6" cy="149.3" r="1.1" fill="#96be5e"/><circle cx="304.9" cy="161.8" r="1.1" fill="#96be5e"/><circle cx="297.9" cy="161.6" r="0.9" fill="#96be5e"/><circle cx="288.9" cy="182.1" r="1.1" fill="#96be5e"/><circle cx="284.2" cy="166.2" r="0.9" fill="#96be5e"/><circle cx="224.4" cy="188.9" r="1.0" fill="#96be5e"/><circle cx="289.6" cy="208.4" r="0.7" fill="#96be5e"/><circle cx="240.3" cy="209.8" r="0.8" fill="#96be5e"/><circle cx="247.0" cy="188.7" r="0.8" fill="#96be5e"/><circle cx="285.0" cy="201.6" r="1.0" fill="#96be5e"/><circle cx="225.4" cy="143.2" r="1.0" fill="#96be5e"/><circle cx="230.8" cy="134.3" r="1.1" fill="#96be5e"/><circle cx="220.9" cy="133.9" r="1.1" fill="#96be5e"/><circle cx="219.8" cy="145.9" r="1.0" fill="#96be5e"/><circle cx="224.2" cy="157.8" r="0.8" fill="#96be5e"/><circle cx="227.3" cy="189.4" r="0.9" fill="#96be5e"/><circle cx="252.0" cy="161.5" r="1.0" fill="#96be5e"/><circle cx="238.0" cy="145.2" r="1.1" fill="#96be5e"/><circle cx="306.2" cy="174.0" r="0.8" fill="#96be5e"/><circle cx="265.4" cy="151.5" r="0.8" fill="#96be5e"/><circle cx="253.7" cy="138.6" r="0.8" fill="#96be5e"/><circle cx="233.8" cy="212.8" r="0.9" fill="#96be5e"/><circle cx="241.9" cy="227.9" r="1.0" fill="#96be5e"/><circle cx="286.0" cy="148.8" r="0.9" fill="#96be5e"/><circle cx="306.6" cy="150.3" r="1.0" fill="#96be5e"/><circle cx="247.7" cy="204.9" r="0.9" fill="#96be5e"/><circle cx="258.7" cy="213.3" r="0.8" fill="#96be5e"/><circle cx="247.2" cy="135.1" r="1.0" fill="#96be5e"/><circle cx="242.9" cy="202.7" r="1.1" fill="#96be5e"/><circle cx="303.6" cy="199.6" r="0.9" fill="#96be5e"/><circle cx="294.8" cy="159.7" r="1.1" fill="#96be5e"/><circle cx="314.2" cy="145.4" r="0.8" fill="#96be5e"/><circle cx="260.2" cy="175.8" r="1.1" fill="#96be5e"/><circle cx="220.2" cy="149.2" r="0.8" fill="#96be5e"/><circle cx="225.5" cy="158.1" r="1.0" fill="#96be5e"/><circle cx="312.1" cy="153.4" r="1.0" fill="#96be5e"/><circle cx="280.8" cy="215.6" r="0.8" fill="#96be5e"/><circle cx="286.6" cy="190.3" r="0.7" fill="#96be5e"/><circle cx="268.8" cy="189.6" r="0.8" fill="#96be5e"/><circle cx="239.7" cy="197.0" r="0.7" fill="#96be5e"/><circle cx="289.8" cy="201.8" r="0.9" fill="#96be5e"/><circle cx="227.0" cy="137.8" r="0.9" fill="#96be5e"/><circle cx="229.4" cy="146.2" r="0.7" fill="#96be5e"/><circle cx="294.3" cy="175.1" r="1.0" fill="#96be5e"/><circle cx="293.5" cy="215.1" r="1.1" fill="#96be5e"/><circle cx="287.6" cy="219.2" r="0.8" fill="#96be5e"/><circle cx="303.8" cy="201.5" r="1.1" fill="#96be5e"/><circle cx="235.4" cy="213.1" r="0.8" fill="#96be5e"/><circle cx="288.5" cy="189.6" r="1.1" fill="#96be5e"/><circle cx="227.6" cy="197.6" r="1.1" fill="#96be5e"/><circle cx="281.0" cy="168.0" r="1.1" fill="#96be5e"/><circle cx="232.4" cy="149.1" r="0.7" fill="#96be5e"/><circle cx="256.8" cy="165.2" r="1.1" fill="#96be5e"/><circle cx="298.1" cy="162.2" r="1.0" fill="#96be5e"/><circle cx="259.6" cy="178.9" r="1.0" fill="#96be5e"/><circle cx="255.8" cy="202.2" r="1.1" fill="#96be5e"/><circle cx="262.5" cy="195.5" r="0.8" fill="#96be5e"/><circle cx="271.0" cy="138.4" r="0.7" fill="#96be5e"/><circle cx="265.1" cy="174.8" r="0.9" fill="#96be5e"/><circle cx="234.2" cy="195.5" r="0.9" fill="#96be5e"/><circle cx="260.4" cy="195.3" r="0.7" fill="#96be5e"/><circle cx="275.9" cy="225.7" r="0.9" fill="#96be5e"/><circle cx="279.1" cy="192.2" r="1.1" fill="#96be5e"/><circle cx="306.5" cy="188.3" r="0.8" fill="#96be5e"/></g>
<path d="M288.5 194.8 Q289.2 181.2 286.0 167.9 L282.0 168.1 Q284.8 181.5 283.5 195.2 Z" fill="#9cc466"/><path d="M286.0 195.0 Q287.7 181.3 284.0 168.0" stroke="#7fae4a" stroke-width="0.8" fill="none" opacity="0.6"/>
<path d="M242.4 178.2 Q233.8 164.1 222.0 152.5 L218.0 155.5 Q229.4 167.5 237.6 181.8 Z" fill="#a9cf72"/><path d="M240.0 180.0 Q232.2 165.3 220.0 154.0" stroke="#7fae4a" stroke-width="0.8" fill="none" opacity="0.6"/>
<path d="M266.2 213.7 L292.0 200.8 L317.7 193.1 L340.9 203.4 L346.1 231.8 L340.9 249.8 L317.7 270.4 L297.1 275.6 L271.3 244.6 Z" fill="#243c14"/>
<g><circle cx="299.9" cy="250.3" r="2.2" fill="#3c6026"/><circle cx="337.3" cy="232.7" r="2.3" fill="#3c6026"/><circle cx="273.8" cy="235.1" r="2.2" fill="#3c6026"/><circle cx="290.0" cy="213.9" r="2.1" fill="#3c6026"/><circle cx="317.4" cy="246.4" r="1.9" fill="#1c3010"/><circle cx="318.2" cy="210.1" r="2.5" fill="#1c3010"/><circle cx="315.5" cy="221.7" r="2.2" fill="#284216"/><circle cx="309.1" cy="235.3" r="2.4" fill="#5a8638"/><circle cx="322.6" cy="261.3" r="2.2" fill="#3c6026"/><circle cx="272.7" cy="230.4" r="1.8" fill="#5a8638"/><circle cx="289.3" cy="233.6" r="2.6" fill="#3c6026"/><circle cx="286.3" cy="245.4" r="1.9" fill="#3c6026"/><circle cx="339.5" cy="229.6" r="1.8" fill="#5a8638"/><circle cx="271.4" cy="236.9" r="2.5" fill="#3c6026"/><circle cx="286.9" cy="223.0" r="1.9" fill="#3c6026"/><circle cx="304.1" cy="231.8" r="2.1" fill="#284216"/><circle cx="312.0" cy="254.1" r="1.7" fill="#3c6026"/><circle cx="275.6" cy="218.1" r="2.0" fill="#3c6026"/><circle cx="335.0" cy="218.0" r="2.2" fill="#5a8638"/><circle cx="300.6" cy="204.0" r="2.3" fill="#3c6026"/><circle cx="302.8" cy="248.0" r="2.5" fill="#3c6026"/><circle cx="297.2" cy="250.5" r="2.0" fill="#1c3010"/><circle cx="326.9" cy="227.2" r="2.1" fill="#5a8638"/><circle cx="337.5" cy="212.5" r="1.5" fill="#1c3010"/><circle cx="290.4" cy="234.8" r="2.1" fill="#3c6026"/><circle cx="326.8" cy="247.3" r="1.7" fill="#3c6026"/><circle cx="292.3" cy="228.1" r="2.3" fill="#3c6026"/><circle cx="287.1" cy="217.4" r="1.5" fill="#3c6026"/><circle cx="313.1" cy="224.7" r="1.8" fill="#7aa64a"/><circle cx="274.7" cy="212.9" r="2.3" fill="#1c3010"/><circle cx="336.7" cy="206.5" r="2.1" fill="#284216"/><circle cx="329.3" cy="218.6" r="2.2" fill="#1c3010"/><circle cx="312.1" cy="210.5" r="2.5" fill="#5a8638"/><circle cx="292.6" cy="218.5" r="2.3" fill="#284216"/><circle cx="276.9" cy="251.2" r="1.6" fill="#1c3010"/><circle cx="314.2" cy="265.8" r="2.1" fill="#5a8638"/><circle cx="311.5" cy="268.3" r="2.3" fill="#5a8638"/><circle cx="306.8" cy="218.0" r="2.6" fill="#3c6026"/><circle cx="271.9" cy="236.0" r="2.2" fill="#3c6026"/><circle cx="338.5" cy="232.9" r="1.8" fill="#1c3010"/><circle cx="309.8" cy="238.1" r="2.5" fill="#3c6026"/><circle cx="308.9" cy="223.1" r="1.8" fill="#3c6026"/><circle cx="319.2" cy="200.9" r="1.8" fill="#1c3010"/><circle cx="310.1" cy="217.1" r="1.8" fill="#5a8638"/><circle cx="336.7" cy="249.9" r="2.2" fill="#284216"/><circle cx="306.8" cy="215.8" r="2.2" fill="#3c6026"/><circle cx="286.7" cy="240.1" r="2.5" fill="#5a8638"/><circle cx="298.8" cy="226.6" r="2.1" fill="#7aa64a"/><circle cx="328.3" cy="242.9" r="2.2" fill="#3c6026"/><circle cx="323.8" cy="261.0" r="2.6" fill="#1c3010"/><circle cx="274.7" cy="219.6" r="1.6" fill="#7aa64a"/><circle cx="329.8" cy="205.3" r="2.3" fill="#284216"/><circle cx="341.1" cy="214.9" r="2.3" fill="#5a8638"/><circle cx="275.4" cy="213.3" r="1.6" fill="#1c3010"/><circle cx="340.7" cy="226.8" r="2.2" fill="#284216"/><circle cx="329.3" cy="223.2" r="2.4" fill="#1c3010"/><circle cx="309.9" cy="229.8" r="2.5" fill="#284216"/><circle cx="315.1" cy="198.1" r="2.6" fill="#7aa64a"/><circle cx="276.6" cy="247.8" r="2.0" fill="#3c6026"/><circle cx="314.5" cy="254.7" r="1.9" fill="#1c3010"/><circle cx="290.4" cy="247.1" r="2.4" fill="#3c6026"/><circle cx="296.7" cy="199.9" r="1.7" fill="#284216"/><circle cx="300.1" cy="224.4" r="1.5" fill="#1c3010"/><circle cx="294.8" cy="213.4" r="1.9" fill="#5a8638"/><circle cx="276.6" cy="249.1" r="2.6" fill="#5a8638"/><circle cx="327.6" cy="221.4" r="1.8" fill="#3c6026"/><circle cx="339.2" cy="213.9" r="2.5" fill="#3c6026"/><circle cx="331.1" cy="237.1" r="2.3" fill="#3c6026"/><circle cx="323.8" cy="251.6" r="2.3" fill="#3c6026"/><circle cx="319.7" cy="264.5" r="2.3" fill="#3c6026"/><circle cx="306.3" cy="256.6" r="1.6" fill="#3c6026"/><circle cx="326.4" cy="206.6" r="2.4" fill="#3c6026"/><circle cx="335.1" cy="222.0" r="2.3" fill="#3c6026"/><circle cx="289.2" cy="205.9" r="2.5" fill="#3c6026"/><circle cx="323.5" cy="250.5" r="2.5" fill="#5a8638"/><circle cx="298.4" cy="268.8" r="1.7" fill="#5a8638"/><circle cx="303.9" cy="238.6" r="2.1" fill="#3c6026"/><circle cx="294.9" cy="261.5" r="1.7" fill="#3c6026"/><circle cx="298.6" cy="220.3" r="2.5" fill="#3c6026"/><circle cx="320.5" cy="202.7" r="1.7" fill="#7aa64a"/><circle cx="318.8" cy="214.1" r="1.7" fill="#1c3010"/><circle cx="288.7" cy="218.6" r="2.3" fill="#1c3010"/><circle cx="279.4" cy="210.5" r="1.9" fill="#3c6026"/><circle cx="309.1" cy="204.1" r="1.8" fill="#3c6026"/><circle cx="286.4" cy="208.6" r="2.3" fill="#5a8638"/><circle cx="306.7" cy="252.7" r="2.5" fill="#3c6026"/><circle cx="330.2" cy="237.6" r="2.0" fill="#7aa64a"/><circle cx="301.6" cy="271.5" r="2.1" fill="#3c6026"/><circle cx="310.1" cy="262.6" r="1.7" fill="#1c3010"/><circle cx="308.2" cy="226.4" r="2.5" fill="#284216"/><circle cx="324.1" cy="240.2" r="1.9" fill="#284216"/><circle cx="273.1" cy="224.0" r="2.0" fill="#3c6026"/><circle cx="310.5" cy="212.3" r="1.9" fill="#3c6026"/><circle cx="280.3" cy="254.5" r="2.2" fill="#7aa64a"/><circle cx="331.3" cy="237.4" r="2.3" fill="#3c6026"/><circle cx="272.3" cy="230.4" r="2.2" fill="#1c3010"/><circle cx="307.6" cy="207.7" r="1.8" fill="#3c6026"/><circle cx="306.6" cy="198.1" r="1.6" fill="#284216"/><circle cx="280.2" cy="217.5" r="2.4" fill="#284216"/><circle cx="304.5" cy="257.8" r="2.1" fill="#284216"/><circle cx="304.9" cy="269.6" r="1.8" fill="#5a8638"/><circle cx="306.3" cy="234.2" r="2.3" fill="#5a8638"/><circle cx="330.9" cy="249.4" r="1.7" fill="#1c3010"/><circle cx="333.5" cy="229.0" r="2.3" fill="#284216"/><circle cx="287.5" cy="258.6" r="2.1" fill="#3c6026"/><circle cx="323.5" cy="210.2" r="1.7" fill="#5a8638"/><circle cx="328.4" cy="205.7" r="1.6" fill="#3c6026"/><circle cx="280.2" cy="222.9" r="2.0" fill="#7aa64a"/><circle cx="268.8" cy="214.8" r="2.2" fill="#284216"/><circle cx="325.4" cy="246.9" r="1.8" fill="#3c6026"/><circle cx="309.9" cy="240.1" r="1.7" fill="#284216"/><circle cx="288.5" cy="248.0" r="1.6" fill="#284216"/><circle cx="334.7" cy="237.4" r="1.9" fill="#284216"/><circle cx="312.1" cy="208.6" r="2.1" fill="#7aa64a"/><circle cx="320.7" cy="261.9" r="1.5" fill="#5a8638"/><circle cx="331.2" cy="201.9" r="1.5" fill="#1c3010"/><circle cx="282.9" cy="210.4" r="1.6" fill="#3c6026"/><circle cx="283.0" cy="249.4" r="2.5" fill="#3c6026"/><circle cx="305.8" cy="255.8" r="2.0" fill="#5a8638"/><circle cx="330.1" cy="244.9" r="2.6" fill="#3c6026"/><circle cx="325.4" cy="206.6" r="2.2" fill="#3c6026"/><circle cx="317.7" cy="252.4" r="2.3" fill="#284216"/><circle cx="302.9" cy="239.7" r="1.8" fill="#5a8638"/><circle cx="280.7" cy="236.4" r="2.4" fill="#5a8638"/><circle cx="279.6" cy="227.7" r="1.8" fill="#284216"/><circle cx="320.9" cy="201.8" r="2.0" fill="#284216"/><circle cx="280.2" cy="247.5" r="2.6" fill="#5a8638"/><circle cx="316.3" cy="200.4" r="1.8" fill="#3c6026"/><circle cx="318.6" cy="215.8" r="2.6" fill="#284216"/><circle cx="321.9" cy="213.4" r="2.3" fill="#7aa64a"/><circle cx="275.1" cy="229.1" r="1.7" fill="#284216"/><circle cx="275.1" cy="210.0" r="2.6" fill="#3c6026"/><circle cx="299.4" cy="237.0" r="2.1" fill="#284216"/><circle cx="291.7" cy="219.7" r="2.0" fill="#7aa64a"/><circle cx="292.5" cy="217.8" r="1.8" fill="#284216"/><circle cx="294.4" cy="212.0" r="2.4" fill="#284216"/><circle cx="287.8" cy="263.0" r="2.1" fill="#7aa64a"/><circle cx="333.0" cy="256.0" r="1.8" fill="#284216"/><circle cx="304.2" cy="207.7" r="1.7" fill="#7aa64a"/><circle cx="275.4" cy="248.2" r="1.5" fill="#5a8638"/><circle cx="291.2" cy="224.0" r="2.1" fill="#1c3010"/><circle cx="328.0" cy="246.6" r="2.6" fill="#5a8638"/><circle cx="323.4" cy="222.8" r="2.6" fill="#284216"/><circle cx="345.5" cy="229.8" r="1.5" fill="#284216"/><circle cx="295.1" cy="221.9" r="2.5" fill="#284216"/><circle cx="321.9" cy="206.6" r="2.1" fill="#3c6026"/><circle cx="328.8" cy="211.2" r="2.3" fill="#1c3010"/><circle cx="285.3" cy="248.1" r="2.5" fill="#1c3010"/><circle cx="321.6" cy="222.6" r="1.7" fill="#5a8638"/><circle cx="288.0" cy="229.3" r="2.5" fill="#5a8638"/><circle cx="280.3" cy="250.6" r="2.4" fill="#284216"/><circle cx="283.7" cy="251.4" r="2.6" fill="#5a8638"/><circle cx="295.6" cy="265.5" r="2.5" fill="#284216"/><circle cx="298.7" cy="262.0" r="1.7" fill="#1c3010"/><circle cx="310.8" cy="247.2" r="1.9" fill="#5a8638"/><circle cx="280.3" cy="244.7" r="2.4" fill="#3c6026"/><circle cx="326.9" cy="206.3" r="2.4" fill="#1c3010"/><circle cx="274.1" cy="210.5" r="2.6" fill="#284216"/><circle cx="310.9" cy="230.6" r="2.4" fill="#5a8638"/><circle cx="302.9" cy="231.9" r="1.8" fill="#284216"/><circle cx="288.6" cy="238.0" r="1.8" fill="#284216"/><circle cx="301.2" cy="230.4" r="2.6" fill="#284216"/><circle cx="289.2" cy="233.2" r="2.3" fill="#3c6026"/><circle cx="322.3" cy="198.6" r="1.8" fill="#3c6026"/><circle cx="299.7" cy="202.0" r="1.6" fill="#284216"/><circle cx="313.6" cy="209.4" r="2.0" fill="#5a8638"/><circle cx="330.4" cy="214.8" r="1.6" fill="#3c6026"/><circle cx="339.9" cy="232.6" r="2.0" fill="#1c3010"/><circle cx="294.5" cy="235.1" r="2.1" fill="#3c6026"/><circle cx="297.1" cy="202.6" r="2.1" fill="#3c6026"/><circle cx="301.7" cy="217.4" r="1.6" fill="#1c3010"/><circle cx="321.9" cy="238.0" r="2.4" fill="#3c6026"/><circle cx="295.5" cy="237.5" r="2.5" fill="#3c6026"/><circle cx="298.2" cy="223.4" r="2.2" fill="#3c6026"/><circle cx="315.8" cy="236.1" r="1.5" fill="#5a8638"/><circle cx="321.6" cy="253.3" r="1.7" fill="#1c3010"/><circle cx="331.8" cy="209.3" r="1.7" fill="#284216"/><circle cx="337.6" cy="222.0" r="2.4" fill="#7aa64a"/><circle cx="306.1" cy="257.3" r="1.8" fill="#1c3010"/><circle cx="298.1" cy="247.6" r="2.5" fill="#284216"/><circle cx="294.9" cy="207.9" r="2.5" fill="#3c6026"/><circle cx="309.3" cy="211.2" r="1.8" fill="#284216"/><circle cx="303.9" cy="270.8" r="1.8" fill="#284216"/><circle cx="341.1" cy="212.5" r="2.0" fill="#3c6026"/><circle cx="273.6" cy="238.6" r="1.8" fill="#284216"/><circle cx="304.7" cy="239.6" r="2.3" fill="#5a8638"/><circle cx="275.7" cy="214.2" r="1.7" fill="#284216"/><circle cx="331.1" cy="258.0" r="2.1" fill="#3c6026"/><circle cx="313.4" cy="199.5" r="1.7" fill="#3c6026"/><circle cx="292.0" cy="241.1" r="1.8" fill="#5a8638"/><circle cx="306.0" cy="269.8" r="2.5" fill="#284216"/><circle cx="339.4" cy="225.3" r="1.5" fill="#5a8638"/><circle cx="318.0" cy="220.3" r="2.6" fill="#3c6026"/><circle cx="319.6" cy="239.6" r="2.6" fill="#284216"/><circle cx="299.3" cy="210.1" r="1.6" fill="#3c6026"/><circle cx="307.8" cy="216.7" r="2.2" fill="#5a8638"/><circle cx="330.9" cy="230.6" r="2.3" fill="#7aa64a"/><circle cx="279.2" cy="251.2" r="2.4" fill="#7aa64a"/><circle cx="319.3" cy="266.2" r="2.2" fill="#5a8638"/><circle cx="324.5" cy="238.2" r="1.7" fill="#1c3010"/><circle cx="316.5" cy="198.8" r="2.5" fill="#5a8638"/><circle cx="324.8" cy="252.4" r="2.6" fill="#1c3010"/><circle cx="313.9" cy="232.2" r="2.2" fill="#3c6026"/><circle cx="330.0" cy="238.2" r="2.1" fill="#3c6026"/><circle cx="322.8" cy="213.2" r="1.6" fill="#284216"/><circle cx="306.7" cy="199.5" r="2.3" fill="#3c6026"/><circle cx="336.0" cy="222.8" r="1.8" fill="#3c6026"/><circle cx="312.3" cy="203.3" r="1.8" fill="#284216"/><circle cx="312.6" cy="258.8" r="2.2" fill="#7aa64a"/><circle cx="318.0" cy="212.2" r="1.8" fill="#3c6026"/><circle cx="298.1" cy="200.2" r="1.9" fill="#1c3010"/><circle cx="322.1" cy="203.8" r="2.0" fill="#5a8638"/><circle cx="317.7" cy="260.9" r="1.7" fill="#1c3010"/><circle cx="341.9" cy="240.4" r="2.6" fill="#5a8638"/><circle cx="301.4" cy="216.3" r="1.6" fill="#7aa64a"/><circle cx="282.0" cy="236.7" r="1.9" fill="#284216"/><circle cx="319.6" cy="199.2" r="1.6" fill="#3c6026"/><circle cx="283.6" cy="238.8" r="2.1" fill="#284216"/><circle cx="338.7" cy="209.1" r="2.5" fill="#3c6026"/><circle cx="305.4" cy="233.1" r="1.7" fill="#3c6026"/><circle cx="289.0" cy="224.2" r="2.3" fill="#284216"/><circle cx="314.8" cy="241.7" r="2.5" fill="#5a8638"/><circle cx="321.7" cy="239.0" r="2.4" fill="#284216"/><circle cx="306.2" cy="271.2" r="2.0" fill="#3c6026"/><circle cx="301.7" cy="228.7" r="2.5" fill="#1c3010"/><circle cx="322.3" cy="239.4" r="1.7" fill="#5a8638"/><circle cx="319.8" cy="218.5" r="2.2" fill="#284216"/><circle cx="317.4" cy="252.0" r="1.5" fill="#5a8638"/><circle cx="335.8" cy="206.9" r="2.6" fill="#3c6026"/><circle cx="331.9" cy="209.6" r="2.4" fill="#7aa64a"/></g><g opacity="0.8"><circle cx="273.1" cy="234.4" r="1.0" fill="#8cb658"/><circle cx="316.7" cy="245.7" r="0.9" fill="#8cb658"/><circle cx="314.8" cy="221.0" r="1.0" fill="#8cb658"/><circle cx="321.9" cy="260.6" r="1.0" fill="#8cb658"/><circle cx="288.6" cy="232.9" r="1.2" fill="#8cb658"/><circle cx="285.6" cy="244.7" r="0.8" fill="#8cb658"/><circle cx="270.7" cy="236.2" r="1.1" fill="#8cb658"/><circle cx="286.2" cy="222.3" r="0.9" fill="#8cb658"/><circle cx="274.9" cy="217.4" r="0.9" fill="#8cb658"/><circle cx="334.3" cy="217.3" r="1.0" fill="#8cb658"/><circle cx="302.1" cy="247.3" r="1.1" fill="#8cb658"/><circle cx="326.2" cy="226.5" r="0.9" fill="#8cb658"/><circle cx="336.8" cy="211.8" r="0.7" fill="#8cb658"/><circle cx="289.7" cy="234.1" r="0.9" fill="#8cb658"/><circle cx="326.1" cy="246.6" r="0.8" fill="#8cb658"/><circle cx="312.4" cy="224.0" r="0.8" fill="#8cb658"/><circle cx="274.0" cy="212.2" r="1.0" fill="#8cb658"/><circle cx="336.0" cy="205.8" r="1.0" fill="#8cb658"/><circle cx="311.4" cy="209.8" r="1.1" fill="#8cb658"/><circle cx="276.2" cy="250.5" r="0.7" fill="#8cb658"/><circle cx="313.5" cy="265.1" r="0.9" fill="#8cb658"/><circle cx="310.8" cy="267.6" r="1.0" fill="#8cb658"/><circle cx="271.2" cy="235.3" r="1.0" fill="#8cb658"/><circle cx="308.2" cy="222.4" r="0.8" fill="#8cb658"/><circle cx="318.5" cy="200.2" r="0.8" fill="#8cb658"/><circle cx="336.0" cy="249.2" r="1.0" fill="#8cb658"/><circle cx="286.0" cy="239.4" r="1.1" fill="#8cb658"/><circle cx="298.1" cy="225.9" r="1.0" fill="#8cb658"/><circle cx="327.6" cy="242.2" r="1.0" fill="#8cb658"/><circle cx="274.7" cy="212.6" r="0.7" fill="#8cb658"/><circle cx="340.0" cy="226.1" r="1.0" fill="#8cb658"/><circle cx="328.6" cy="222.5" r="1.1" fill="#8cb658"/><circle cx="309.2" cy="229.1" r="1.1" fill="#8cb658"/><circle cx="275.9" cy="247.1" r="0.9" fill="#8cb658"/><circle cx="313.8" cy="254.0" r="0.9" fill="#8cb658"/><circle cx="289.7" cy="246.4" r="1.1" fill="#8cb658"/><circle cx="296.0" cy="199.2" r="0.8" fill="#8cb658"/><circle cx="294.1" cy="212.7" r="0.9" fill="#8cb658"/><circle cx="275.9" cy="248.4" r="1.2" fill="#8cb658"/><circle cx="326.9" cy="220.7" r="0.8" fill="#8cb658"/><circle cx="338.5" cy="213.2" r="1.1" fill="#8cb658"/><circle cx="323.1" cy="250.9" r="1.0" fill="#8cb658"/><circle cx="305.6" cy="255.9" r="0.7" fill="#8cb658"/><circle cx="325.7" cy="205.9" r="1.1" fill="#8cb658"/><circle cx="322.8" cy="249.8" r="1.1" fill="#8cb658"/><circle cx="297.7" cy="268.1" r="0.8" fill="#8cb658"/><circle cx="303.2" cy="237.9" r="1.0" fill="#8cb658"/><circle cx="294.2" cy="260.8" r="0.8" fill="#8cb658"/><circle cx="278.7" cy="209.8" r="0.8" fill="#8cb658"/><circle cx="308.4" cy="203.4" r="0.8" fill="#8cb658"/><circle cx="323.4" cy="239.5" r="0.8" fill="#8cb658"/><circle cx="272.4" cy="223.3" r="0.9" fill="#8cb658"/><circle cx="309.8" cy="211.6" r="0.9" fill="#8cb658"/><circle cx="330.6" cy="236.7" r="1.0" fill="#8cb658"/><circle cx="271.6" cy="229.7" r="1.0" fill="#8cb658"/><circle cx="305.9" cy="197.4" r="0.7" fill="#8cb658"/><circle cx="279.5" cy="216.8" r="1.1" fill="#8cb658"/><circle cx="303.8" cy="257.1" r="0.9" fill="#8cb658"/><circle cx="330.2" cy="248.7" r="0.8" fill="#8cb658"/><circle cx="332.8" cy="228.3" r="1.0" fill="#8cb658"/><circle cx="322.8" cy="209.5" r="0.8" fill="#8cb658"/><circle cx="279.5" cy="222.2" r="0.9" fill="#8cb658"/><circle cx="268.1" cy="214.1" r="1.0" fill="#8cb658"/><circle cx="324.7" cy="246.2" r="0.8" fill="#8cb658"/><circle cx="287.8" cy="247.3" r="0.7" fill="#8cb658"/><circle cx="311.4" cy="207.9" r="0.9" fill="#8cb658"/><circle cx="320.0" cy="261.2" r="0.7" fill="#8cb658"/><circle cx="330.5" cy="201.2" r="0.7" fill="#8cb658"/><circle cx="305.1" cy="255.1" r="0.9" fill="#8cb658"/><circle cx="329.4" cy="244.2" r="1.2" fill="#8cb658"/><circle cx="324.7" cy="205.9" r="1.0" fill="#8cb658"/><circle cx="302.2" cy="239.0" r="0.8" fill="#8cb658"/><circle cx="280.0" cy="235.7" r="1.1" fill="#8cb658"/><circle cx="278.9" cy="227.0" r="0.8" fill="#8cb658"/><circle cx="320.2" cy="201.1" r="0.9" fill="#8cb658"/><circle cx="315.6" cy="199.7" r="0.8" fill="#8cb658"/><circle cx="321.2" cy="212.7" r="1.0" fill="#8cb658"/><circle cx="274.4" cy="209.3" r="1.2" fill="#8cb658"/><circle cx="298.7" cy="236.3" r="1.0" fill="#8cb658"/><circle cx="291.0" cy="219.0" r="0.9" fill="#8cb658"/><circle cx="293.7" cy="211.3" r="1.1" fill="#8cb658"/><circle cx="287.1" cy="262.3" r="0.9" fill="#8cb658"/><circle cx="303.5" cy="207.0" r="0.8" fill="#8cb658"/><circle cx="322.7" cy="222.1" r="1.2" fill="#8cb658"/><circle cx="344.8" cy="229.1" r="0.7" fill="#8cb658"/><circle cx="321.2" cy="205.9" r="0.9" fill="#8cb658"/><circle cx="284.6" cy="247.4" r="1.1" fill="#8cb658"/><circle cx="287.3" cy="228.6" r="1.1" fill="#8cb658"/><circle cx="283.0" cy="250.7" r="1.2" fill="#8cb658"/><circle cx="294.9" cy="264.8" r="1.1" fill="#8cb658"/><circle cx="310.1" cy="246.5" r="0.9" fill="#8cb658"/><circle cx="279.6" cy="244.0" r="1.1" fill="#8cb658"/><circle cx="326.2" cy="205.6" r="1.1" fill="#8cb658"/><circle cx="302.2" cy="231.2" r="0.8" fill="#8cb658"/><circle cx="287.9" cy="237.3" r="0.8" fill="#8cb658"/><circle cx="300.5" cy="229.7" r="1.2" fill="#8cb658"/><circle cx="321.6" cy="197.9" r="0.8" fill="#8cb658"/><circle cx="299.0" cy="201.3" r="0.7" fill="#8cb658"/><circle cx="312.9" cy="208.7" r="0.9" fill="#8cb658"/><circle cx="329.7" cy="214.1" r="0.7" fill="#8cb658"/><circle cx="339.2" cy="231.9" r="0.9" fill="#8cb658"/><circle cx="293.8" cy="234.4" r="0.9" fill="#8cb658"/><circle cx="301.0" cy="216.7" r="0.7" fill="#8cb658"/><circle cx="321.2" cy="237.3" r="1.1" fill="#8cb658"/><circle cx="315.1" cy="235.4" r="0.7" fill="#8cb658"/><circle cx="331.1" cy="208.6" r="0.8" fill="#8cb658"/><circle cx="336.9" cy="221.3" r="1.1" fill="#8cb658"/><circle cx="305.4" cy="256.6" r="0.8" fill="#8cb658"/><circle cx="294.2" cy="207.2" r="1.1" fill="#8cb658"/><circle cx="308.6" cy="210.5" r="0.8" fill="#8cb658"/><circle cx="340.4" cy="211.8" r="0.9" fill="#8cb658"/><circle cx="275.0" cy="213.5" r="0.8" fill="#8cb658"/><circle cx="312.7" cy="198.8" r="0.8" fill="#8cb658"/><circle cx="291.3" cy="240.4" r="0.8" fill="#8cb658"/><circle cx="338.7" cy="224.6" r="0.7" fill="#8cb658"/><circle cx="318.9" cy="238.9" r="1.2" fill="#8cb658"/><circle cx="307.1" cy="216.0" r="1.0" fill="#8cb658"/><circle cx="278.5" cy="250.5" r="1.1" fill="#8cb658"/><circle cx="318.6" cy="265.5" r="1.0" fill="#8cb658"/><circle cx="323.8" cy="237.5" r="0.8" fill="#8cb658"/><circle cx="315.8" cy="198.1" r="1.1" fill="#8cb658"/><circle cx="313.2" cy="231.5" r="1.0" fill="#8cb658"/><circle cx="322.1" cy="212.5" r="0.7" fill="#8cb658"/><circle cx="306.0" cy="198.8" r="1.0" fill="#8cb658"/><circle cx="335.3" cy="222.1" r="0.8" fill="#8cb658"/><circle cx="311.9" cy="258.1" r="1.0" fill="#8cb658"/><circle cx="297.4" cy="199.5" r="0.8" fill="#8cb658"/><circle cx="321.4" cy="203.1" r="0.9" fill="#8cb658"/><circle cx="317.0" cy="260.2" r="0.8" fill="#8cb658"/><circle cx="341.2" cy="239.7" r="1.2" fill="#8cb658"/><circle cx="300.7" cy="215.6" r="0.7" fill="#8cb658"/><circle cx="281.3" cy="236.0" r="0.9" fill="#8cb658"/><circle cx="282.9" cy="238.1" r="1.0" fill="#8cb658"/><circle cx="338.0" cy="208.4" r="1.1" fill="#8cb658"/><circle cx="304.7" cy="232.4" r="0.8" fill="#8cb658"/><circle cx="288.3" cy="223.5" r="1.0" fill="#8cb658"/><circle cx="321.0" cy="238.3" r="1.1" fill="#8cb658"/><circle cx="301.0" cy="228.0" r="1.1" fill="#8cb658"/><circle cx="321.6" cy="238.7" r="0.8" fill="#8cb658"/></g>
<path d="M343.7 244.6 Q315.7 232.0 292.2 212.7 L287.8 219.3 Q309.8 240.6 336.3 255.4 Z" fill="#a8cc74"/><path d="M340.0 250.0 Q313.6 235.0 290.0 216.0" stroke="#7fae4a" stroke-width="0.8" fill="none" opacity="0.6"/>
<path d="M337.9 239.8 Q328.9 218.7 314.6 200.6 L309.4 203.4 Q322.3 222.4 330.1 244.2 Z" fill="#9ec468"/><path d="M334.0 242.0 Q326.6 220.0 312.0 202.0" stroke="#7fae4a" stroke-width="0.8" fill="none" opacity="0.6"/>
<path d="M336.7 249.1 Q319.1 243.1 300.5 241.1 L299.5 244.9 Q317.9 248.0 335.3 254.9 Z" fill="#b0d27c"/><path d="M336.0 252.0 Q318.7 244.8 300.0 243.0" stroke="#7fae4a" stroke-width="0.8" fill="none" opacity="0.6"/>
<path d="M67.7 180.2 L75.5 164.7 L90.9 151.9 L106.4 128.7 L137.3 123.5 L139.9 110.6 L163.1 102.9 L183.7 108.0 L199.2 120.9 L214.6 141.5 L222.4 151.9 L214.6 167.3 L204.3 193.1 L188.9 213.7 L163.1 218.9 L137.3 216.3 L111.5 211.1 L85.8 198.2 L75.5 187.9 Z" fill="#2e5618"/>
<g><circle cx="93.9" cy="196.3" r="1.9" fill="#4e862a"/><circle cx="196.1" cy="149.2" r="2.3" fill="#4e862a"/><circle cx="164.8" cy="143.1" r="1.7" fill="#4e862a"/><circle cx="179.1" cy="128.7" r="2.2" fill="#2a4e16"/><circle cx="149.1" cy="150.6" r="2.1" fill="#3a6a20"/><circle cx="167.9" cy="121.5" r="2.0" fill="#5a9232"/><circle cx="172.2" cy="160.0" r="1.9" fill="#8cc052"/><circle cx="181.2" cy="129.4" r="2.2" fill="#3a6a20"/><circle cx="91.8" cy="170.4" r="2.4" fill="#6aa23a"/><circle cx="164.5" cy="111.2" r="1.6" fill="#2a4e16"/><circle cx="190.9" cy="193.6" r="2.2" fill="#4e862a"/><circle cx="144.2" cy="171.9" r="1.9" fill="#6aa23a"/><circle cx="167.8" cy="216.0" r="2.4" fill="#5a9232"/><circle cx="145.6" cy="160.5" r="2.5" fill="#2a4e16"/><circle cx="160.7" cy="147.6" r="2.2" fill="#4e862a"/><circle cx="207.1" cy="145.2" r="2.0" fill="#6aa23a"/><circle cx="147.7" cy="209.3" r="1.5" fill="#5a9232"/><circle cx="85.0" cy="160.6" r="1.6" fill="#8cc052"/><circle cx="174.7" cy="143.3" r="1.9" fill="#6aa23a"/><circle cx="166.2" cy="165.6" r="2.4" fill="#2a4e16"/><circle cx="129.7" cy="165.5" r="1.6" fill="#4e862a"/><circle cx="199.5" cy="138.9" r="1.5" fill="#5a9232"/><circle cx="136.9" cy="176.6" r="2.5" fill="#2a4e16"/><circle cx="72.8" cy="172.8" r="1.8" fill="#4e862a"/><circle cx="99.8" cy="143.7" r="1.9" fill="#3a6a20"/><circle cx="193.3" cy="124.8" r="1.9" fill="#3a6a20"/><circle cx="209.7" cy="157.0" r="1.6" fill="#6aa23a"/><circle cx="184.3" cy="131.4" r="1.7" fill="#5a9232"/><circle cx="112.0" cy="168.7" r="2.1" fill="#4e862a"/><circle cx="189.7" cy="154.8" r="2.2" fill="#6aa23a"/><circle cx="96.8" cy="150.2" r="2.3" fill="#2a4e16"/><circle cx="161.6" cy="132.4" r="2.2" fill="#5a9232"/><circle cx="124.8" cy="170.0" r="2.1" fill="#2a4e16"/><circle cx="109.8" cy="193.9" r="2.1" fill="#4e862a"/><circle cx="130.2" cy="205.7" r="1.7" fill="#3a6a20"/><circle cx="169.4" cy="182.6" r="2.3" fill="#2a4e16"/><circle cx="91.5" cy="166.0" r="1.5" fill="#4e862a"/><circle cx="218.5" cy="157.0" r="2.2" fill="#2a4e16"/><circle cx="152.6" cy="217.5" r="1.8" fill="#8cc052"/><circle cx="171.2" cy="211.1" r="2.1" fill="#5a9232"/><circle cx="149.7" cy="139.9" r="1.6" fill="#5a9232"/><circle cx="120.2" cy="153.9" r="1.8" fill="#8cc052"/><circle cx="200.5" cy="194.1" r="1.7" fill="#2a4e16"/><circle cx="77.3" cy="189.4" r="1.7" fill="#2a4e16"/><circle cx="81.8" cy="180.3" r="1.6" fill="#2a4e16"/><circle cx="208.1" cy="134.5" r="1.6" fill="#3a6a20"/><circle cx="97.5" cy="202.6" r="1.6" fill="#6aa23a"/><circle cx="139.1" cy="160.4" r="1.6" fill="#6aa23a"/><circle cx="204.9" cy="152.2" r="2.5" fill="#2a4e16"/><circle cx="182.3" cy="128.5" r="2.1" fill="#4e862a"/><circle cx="165.8" cy="136.5" r="1.8" fill="#4e862a"/><circle cx="127.0" cy="156.7" r="2.4" fill="#3a6a20"/><circle cx="195.9" cy="130.7" r="1.5" fill="#4e862a"/><circle cx="215.5" cy="144.8" r="2.3" fill="#4e862a"/><circle cx="188.6" cy="194.4" r="2.1" fill="#2a4e16"/><circle cx="172.4" cy="170.2" r="2.3" fill="#6aa23a"/><circle cx="125.8" cy="176.2" r="2.6" fill="#5a9232"/><circle cx="108.3" cy="151.8" r="2.0" fill="#6aa23a"/><circle cx="124.3" cy="210.9" r="2.5" fill="#4e862a"/><circle cx="147.3" cy="209.2" r="1.5" fill="#5a9232"/><circle cx="204.1" cy="168.2" r="2.2" fill="#8cc052"/><circle cx="147.7" cy="166.7" r="1.9" fill="#6aa23a"/><circle cx="167.7" cy="160.2" r="2.2" fill="#3a6a20"/><circle cx="140.6" cy="127.4" r="1.7" fill="#4e862a"/><circle cx="106.7" cy="186.4" r="2.4" fill="#3a6a20"/><circle cx="100.5" cy="192.5" r="1.9" fill="#4e862a"/><circle cx="144.1" cy="153.3" r="1.6" fill="#8cc052"/><circle cx="201.1" cy="176.1" r="2.4" fill="#4e862a"/><circle cx="136.8" cy="193.9" r="1.8" fill="#5a9232"/><circle cx="147.2" cy="168.1" r="2.0" fill="#6aa23a"/><circle cx="106.6" cy="153.3" r="2.5" fill="#2a4e16"/><circle cx="122.6" cy="157.4" r="2.1" fill="#4e862a"/><circle cx="103.8" cy="199.3" r="2.0" fill="#5a9232"/><circle cx="86.0" cy="166.6" r="1.9" fill="#5a9232"/><circle cx="195.9" cy="121.1" r="2.3" fill="#6aa23a"/><circle cx="113.0" cy="172.3" r="2.2" fill="#4e862a"/><circle cx="191.7" cy="192.6" r="1.8" fill="#3a6a20"/><circle cx="166.1" cy="206.5" r="1.6" fill="#6aa23a"/><circle cx="75.3" cy="165.3" r="1.5" fill="#4e862a"/><circle cx="187.5" cy="182.2" r="2.6" fill="#4e862a"/><circle cx="195.0" cy="151.8" r="2.6" fill="#8cc052"/><circle cx="155.5" cy="171.4" r="2.2" fill="#5a9232"/><circle cx="89.1" cy="167.1" r="1.9" fill="#3a6a20"/><circle cx="171.3" cy="161.3" r="1.9" fill="#5a9232"/><circle cx="125.2" cy="157.9" r="2.2" fill="#6aa23a"/><circle cx="90.8" cy="178.2" r="2.0" fill="#2a4e16"/><circle cx="106.8" cy="173.3" r="1.7" fill="#3a6a20"/><circle cx="174.2" cy="189.0" r="1.7" fill="#6aa23a"/><circle cx="139.0" cy="200.1" r="1.8" fill="#4e862a"/><circle cx="127.7" cy="182.4" r="1.9" fill="#6aa23a"/><circle cx="109.9" cy="192.1" r="2.6" fill="#4e862a"/><circle cx="171.3" cy="161.2" r="2.1" fill="#4e862a"/><circle cx="183.7" cy="200.4" r="1.8" fill="#3a6a20"/><circle cx="95.7" cy="148.9" r="1.7" fill="#6aa23a"/><circle cx="218.3" cy="157.6" r="2.1" fill="#6aa23a"/><circle cx="131.2" cy="209.6" r="1.8" fill="#5a9232"/><circle cx="171.5" cy="114.0" r="2.2" fill="#4e862a"/><circle cx="217.8" cy="148.9" r="2.4" fill="#6aa23a"/><circle cx="176.3" cy="187.9" r="1.8" fill="#2a4e16"/><circle cx="157.9" cy="154.7" r="2.1" fill="#6aa23a"/><circle cx="87.2" cy="163.0" r="2.5" fill="#4e862a"/><circle cx="136.9" cy="191.9" r="1.6" fill="#4e862a"/><circle cx="176.7" cy="143.4" r="1.7" fill="#5a9232"/><circle cx="144.2" cy="141.6" r="1.6" fill="#4e862a"/><circle cx="183.5" cy="145.7" r="2.2" fill="#5a9232"/><circle cx="124.3" cy="135.1" r="2.0" fill="#3a6a20"/><circle cx="123.5" cy="186.9" r="1.8" fill="#5a9232"/><circle cx="188.4" cy="138.0" r="1.5" fill="#6aa23a"/><circle cx="135.9" cy="127.2" r="2.5" fill="#4e862a"/><circle cx="115.8" cy="139.7" r="1.9" fill="#4e862a"/><circle cx="123.9" cy="166.5" r="1.9" fill="#8cc052"/><circle cx="176.6" cy="210.7" r="2.3" fill="#4e862a"/><circle cx="121.3" cy="209.2" r="2.1" fill="#3a6a20"/><circle cx="149.0" cy="204.5" r="2.2" fill="#4e862a"/><circle cx="177.5" cy="188.1" r="2.3" fill="#2a4e16"/><circle cx="168.7" cy="195.0" r="1.7" fill="#2a4e16"/><circle cx="168.0" cy="131.4" r="1.8" fill="#8cc052"/><circle cx="189.4" cy="202.4" r="2.2" fill="#5a9232"/><circle cx="147.5" cy="120.5" r="2.5" fill="#3a6a20"/><circle cx="196.0" cy="124.8" r="1.7" fill="#8cc052"/><circle cx="190.0" cy="210.9" r="2.4" fill="#3a6a20"/><circle cx="175.7" cy="120.0" r="2.3" fill="#4e862a"/><circle cx="94.0" cy="158.4" r="1.8" fill="#4e862a"/><circle cx="131.5" cy="142.1" r="1.7" fill="#3a6a20"/><circle cx="86.6" cy="157.3" r="2.3" fill="#3a6a20"/><circle cx="176.7" cy="112.8" r="1.7" fill="#4e862a"/><circle cx="80.6" cy="191.4" r="2.4" fill="#2a4e16"/><circle cx="132.3" cy="143.7" r="2.0" fill="#8cc052"/><circle cx="135.4" cy="200.6" r="1.8" fill="#8cc052"/><circle cx="134.1" cy="173.2" r="2.2" fill="#3a6a20"/><circle cx="110.7" cy="139.2" r="2.6" fill="#3a6a20"/><circle cx="207.4" cy="182.4" r="2.2" fill="#5a9232"/><circle cx="136.7" cy="166.6" r="1.7" fill="#4e862a"/><circle cx="208.1" cy="173.0" r="2.1" fill="#4e862a"/><circle cx="200.7" cy="190.5" r="1.9" fill="#4e862a"/><circle cx="171.0" cy="151.8" r="2.4" fill="#3a6a20"/><circle cx="97.3" cy="164.2" r="1.9" fill="#4e862a"/><circle cx="211.6" cy="171.4" r="2.4" fill="#6aa23a"/><circle cx="192.3" cy="192.8" r="2.3" fill="#2a4e16"/><circle cx="190.6" cy="130.8" r="1.7" fill="#6aa23a"/><circle cx="164.5" cy="119.2" r="2.2" fill="#3a6a20"/><circle cx="91.3" cy="157.6" r="2.2" fill="#2a4e16"/><circle cx="151.2" cy="127.3" r="1.7" fill="#3a6a20"/><circle cx="167.6" cy="179.9" r="2.0" fill="#2a4e16"/><circle cx="172.3" cy="211.2" r="1.8" fill="#2a4e16"/><circle cx="99.7" cy="176.2" r="2.0" fill="#4e862a"/><circle cx="95.0" cy="171.3" r="1.9" fill="#2a4e16"/><circle cx="162.8" cy="175.2" r="2.4" fill="#6aa23a"/><circle cx="185.7" cy="172.3" r="2.1" fill="#5a9232"/><circle cx="99.6" cy="140.2" r="1.8" fill="#4e862a"/><circle cx="153.8" cy="153.5" r="2.3" fill="#2a4e16"/><circle cx="169.5" cy="210.3" r="1.7" fill="#3a6a20"/><circle cx="201.6" cy="140.3" r="1.9" fill="#6aa23a"/><circle cx="166.0" cy="212.0" r="2.0" fill="#3a6a20"/><circle cx="189.4" cy="175.6" r="1.5" fill="#4e862a"/><circle cx="154.3" cy="206.7" r="2.2" fill="#8cc052"/><circle cx="141.1" cy="177.5" r="1.8" fill="#6aa23a"/><circle cx="210.6" cy="169.3" r="1.7" fill="#4e862a"/><circle cx="183.4" cy="181.9" r="2.5" fill="#8cc052"/><circle cx="111.7" cy="175.0" r="2.3" fill="#5a9232"/><circle cx="166.4" cy="131.4" r="2.4" fill="#2a4e16"/><circle cx="97.2" cy="146.0" r="2.4" fill="#3a6a20"/><circle cx="154.2" cy="166.5" r="2.0" fill="#2a4e16"/><circle cx="144.3" cy="168.1" r="1.8" fill="#4e862a"/><circle cx="170.4" cy="197.2" r="1.7" fill="#4e862a"/><circle cx="111.6" cy="190.7" r="1.8" fill="#4e862a"/><circle cx="200.6" cy="185.5" r="1.7" fill="#3a6a20"/><circle cx="171.2" cy="178.7" r="1.8" fill="#3a6a20"/><circle cx="75.3" cy="187.7" r="2.2" fill="#2a4e16"/><circle cx="182.1" cy="209.8" r="2.2" fill="#6aa23a"/><circle cx="170.5" cy="159.5" r="2.0" fill="#3a6a20"/><circle cx="172.8" cy="159.2" r="1.7" fill="#4e862a"/><circle cx="156.0" cy="192.2" r="2.0" fill="#4e862a"/><circle cx="84.1" cy="162.4" r="2.5" fill="#3a6a20"/><circle cx="200.2" cy="139.5" r="1.6" fill="#4e862a"/><circle cx="78.9" cy="180.4" r="1.8" fill="#6aa23a"/><circle cx="177.4" cy="110.4" r="2.5" fill="#5a9232"/><circle cx="210.5" cy="142.7" r="2.0" fill="#3a6a20"/><circle cx="172.8" cy="115.5" r="2.4" fill="#2a4e16"/><circle cx="168.0" cy="204.0" r="2.4" fill="#6aa23a"/><circle cx="189.2" cy="201.2" r="1.7" fill="#3a6a20"/><circle cx="121.5" cy="137.4" r="2.0" fill="#3a6a20"/><circle cx="130.9" cy="127.8" r="2.2" fill="#4e862a"/><circle cx="94.0" cy="163.8" r="2.3" fill="#4e862a"/><circle cx="183.8" cy="177.5" r="1.7" fill="#8cc052"/><circle cx="136.5" cy="182.1" r="2.1" fill="#6aa23a"/><circle cx="127.9" cy="196.3" r="1.9" fill="#5a9232"/><circle cx="197.5" cy="159.5" r="1.7" fill="#3a6a20"/><circle cx="195.9" cy="138.1" r="2.5" fill="#4e862a"/><circle cx="134.7" cy="145.0" r="2.3" fill="#2a4e16"/><circle cx="209.6" cy="172.2" r="2.1" fill="#4e862a"/><circle cx="83.5" cy="178.2" r="2.3" fill="#8cc052"/><circle cx="157.8" cy="115.6" r="1.9" fill="#6aa23a"/><circle cx="130.9" cy="162.6" r="2.1" fill="#3a6a20"/><circle cx="176.1" cy="107.1" r="1.5" fill="#6aa23a"/><circle cx="138.2" cy="156.5" r="1.6" fill="#2a4e16"/><circle cx="142.0" cy="123.0" r="1.9" fill="#6aa23a"/><circle cx="158.8" cy="153.5" r="2.1" fill="#3a6a20"/><circle cx="155.7" cy="139.9" r="2.2" fill="#2a4e16"/><circle cx="119.7" cy="190.9" r="2.3" fill="#4e862a"/><circle cx="133.6" cy="158.5" r="1.8" fill="#3a6a20"/><circle cx="191.1" cy="193.9" r="2.3" fill="#8cc052"/><circle cx="166.7" cy="144.2" r="2.1" fill="#3a6a20"/><circle cx="144.7" cy="207.6" r="1.8" fill="#4e862a"/><circle cx="134.2" cy="138.8" r="1.8" fill="#3a6a20"/><circle cx="188.4" cy="151.7" r="2.0" fill="#4e862a"/><circle cx="163.5" cy="135.4" r="2.3" fill="#8cc052"/><circle cx="102.0" cy="168.7" r="2.5" fill="#6aa23a"/><circle cx="139.1" cy="160.2" r="2.1" fill="#2a4e16"/><circle cx="171.4" cy="193.4" r="1.6" fill="#8cc052"/><circle cx="70.4" cy="182.1" r="1.7" fill="#2a4e16"/><circle cx="168.1" cy="211.3" r="2.0" fill="#2a4e16"/><circle cx="189.1" cy="163.2" r="2.0" fill="#2a4e16"/><circle cx="179.0" cy="161.0" r="2.6" fill="#4e862a"/><circle cx="122.7" cy="128.7" r="1.8" fill="#4e862a"/><circle cx="132.6" cy="157.4" r="1.9" fill="#5a9232"/><circle cx="146.8" cy="212.8" r="2.5" fill="#8cc052"/><circle cx="112.7" cy="201.2" r="2.3" fill="#3a6a20"/><circle cx="200.6" cy="127.6" r="2.1" fill="#3a6a20"/><circle cx="214.0" cy="140.9" r="1.6" fill="#4e862a"/><circle cx="154.5" cy="117.6" r="2.1" fill="#2a4e16"/><circle cx="135.6" cy="143.1" r="1.9" fill="#8cc052"/><circle cx="83.6" cy="176.4" r="2.6" fill="#5a9232"/><circle cx="121.3" cy="145.6" r="2.3" fill="#4e862a"/><circle cx="211.1" cy="150.4" r="2.1" fill="#6aa23a"/><circle cx="209.4" cy="163.1" r="2.5" fill="#6aa23a"/><circle cx="114.0" cy="127.5" r="1.8" fill="#6aa23a"/><circle cx="100.1" cy="148.0" r="1.8" fill="#4e862a"/><circle cx="143.9" cy="195.2" r="2.4" fill="#4e862a"/><circle cx="130.1" cy="211.6" r="1.7" fill="#5a9232"/><circle cx="202.4" cy="129.4" r="1.8" fill="#5a9232"/><circle cx="126.1" cy="212.4" r="1.9" fill="#5a9232"/><circle cx="163.5" cy="168.6" r="2.5" fill="#4e862a"/><circle cx="149.5" cy="129.0" r="2.1" fill="#2a4e16"/><circle cx="88.9" cy="186.7" r="2.4" fill="#6aa23a"/><circle cx="153.4" cy="186.3" r="1.7" fill="#5a9232"/><circle cx="142.0" cy="120.7" r="1.9" fill="#2a4e16"/><circle cx="123.8" cy="133.7" r="1.8" fill="#4e862a"/><circle cx="86.7" cy="161.4" r="1.5" fill="#8cc052"/><circle cx="184.9" cy="131.3" r="1.6" fill="#3a6a20"/><circle cx="74.2" cy="173.4" r="2.2" fill="#8cc052"/><circle cx="137.5" cy="156.7" r="1.6" fill="#2a4e16"/><circle cx="144.1" cy="151.1" r="1.9" fill="#8cc052"/><circle cx="133.4" cy="208.4" r="2.1" fill="#3a6a20"/><circle cx="143.2" cy="186.7" r="2.4" fill="#5a9232"/><circle cx="118.1" cy="166.5" r="2.6" fill="#2a4e16"/><circle cx="188.4" cy="173.6" r="2.5" fill="#2a4e16"/><circle cx="130.6" cy="214.7" r="2.4" fill="#4e862a"/><circle cx="177.2" cy="204.0" r="2.1" fill="#5a9232"/><circle cx="93.8" cy="201.6" r="1.6" fill="#4e862a"/><circle cx="148.6" cy="156.4" r="2.5" fill="#4e862a"/><circle cx="201.4" cy="148.1" r="2.1" fill="#6aa23a"/><circle cx="123.1" cy="200.5" r="2.2" fill="#2a4e16"/><circle cx="105.0" cy="170.4" r="1.8" fill="#8cc052"/><circle cx="78.5" cy="181.0" r="1.7" fill="#6aa23a"/><circle cx="191.2" cy="128.2" r="2.1" fill="#3a6a20"/><circle cx="161.4" cy="184.6" r="1.9" fill="#3a6a20"/><circle cx="177.9" cy="171.8" r="1.6" fill="#2a4e16"/><circle cx="127.5" cy="152.6" r="1.6" fill="#3a6a20"/><circle cx="98.0" cy="161.2" r="2.3" fill="#2a4e16"/><circle cx="174.7" cy="199.7" r="1.9" fill="#4e862a"/><circle cx="174.8" cy="168.8" r="1.8" fill="#3a6a20"/><circle cx="201.7" cy="174.4" r="2.1" fill="#4e862a"/><circle cx="203.7" cy="148.2" r="2.4" fill="#3a6a20"/><circle cx="199.5" cy="191.9" r="2.1" fill="#5a9232"/><circle cx="150.1" cy="110.1" r="1.7" fill="#6aa23a"/><circle cx="165.5" cy="174.2" r="2.0" fill="#4e862a"/><circle cx="91.0" cy="187.9" r="2.6" fill="#4e862a"/><circle cx="177.2" cy="145.1" r="1.6" fill="#2a4e16"/><circle cx="106.1" cy="188.7" r="1.5" fill="#4e862a"/><circle cx="87.2" cy="193.6" r="1.6" fill="#4e862a"/><circle cx="158.3" cy="177.3" r="1.6" fill="#2a4e16"/><circle cx="192.6" cy="189.5" r="1.8" fill="#3a6a20"/><circle cx="204.2" cy="134.2" r="1.7" fill="#4e862a"/><circle cx="86.4" cy="156.9" r="1.9" fill="#2a4e16"/><circle cx="147.0" cy="124.9" r="2.4" fill="#2a4e16"/><circle cx="148.6" cy="171.1" r="2.1" fill="#4e862a"/><circle cx="198.8" cy="137.2" r="2.0" fill="#3a6a20"/><circle cx="115.9" cy="162.1" r="2.1" fill="#5a9232"/><circle cx="204.1" cy="141.0" r="2.3" fill="#4e862a"/><circle cx="130.7" cy="198.1" r="2.4" fill="#8cc052"/><circle cx="103.9" cy="200.3" r="2.4" fill="#4e862a"/><circle cx="97.9" cy="166.5" r="1.9" fill="#4e862a"/><circle cx="93.7" cy="193.2" r="1.5" fill="#6aa23a"/><circle cx="83.3" cy="169.8" r="2.6" fill="#5a9232"/><circle cx="129.4" cy="185.3" r="2.4" fill="#5a9232"/><circle cx="197.5" cy="190.7" r="2.5" fill="#5a9232"/><circle cx="111.5" cy="204.0" r="2.0" fill="#5a9232"/><circle cx="85.0" cy="165.2" r="1.8" fill="#5a9232"/><circle cx="194.0" cy="155.7" r="2.3" fill="#6aa23a"/><circle cx="120.1" cy="129.7" r="1.8" fill="#3a6a20"/><circle cx="183.5" cy="149.6" r="2.1" fill="#3a6a20"/><circle cx="165.1" cy="202.2" r="1.9" fill="#4e862a"/><circle cx="200.2" cy="183.3" r="2.5" fill="#4e862a"/><circle cx="83.0" cy="174.7" r="2.2" fill="#5a9232"/><circle cx="105.8" cy="204.5" r="1.9" fill="#5a9232"/><circle cx="100.3" cy="162.2" r="2.2" fill="#3a6a20"/><circle cx="120.0" cy="129.0" r="2.0" fill="#2a4e16"/><circle cx="139.9" cy="200.3" r="1.6" fill="#4e862a"/><circle cx="84.5" cy="158.6" r="1.8" fill="#6aa23a"/><circle cx="144.4" cy="131.2" r="1.9" fill="#5a9232"/><circle cx="214.7" cy="163.2" r="2.0" fill="#4e862a"/><circle cx="196.3" cy="138.9" r="2.5" fill="#3a6a20"/><circle cx="185.8" cy="146.0" r="2.5" fill="#2a4e16"/><circle cx="204.1" cy="171.2" r="2.2" fill="#3a6a20"/><circle cx="192.8" cy="207.0" r="2.3" fill="#6aa23a"/><circle cx="156.7" cy="179.4" r="1.6" fill="#5a9232"/><circle cx="185.4" cy="173.9" r="2.6" fill="#6aa23a"/><circle cx="105.2" cy="179.2" r="2.3" fill="#3a6a20"/><circle cx="190.8" cy="172.5" r="2.4" fill="#4e862a"/><circle cx="190.0" cy="113.7" r="1.6" fill="#6aa23a"/><circle cx="111.4" cy="164.3" r="2.3" fill="#5a9232"/><circle cx="132.1" cy="187.0" r="1.5" fill="#5a9232"/><circle cx="163.5" cy="164.9" r="2.4" fill="#5a9232"/><circle cx="188.3" cy="206.1" r="1.8" fill="#6aa23a"/><circle cx="199.3" cy="185.5" r="1.7" fill="#8cc052"/><circle cx="160.4" cy="186.8" r="1.5" fill="#6aa23a"/><circle cx="159.3" cy="120.9" r="2.0" fill="#4e862a"/><circle cx="111.2" cy="155.0" r="2.3" fill="#5a9232"/><circle cx="128.2" cy="196.7" r="2.3" fill="#3a6a20"/><circle cx="115.5" cy="141.0" r="1.6" fill="#8cc052"/><circle cx="179.3" cy="107.5" r="1.9" fill="#8cc052"/><circle cx="130.9" cy="142.4" r="2.5" fill="#2a4e16"/><circle cx="173.6" cy="200.8" r="2.0" fill="#3a6a20"/><circle cx="184.6" cy="206.6" r="2.0" fill="#3a6a20"/><circle cx="150.0" cy="109.2" r="1.9" fill="#4e862a"/><circle cx="151.3" cy="156.4" r="1.7" fill="#4e862a"/><circle cx="86.0" cy="181.1" r="2.5" fill="#4e862a"/><circle cx="180.2" cy="200.4" r="2.1" fill="#5a9232"/><circle cx="122.8" cy="165.0" r="2.5" fill="#3a6a20"/><circle cx="142.1" cy="114.8" r="1.7" fill="#6aa23a"/><circle cx="145.3" cy="110.8" r="2.2" fill="#8cc052"/><circle cx="120.6" cy="176.6" r="2.3" fill="#4e862a"/><circle cx="95.3" cy="181.9" r="1.8" fill="#2a4e16"/><circle cx="146.9" cy="162.1" r="2.3" fill="#8cc052"/><circle cx="192.4" cy="185.5" r="1.8" fill="#4e862a"/><circle cx="149.9" cy="164.2" r="2.3" fill="#6aa23a"/><circle cx="177.2" cy="162.7" r="2.4" fill="#6aa23a"/><circle cx="146.9" cy="213.2" r="2.2" fill="#4e862a"/><circle cx="186.5" cy="177.0" r="1.7" fill="#3a6a20"/><circle cx="136.5" cy="195.4" r="2.1" fill="#5a9232"/><circle cx="138.7" cy="212.4" r="2.0" fill="#3a6a20"/><circle cx="167.7" cy="127.4" r="1.7" fill="#3a6a20"/><circle cx="132.9" cy="200.7" r="2.2" fill="#4e862a"/><circle cx="99.9" cy="147.6" r="2.3" fill="#4e862a"/><circle cx="113.3" cy="177.0" r="1.7" fill="#3a6a20"/><circle cx="170.3" cy="198.1" r="1.8" fill="#8cc052"/><circle cx="137.7" cy="213.0" r="2.3" fill="#5a9232"/><circle cx="126.1" cy="127.6" r="2.3" fill="#6aa23a"/><circle cx="148.3" cy="127.8" r="2.4" fill="#8cc052"/><circle cx="121.4" cy="206.9" r="1.8" fill="#3a6a20"/><circle cx="173.5" cy="159.0" r="1.6" fill="#8cc052"/><circle cx="183.6" cy="178.1" r="2.0" fill="#5a9232"/><circle cx="134.0" cy="204.6" r="2.0" fill="#4e862a"/><circle cx="125.4" cy="153.2" r="2.6" fill="#3a6a20"/><circle cx="140.5" cy="122.0" r="1.9" fill="#4e862a"/><circle cx="123.8" cy="143.9" r="1.6" fill="#8cc052"/><circle cx="138.0" cy="188.0" r="2.5" fill="#3a6a20"/><circle cx="181.7" cy="195.9" r="2.0" fill="#3a6a20"/><circle cx="171.3" cy="105.7" r="2.0" fill="#8cc052"/><circle cx="175.8" cy="146.6" r="2.0" fill="#8cc052"/><circle cx="90.5" cy="166.8" r="2.5" fill="#6aa23a"/><circle cx="129.1" cy="183.4" r="2.0" fill="#8cc052"/><circle cx="135.2" cy="164.3" r="1.9" fill="#2a4e16"/><circle cx="100.1" cy="202.1" r="1.6" fill="#4e862a"/><circle cx="149.2" cy="210.9" r="1.5" fill="#6aa23a"/><circle cx="175.4" cy="130.0" r="1.8" fill="#8cc052"/><circle cx="99.3" cy="147.8" r="1.6" fill="#5a9232"/><circle cx="155.5" cy="163.8" r="2.2" fill="#6aa23a"/><circle cx="145.5" cy="121.2" r="2.2" fill="#3a6a20"/><circle cx="193.7" cy="139.6" r="2.6" fill="#4e862a"/><circle cx="159.9" cy="112.2" r="2.3" fill="#3a6a20"/><circle cx="170.0" cy="121.9" r="2.1" fill="#2a4e16"/><circle cx="128.6" cy="165.5" r="1.7" fill="#5a9232"/><circle cx="149.8" cy="128.7" r="2.1" fill="#3a6a20"/><circle cx="168.5" cy="162.0" r="2.0" fill="#3a6a20"/><circle cx="181.1" cy="174.0" r="2.1" fill="#6aa23a"/><circle cx="202.7" cy="156.7" r="1.9" fill="#5a9232"/><circle cx="166.4" cy="184.5" r="1.7" fill="#6aa23a"/><circle cx="165.4" cy="118.5" r="2.0" fill="#5a9232"/><circle cx="109.6" cy="208.1" r="2.6" fill="#4e862a"/><circle cx="181.7" cy="137.6" r="2.2" fill="#5a9232"/><circle cx="152.2" cy="191.7" r="1.9" fill="#4e862a"/><circle cx="153.8" cy="151.7" r="2.6" fill="#2a4e16"/><circle cx="169.4" cy="206.7" r="2.0" fill="#5a9232"/><circle cx="133.6" cy="156.3" r="2.3" fill="#4e862a"/><circle cx="116.5" cy="154.4" r="2.4" fill="#3a6a20"/><circle cx="101.8" cy="150.7" r="1.8" fill="#3a6a20"/><circle cx="175.8" cy="127.4" r="1.5" fill="#8cc052"/><circle cx="115.5" cy="159.0" r="1.7" fill="#3a6a20"/><circle cx="121.0" cy="132.0" r="1.6" fill="#3a6a20"/><circle cx="197.3" cy="152.2" r="2.5" fill="#3a6a20"/><circle cx="197.2" cy="154.8" r="2.1" fill="#6aa23a"/><circle cx="150.0" cy="183.7" r="2.4" fill="#4e862a"/><circle cx="133.9" cy="169.5" r="1.8" fill="#4e862a"/><circle cx="212.0" cy="159.6" r="2.2" fill="#2a4e16"/><circle cx="179.9" cy="120.3" r="2.0" fill="#5a9232"/><circle cx="110.3" cy="167.3" r="1.5" fill="#4e862a"/><circle cx="202.7" cy="180.1" r="2.4" fill="#6aa23a"/><circle cx="100.7" cy="145.6" r="1.6" fill="#3a6a20"/><circle cx="140.5" cy="178.8" r="2.5" fill="#4e862a"/><circle cx="121.1" cy="135.9" r="2.3" fill="#4e862a"/><circle cx="206.9" cy="174.2" r="2.2" fill="#2a4e16"/><circle cx="171.3" cy="189.1" r="2.1" fill="#6aa23a"/><circle cx="173.5" cy="152.6" r="2.1" fill="#4e862a"/><circle cx="88.8" cy="156.2" r="2.3" fill="#6aa23a"/><circle cx="163.9" cy="161.0" r="1.9" fill="#4e862a"/><circle cx="141.4" cy="111.4" r="2.6" fill="#3a6a20"/><circle cx="114.1" cy="149.7" r="1.9" fill="#5a9232"/><circle cx="142.7" cy="175.7" r="2.3" fill="#5a9232"/><circle cx="211.8" cy="138.5" r="2.4" fill="#8cc052"/><circle cx="161.0" cy="205.4" r="1.9" fill="#8cc052"/><circle cx="208.9" cy="146.0" r="2.5" fill="#2a4e16"/><circle cx="174.3" cy="140.6" r="1.9" fill="#6aa23a"/><circle cx="116.3" cy="153.9" r="1.6" fill="#2a4e16"/><circle cx="153.4" cy="181.5" r="1.8" fill="#2a4e16"/><circle cx="163.6" cy="144.3" r="1.7" fill="#3a6a20"/><circle cx="157.6" cy="146.4" r="1.8" fill="#2a4e16"/><circle cx="111.2" cy="152.6" r="1.6" fill="#4e862a"/><circle cx="163.0" cy="109.4" r="1.8" fill="#3a6a20"/><circle cx="125.5" cy="141.8" r="2.4" fill="#4e862a"/><circle cx="206.9" cy="184.3" r="2.0" fill="#5a9232"/><circle cx="80.0" cy="181.9" r="2.1" fill="#2a4e16"/><circle cx="210.3" cy="158.0" r="2.1" fill="#3a6a20"/><circle cx="115.5" cy="206.2" r="2.1" fill="#5a9232"/><circle cx="170.5" cy="155.0" r="2.2" fill="#2a4e16"/><circle cx="191.9" cy="205.7" r="2.0" fill="#3a6a20"/><circle cx="202.1" cy="155.7" r="2.4" fill="#6aa23a"/><circle cx="158.3" cy="217.1" r="1.7" fill="#4e862a"/><circle cx="87.1" cy="189.5" r="1.8" fill="#6aa23a"/><circle cx="126.9" cy="125.7" r="2.4" fill="#3a6a20"/><circle cx="177.6" cy="214.1" r="1.5" fill="#5a9232"/><circle cx="145.5" cy="162.8" r="1.7" fill="#4e862a"/><circle cx="132.9" cy="188.7" r="2.4" fill="#2a4e16"/><circle cx="115.4" cy="131.3" r="2.3" fill="#6aa23a"/><circle cx="103.7" cy="147.6" r="1.6" fill="#4e862a"/><circle cx="152.6" cy="119.5" r="2.0" fill="#2a4e16"/><circle cx="204.5" cy="160.9" r="1.9" fill="#3a6a20"/><circle cx="205.0" cy="130.4" r="2.0" fill="#3a6a20"/><circle cx="102.2" cy="139.4" r="2.1" fill="#3a6a20"/><circle cx="210.4" cy="170.9" r="2.2" fill="#3a6a20"/><circle cx="150.6" cy="174.9" r="2.1" fill="#5a9232"/><circle cx="81.0" cy="190.1" r="1.8" fill="#4e862a"/><circle cx="171.6" cy="173.1" r="2.4" fill="#3a6a20"/><circle cx="202.2" cy="180.4" r="1.8" fill="#8cc052"/><circle cx="212.1" cy="139.4" r="1.8" fill="#5a9232"/><circle cx="155.3" cy="216.3" r="2.5" fill="#4e862a"/><circle cx="177.7" cy="122.3" r="2.2" fill="#3a6a20"/><circle cx="114.4" cy="192.2" r="1.6" fill="#8cc052"/><circle cx="205.4" cy="172.0" r="1.5" fill="#5a9232"/><circle cx="141.1" cy="121.7" r="2.4" fill="#2a4e16"/><circle cx="202.2" cy="184.6" r="2.1" fill="#3a6a20"/><circle cx="211.5" cy="151.3" r="2.1" fill="#4e862a"/><circle cx="130.4" cy="139.4" r="2.4" fill="#4e862a"/><circle cx="179.0" cy="173.1" r="1.8" fill="#4e862a"/><circle cx="165.0" cy="138.4" r="2.4" fill="#3a6a20"/><circle cx="105.4" cy="204.8" r="2.1" fill="#4e862a"/><circle cx="151.4" cy="182.2" r="1.9" fill="#2a4e16"/><circle cx="203.1" cy="162.0" r="2.0" fill="#6aa23a"/><circle cx="161.7" cy="133.4" r="2.5" fill="#4e862a"/><circle cx="119.2" cy="179.2" r="2.4" fill="#8cc052"/><circle cx="186.6" cy="199.4" r="2.3" fill="#4e862a"/><circle cx="104.5" cy="197.3" r="2.0" fill="#2a4e16"/><circle cx="172.1" cy="117.9" r="2.0" fill="#6aa23a"/><circle cx="110.4" cy="133.2" r="1.9" fill="#6aa23a"/><circle cx="118.6" cy="186.5" r="2.2" fill="#5a9232"/><circle cx="139.5" cy="112.7" r="1.7" fill="#5a9232"/><circle cx="183.2" cy="113.8" r="2.0" fill="#6aa23a"/><circle cx="175.9" cy="200.6" r="2.1" fill="#6aa23a"/><circle cx="160.2" cy="215.3" r="2.2" fill="#4e862a"/><circle cx="133.9" cy="145.4" r="1.8" fill="#6aa23a"/><circle cx="149.3" cy="197.4" r="2.0" fill="#5a9232"/><circle cx="144.5" cy="171.7" r="2.3" fill="#8cc052"/><circle cx="122.7" cy="166.7" r="2.3" fill="#8cc052"/><circle cx="98.1" cy="181.2" r="2.6" fill="#6aa23a"/><circle cx="197.6" cy="122.7" r="2.5" fill="#3a6a20"/><circle cx="121.8" cy="138.0" r="2.0" fill="#4e862a"/><circle cx="209.1" cy="156.9" r="1.5" fill="#5a9232"/><circle cx="159.6" cy="149.2" r="2.0" fill="#8cc052"/><circle cx="81.8" cy="169.5" r="1.5" fill="#5a9232"/><circle cx="132.3" cy="172.3" r="2.1" fill="#2a4e16"/><circle cx="192.5" cy="115.8" r="2.2" fill="#3a6a20"/><circle cx="92.9" cy="155.6" r="2.4" fill="#2a4e16"/><circle cx="121.5" cy="133.0" r="1.9" fill="#2a4e16"/><circle cx="126.1" cy="143.0" r="2.0" fill="#4e862a"/><circle cx="90.3" cy="170.3" r="1.8" fill="#6aa23a"/><circle cx="150.1" cy="126.9" r="2.1" fill="#5a9232"/><circle cx="115.3" cy="205.8" r="2.0" fill="#4e862a"/><circle cx="135.9" cy="204.0" r="2.0" fill="#5a9232"/><circle cx="194.7" cy="131.6" r="2.0" fill="#8cc052"/><circle cx="202.2" cy="150.7" r="2.3" fill="#2a4e16"/><circle cx="193.9" cy="200.5" r="2.5" fill="#4e862a"/><circle cx="191.0" cy="128.4" r="1.7" fill="#6aa23a"/><circle cx="207.7" cy="145.0" r="2.0" fill="#5a9232"/><circle cx="151.1" cy="188.3" r="1.6" fill="#4e862a"/><circle cx="213.8" cy="151.6" r="1.7" fill="#4e862a"/><circle cx="138.0" cy="151.4" r="2.0" fill="#5a9232"/><circle cx="76.9" cy="185.8" r="2.2" fill="#6aa23a"/><circle cx="131.3" cy="213.6" r="2.1" fill="#5a9232"/><circle cx="115.1" cy="156.0" r="2.2" fill="#4e862a"/><circle cx="154.3" cy="202.4" r="2.4" fill="#4e862a"/><circle cx="201.6" cy="166.7" r="1.9" fill="#4e862a"/><circle cx="132.6" cy="162.3" r="2.6" fill="#2a4e16"/><circle cx="125.1" cy="144.9" r="2.2" fill="#3a6a20"/><circle cx="125.2" cy="126.3" r="1.5" fill="#5a9232"/><circle cx="88.7" cy="153.8" r="1.6" fill="#4e862a"/><circle cx="105.6" cy="139.2" r="2.5" fill="#6aa23a"/><circle cx="201.1" cy="150.4" r="1.8" fill="#5a9232"/><circle cx="102.8" cy="146.6" r="2.6" fill="#6aa23a"/><circle cx="130.4" cy="135.8" r="2.2" fill="#2a4e16"/><circle cx="116.8" cy="138.3" r="1.9" fill="#4e862a"/><circle cx="141.7" cy="134.6" r="2.6" fill="#6aa23a"/><circle cx="193.8" cy="157.9" r="1.5" fill="#5a9232"/><circle cx="95.3" cy="196.0" r="1.9" fill="#2a4e16"/><circle cx="129.5" cy="172.0" r="2.3" fill="#2a4e16"/><circle cx="132.1" cy="214.3" r="2.5" fill="#5a9232"/><circle cx="167.6" cy="173.4" r="2.2" fill="#6aa23a"/><circle cx="132.2" cy="213.1" r="2.2" fill="#4e862a"/><circle cx="103.3" cy="159.4" r="2.5" fill="#3a6a20"/><circle cx="167.1" cy="214.4" r="2.0" fill="#4e862a"/><circle cx="111.4" cy="207.2" r="1.6" fill="#3a6a20"/><circle cx="94.7" cy="201.0" r="1.8" fill="#4e862a"/><circle cx="109.1" cy="130.8" r="1.5" fill="#4e862a"/><circle cx="132.3" cy="200.6" r="2.1" fill="#5a9232"/><circle cx="213.9" cy="144.8" r="2.1" fill="#5a9232"/><circle cx="94.5" cy="191.3" r="1.5" fill="#5a9232"/><circle cx="187.8" cy="200.6" r="1.9" fill="#3a6a20"/><circle cx="157.4" cy="150.2" r="2.5" fill="#6aa23a"/><circle cx="111.7" cy="140.5" r="2.4" fill="#6aa23a"/><circle cx="143.1" cy="153.7" r="2.4" fill="#2a4e16"/><circle cx="115.5" cy="156.7" r="1.7" fill="#5a9232"/><circle cx="128.6" cy="186.1" r="2.3" fill="#2a4e16"/><circle cx="105.2" cy="178.5" r="2.6" fill="#4e862a"/><circle cx="131.5" cy="172.4" r="1.6" fill="#6aa23a"/><circle cx="72.5" cy="173.9" r="2.1" fill="#4e862a"/><circle cx="201.6" cy="156.8" r="2.4" fill="#4e862a"/><circle cx="162.3" cy="209.8" r="1.9" fill="#3a6a20"/><circle cx="123.8" cy="189.2" r="2.4" fill="#5a9232"/><circle cx="159.0" cy="215.7" r="2.0" fill="#3a6a20"/><circle cx="189.2" cy="195.3" r="2.4" fill="#2a4e16"/><circle cx="177.1" cy="201.7" r="1.5" fill="#4e862a"/><circle cx="154.3" cy="137.7" r="2.0" fill="#2a4e16"/><circle cx="195.2" cy="125.7" r="1.7" fill="#8cc052"/><circle cx="174.6" cy="151.0" r="2.5" fill="#5a9232"/><circle cx="141.0" cy="118.8" r="1.5" fill="#4e862a"/><circle cx="141.4" cy="157.4" r="2.6" fill="#5a9232"/><circle cx="170.2" cy="113.6" r="1.9" fill="#6aa23a"/><circle cx="178.9" cy="178.3" r="2.0" fill="#2a4e16"/><circle cx="178.0" cy="125.9" r="2.4" fill="#4e862a"/><circle cx="111.8" cy="162.3" r="2.2" fill="#2a4e16"/><circle cx="130.9" cy="211.0" r="2.1" fill="#8cc052"/><circle cx="158.9" cy="163.1" r="1.6" fill="#3a6a20"/><circle cx="147.5" cy="147.6" r="1.7" fill="#3a6a20"/><circle cx="141.4" cy="178.6" r="1.7" fill="#3a6a20"/><circle cx="78.6" cy="170.6" r="2.5" fill="#5a9232"/><circle cx="158.6" cy="197.6" r="1.6" fill="#4e862a"/><circle cx="147.2" cy="204.0" r="2.1" fill="#8cc052"/><circle cx="207.4" cy="156.2" r="2.2" fill="#3a6a20"/><circle cx="76.9" cy="180.8" r="1.5" fill="#6aa23a"/><circle cx="85.9" cy="157.5" r="1.8" fill="#6aa23a"/><circle cx="127.7" cy="130.1" r="1.9" fill="#6aa23a"/><circle cx="186.6" cy="134.8" r="2.4" fill="#4e862a"/><circle cx="85.8" cy="166.5" r="1.7" fill="#3a6a20"/><circle cx="157.9" cy="155.0" r="1.6" fill="#5a9232"/><circle cx="108.8" cy="190.3" r="1.5" fill="#4e862a"/><circle cx="130.1" cy="207.9" r="2.2" fill="#4e862a"/><circle cx="144.8" cy="199.1" r="1.7" fill="#4e862a"/><circle cx="122.6" cy="136.1" r="1.7" fill="#4e862a"/><circle cx="123.5" cy="175.9" r="1.9" fill="#4e862a"/><circle cx="195.8" cy="134.5" r="1.6" fill="#4e862a"/><circle cx="110.0" cy="181.9" r="2.2" fill="#4e862a"/><circle cx="199.6" cy="124.7" r="2.3" fill="#6aa23a"/><circle cx="115.3" cy="150.2" r="2.3" fill="#3a6a20"/><circle cx="132.9" cy="125.1" r="2.3" fill="#2a4e16"/><circle cx="149.1" cy="173.1" r="2.0" fill="#5a9232"/><circle cx="112.6" cy="150.9" r="1.6" fill="#5a9232"/><circle cx="179.1" cy="171.0" r="1.9" fill="#3a6a20"/><circle cx="135.5" cy="140.9" r="2.3" fill="#4e862a"/><circle cx="185.1" cy="135.7" r="2.4" fill="#6aa23a"/><circle cx="186.7" cy="123.0" r="2.5" fill="#3a6a20"/><circle cx="111.9" cy="149.6" r="2.4" fill="#4e862a"/><circle cx="135.2" cy="189.8" r="1.8" fill="#2a4e16"/><circle cx="147.7" cy="109.5" r="1.9" fill="#2a4e16"/></g><g opacity="0.8"><circle cx="91.1" cy="169.7" r="1.1" fill="#a6d06a"/><circle cx="163.8" cy="110.5" r="0.7" fill="#a6d06a"/><circle cx="190.2" cy="192.9" r="1.0" fill="#a6d06a"/><circle cx="167.1" cy="215.3" r="1.1" fill="#a6d06a"/><circle cx="144.9" cy="159.8" r="1.1" fill="#a6d06a"/><circle cx="174.0" cy="142.6" r="0.9" fill="#a6d06a"/><circle cx="198.8" cy="138.2" r="0.7" fill="#a6d06a"/><circle cx="99.1" cy="143.0" r="0.8" fill="#a6d06a"/><circle cx="183.6" cy="130.7" r="0.8" fill="#a6d06a"/><circle cx="111.3" cy="168.0" r="0.9" fill="#a6d06a"/><circle cx="189.0" cy="154.1" r="1.0" fill="#a6d06a"/><circle cx="96.1" cy="149.5" r="1.0" fill="#a6d06a"/><circle cx="109.1" cy="193.2" r="0.9" fill="#a6d06a"/><circle cx="129.5" cy="205.0" r="0.8" fill="#a6d06a"/><circle cx="90.8" cy="165.3" r="0.7" fill="#a6d06a"/><circle cx="217.8" cy="156.3" r="1.0" fill="#a6d06a"/><circle cx="170.5" cy="210.4" r="1.0" fill="#a6d06a"/><circle cx="76.6" cy="188.7" r="0.8" fill="#a6d06a"/><circle cx="138.4" cy="159.7" r="0.7" fill="#a6d06a"/><circle cx="126.3" cy="156.0" r="1.1" fill="#a6d06a"/><circle cx="195.2" cy="130.0" r="0.7" fill="#a6d06a"/><circle cx="214.8" cy="144.1" r="1.0" fill="#a6d06a"/><circle cx="187.9" cy="193.7" r="1.0" fill="#a6d06a"/><circle cx="171.7" cy="169.5" r="1.1" fill="#a6d06a"/><circle cx="107.6" cy="151.1" r="0.9" fill="#a6d06a"/><circle cx="167.0" cy="159.5" r="1.0" fill="#a6d06a"/><circle cx="139.9" cy="126.7" r="0.8" fill="#a6d06a"/><circle cx="106.0" cy="185.7" r="1.1" fill="#a6d06a"/><circle cx="99.8" cy="191.8" r="0.9" fill="#a6d06a"/><circle cx="143.4" cy="152.6" r="0.7" fill="#a6d06a"/><circle cx="200.4" cy="175.4" r="1.1" fill="#a6d06a"/><circle cx="105.9" cy="152.6" r="1.1" fill="#a6d06a"/><circle cx="103.1" cy="198.6" r="0.9" fill="#a6d06a"/><circle cx="85.3" cy="165.9" r="0.9" fill="#a6d06a"/><circle cx="195.2" cy="120.4" r="1.1" fill="#a6d06a"/><circle cx="165.4" cy="205.8" r="0.7" fill="#a6d06a"/><circle cx="186.8" cy="181.5" r="1.2" fill="#a6d06a"/><circle cx="194.3" cy="151.1" r="1.1" fill="#a6d06a"/><circle cx="154.8" cy="170.7" r="1.0" fill="#a6d06a"/><circle cx="90.1" cy="177.5" r="0.9" fill="#a6d06a"/><circle cx="106.1" cy="172.6" r="0.8" fill="#a6d06a"/><circle cx="173.5" cy="188.3" r="0.7" fill="#a6d06a"/><circle cx="138.3" cy="199.4" r="0.8" fill="#a6d06a"/><circle cx="127.0" cy="181.7" r="0.8" fill="#a6d06a"/><circle cx="170.6" cy="160.5" r="1.0" fill="#a6d06a"/><circle cx="95.0" cy="148.2" r="0.8" fill="#a6d06a"/><circle cx="170.8" cy="113.3" r="1.0" fill="#a6d06a"/><circle cx="217.1" cy="148.2" r="1.1" fill="#a6d06a"/><circle cx="175.6" cy="187.2" r="0.8" fill="#a6d06a"/><circle cx="86.5" cy="162.3" r="1.1" fill="#a6d06a"/><circle cx="136.2" cy="191.2" r="0.7" fill="#a6d06a"/><circle cx="176.0" cy="142.7" r="0.8" fill="#a6d06a"/><circle cx="143.5" cy="140.9" r="0.7" fill="#a6d06a"/><circle cx="182.8" cy="145.0" r="1.0" fill="#a6d06a"/><circle cx="123.6" cy="134.4" r="0.9" fill="#a6d06a"/><circle cx="122.8" cy="186.2" r="0.8" fill="#a6d06a"/><circle cx="115.1" cy="139.0" r="0.8" fill="#a6d06a"/><circle cx="148.3" cy="203.8" r="1.0" fill="#a6d06a"/><circle cx="176.8" cy="187.4" r="1.1" fill="#a6d06a"/><circle cx="168.0" cy="194.3" r="0.8" fill="#a6d06a"/><circle cx="188.7" cy="201.7" r="1.0" fill="#a6d06a"/><circle cx="195.3" cy="124.1" r="0.8" fill="#a6d06a"/><circle cx="175.0" cy="119.3" r="1.0" fill="#a6d06a"/><circle cx="93.3" cy="157.7" r="0.8" fill="#a6d06a"/><circle cx="130.8" cy="141.4" r="0.8" fill="#a6d06a"/><circle cx="79.9" cy="190.7" r="1.1" fill="#a6d06a"/><circle cx="134.7" cy="199.9" r="0.8" fill="#a6d06a"/><circle cx="133.4" cy="172.5" r="1.0" fill="#a6d06a"/><circle cx="110.0" cy="138.5" r="1.2" fill="#a6d06a"/><circle cx="206.7" cy="181.7" r="1.0" fill="#a6d06a"/><circle cx="207.4" cy="172.3" r="1.0" fill="#a6d06a"/><circle cx="170.3" cy="151.1" r="1.1" fill="#a6d06a"/><circle cx="96.6" cy="163.5" r="0.8" fill="#a6d06a"/><circle cx="189.9" cy="130.1" r="0.8" fill="#a6d06a"/><circle cx="90.6" cy="156.9" r="1.0" fill="#a6d06a"/><circle cx="150.5" cy="126.6" r="0.8" fill="#a6d06a"/><circle cx="171.6" cy="210.5" r="0.8" fill="#a6d06a"/><circle cx="99.0" cy="175.5" r="0.9" fill="#a6d06a"/><circle cx="94.3" cy="170.6" r="0.8" fill="#a6d06a"/><circle cx="185.0" cy="171.6" r="1.0" fill="#a6d06a"/><circle cx="98.9" cy="139.5" r="0.8" fill="#a6d06a"/><circle cx="168.8" cy="209.6" r="0.7" fill="#a6d06a"/><circle cx="200.9" cy="139.6" r="0.9" fill="#a6d06a"/><circle cx="188.7" cy="174.9" r="0.7" fill="#a6d06a"/><circle cx="153.6" cy="206.0" r="1.0" fill="#a6d06a"/><circle cx="209.9" cy="168.6" r="0.8" fill="#a6d06a"/><circle cx="182.7" cy="181.2" r="1.1" fill="#a6d06a"/><circle cx="153.5" cy="165.8" r="0.9" fill="#a6d06a"/><circle cx="143.6" cy="167.4" r="0.8" fill="#a6d06a"/><circle cx="169.7" cy="196.5" r="0.8" fill="#a6d06a"/><circle cx="110.9" cy="190.0" r="0.8" fill="#a6d06a"/><circle cx="199.9" cy="184.8" r="0.7" fill="#a6d06a"/><circle cx="74.6" cy="187.0" r="1.0" fill="#a6d06a"/><circle cx="169.8" cy="158.8" r="0.9" fill="#a6d06a"/><circle cx="155.3" cy="191.5" r="0.9" fill="#a6d06a"/><circle cx="83.4" cy="161.7" r="1.1" fill="#a6d06a"/><circle cx="172.1" cy="114.8" r="1.1" fill="#a6d06a"/><circle cx="130.2" cy="127.1" r="1.0" fill="#a6d06a"/><circle cx="93.3" cy="163.1" r="1.0" fill="#a6d06a"/><circle cx="183.1" cy="176.8" r="0.8" fill="#a6d06a"/><circle cx="135.8" cy="181.4" r="0.9" fill="#a6d06a"/><circle cx="127.2" cy="195.6" r="0.9" fill="#a6d06a"/><circle cx="196.8" cy="158.8" r="0.8" fill="#a6d06a"/><circle cx="195.2" cy="137.4" r="1.1" fill="#a6d06a"/><circle cx="208.9" cy="171.5" r="0.9" fill="#a6d06a"/><circle cx="82.8" cy="177.5" r="1.1" fill="#a6d06a"/><circle cx="157.1" cy="114.9" r="0.9" fill="#a6d06a"/><circle cx="130.2" cy="161.9" r="0.9" fill="#a6d06a"/><circle cx="137.5" cy="155.8" r="0.7" fill="#a6d06a"/><circle cx="141.3" cy="122.3" r="0.8" fill="#a6d06a"/><circle cx="158.1" cy="152.8" r="0.9" fill="#a6d06a"/><circle cx="155.0" cy="139.2" r="1.0" fill="#a6d06a"/><circle cx="132.9" cy="157.8" r="0.8" fill="#a6d06a"/><circle cx="190.4" cy="193.2" r="1.1" fill="#a6d06a"/><circle cx="144.0" cy="206.9" r="0.8" fill="#a6d06a"/><circle cx="187.7" cy="151.0" r="0.9" fill="#a6d06a"/><circle cx="162.8" cy="134.7" r="1.1" fill="#a6d06a"/><circle cx="138.4" cy="159.5" r="1.0" fill="#a6d06a"/><circle cx="170.7" cy="192.7" r="0.7" fill="#a6d06a"/><circle cx="167.4" cy="210.6" r="0.9" fill="#a6d06a"/><circle cx="188.4" cy="162.5" r="0.9" fill="#a6d06a"/><circle cx="178.3" cy="160.3" r="1.2" fill="#a6d06a"/><circle cx="122.0" cy="128.0" r="0.8" fill="#a6d06a"/><circle cx="146.1" cy="212.1" r="1.1" fill="#a6d06a"/><circle cx="112.0" cy="200.5" r="1.0" fill="#a6d06a"/><circle cx="199.9" cy="126.9" r="0.9" fill="#a6d06a"/><circle cx="213.3" cy="140.2" r="0.7" fill="#a6d06a"/><circle cx="134.9" cy="142.4" r="0.9" fill="#a6d06a"/><circle cx="82.9" cy="175.7" r="1.2" fill="#a6d06a"/><circle cx="120.6" cy="144.9" r="1.0" fill="#a6d06a"/><circle cx="210.4" cy="149.7" r="0.9" fill="#a6d06a"/><circle cx="125.4" cy="211.7" r="0.9" fill="#a6d06a"/><circle cx="162.8" cy="167.9" r="1.1" fill="#a6d06a"/><circle cx="148.8" cy="128.3" r="0.9" fill="#a6d06a"/><circle cx="88.2" cy="186.0" r="1.1" fill="#a6d06a"/><circle cx="152.7" cy="185.6" r="0.8" fill="#a6d06a"/><circle cx="141.3" cy="120.0" r="0.8" fill="#a6d06a"/><circle cx="73.5" cy="172.7" r="1.0" fill="#a6d06a"/><circle cx="136.8" cy="156.0" r="0.7" fill="#a6d06a"/><circle cx="142.5" cy="186.0" r="1.1" fill="#a6d06a"/><circle cx="129.9" cy="214.0" r="1.1" fill="#a6d06a"/><circle cx="200.7" cy="147.4" r="0.9" fill="#a6d06a"/><circle cx="104.3" cy="169.7" r="0.8" fill="#a6d06a"/><circle cx="160.7" cy="183.9" r="0.9" fill="#a6d06a"/><circle cx="97.3" cy="160.5" r="1.0" fill="#a6d06a"/><circle cx="174.1" cy="168.1" r="0.8" fill="#a6d06a"/><circle cx="201.0" cy="173.7" r="1.0" fill="#a6d06a"/><circle cx="203.0" cy="147.5" r="1.1" fill="#a6d06a"/><circle cx="149.4" cy="109.4" r="0.8" fill="#a6d06a"/><circle cx="90.3" cy="187.2" r="1.2" fill="#a6d06a"/><circle cx="105.4" cy="188.0" r="0.7" fill="#a6d06a"/><circle cx="86.5" cy="192.9" r="0.7" fill="#a6d06a"/><circle cx="191.9" cy="188.8" r="0.8" fill="#a6d06a"/><circle cx="85.7" cy="156.2" r="0.9" fill="#a6d06a"/><circle cx="146.3" cy="124.2" r="1.1" fill="#a6d06a"/><circle cx="198.1" cy="136.5" r="0.9" fill="#a6d06a"/><circle cx="130.0" cy="197.4" r="1.1" fill="#a6d06a"/><circle cx="110.8" cy="203.3" r="0.9" fill="#a6d06a"/><circle cx="193.3" cy="155.0" r="1.0" fill="#a6d06a"/><circle cx="182.8" cy="148.9" r="0.9" fill="#a6d06a"/><circle cx="199.5" cy="182.6" r="1.1" fill="#a6d06a"/><circle cx="99.6" cy="161.5" r="1.0" fill="#a6d06a"/><circle cx="139.2" cy="199.6" r="0.7" fill="#a6d06a"/><circle cx="143.7" cy="130.5" r="0.8" fill="#a6d06a"/><circle cx="195.6" cy="138.2" r="1.1" fill="#a6d06a"/><circle cx="203.4" cy="170.5" r="1.0" fill="#a6d06a"/><circle cx="192.1" cy="206.3" r="1.0" fill="#a6d06a"/><circle cx="156.0" cy="178.7" r="0.7" fill="#a6d06a"/><circle cx="184.7" cy="173.2" r="1.2" fill="#a6d06a"/><circle cx="104.5" cy="178.5" r="1.1" fill="#a6d06a"/><circle cx="189.3" cy="113.0" r="0.7" fill="#a6d06a"/><circle cx="162.8" cy="164.2" r="1.1" fill="#a6d06a"/><circle cx="159.7" cy="186.1" r="0.7" fill="#a6d06a"/><circle cx="158.6" cy="120.2" r="0.9" fill="#a6d06a"/><circle cx="110.5" cy="154.3" r="1.0" fill="#a6d06a"/><circle cx="114.8" cy="140.3" r="0.7" fill="#a6d06a"/><circle cx="178.6" cy="106.8" r="0.9" fill="#a6d06a"/><circle cx="172.9" cy="200.1" r="0.9" fill="#a6d06a"/><circle cx="150.6" cy="155.7" r="0.8" fill="#a6d06a"/><circle cx="85.3" cy="180.4" r="1.1" fill="#a6d06a"/><circle cx="122.1" cy="164.3" r="1.1" fill="#a6d06a"/><circle cx="94.6" cy="181.2" r="0.8" fill="#a6d06a"/><circle cx="146.2" cy="161.4" r="1.1" fill="#a6d06a"/><circle cx="191.7" cy="184.8" r="0.8" fill="#a6d06a"/><circle cx="149.2" cy="163.5" r="1.0" fill="#a6d06a"/><circle cx="176.5" cy="162.0" r="1.1" fill="#a6d06a"/><circle cx="146.2" cy="212.5" r="1.0" fill="#a6d06a"/><circle cx="185.8" cy="176.3" r="0.7" fill="#a6d06a"/><circle cx="135.8" cy="194.7" r="0.9" fill="#a6d06a"/><circle cx="138.0" cy="211.7" r="0.9" fill="#a6d06a"/><circle cx="167.0" cy="126.7" r="0.8" fill="#a6d06a"/><circle cx="99.2" cy="146.9" r="1.1" fill="#a6d06a"/><circle cx="112.6" cy="176.3" r="0.8" fill="#a6d06a"/><circle cx="137.0" cy="212.3" r="1.0" fill="#a6d06a"/><circle cx="125.4" cy="126.9" r="1.1" fill="#a6d06a"/><circle cx="120.7" cy="206.2" r="0.8" fill="#a6d06a"/><circle cx="172.8" cy="158.3" r="0.7" fill="#a6d06a"/><circle cx="124.7" cy="152.5" r="1.2" fill="#a6d06a"/><circle cx="139.8" cy="121.3" r="0.8" fill="#a6d06a"/><circle cx="181.0" cy="195.2" r="0.9" fill="#a6d06a"/><circle cx="89.8" cy="166.1" r="1.1" fill="#a6d06a"/><circle cx="134.5" cy="163.6" r="0.9" fill="#a6d06a"/><circle cx="148.5" cy="210.2" r="0.7" fill="#a6d06a"/><circle cx="98.6" cy="147.1" r="0.7" fill="#a6d06a"/><circle cx="159.2" cy="111.5" r="1.0" fill="#a6d06a"/><circle cx="169.3" cy="121.2" r="0.9" fill="#a6d06a"/><circle cx="127.9" cy="164.8" r="0.8" fill="#a6d06a"/><circle cx="149.1" cy="128.0" r="0.9" fill="#a6d06a"/><circle cx="167.8" cy="161.3" r="0.9" fill="#a6d06a"/><circle cx="180.4" cy="173.3" r="0.9" fill="#a6d06a"/><circle cx="202.0" cy="156.0" r="0.9" fill="#a6d06a"/><circle cx="165.7" cy="183.8" r="0.8" fill="#a6d06a"/><circle cx="108.9" cy="207.4" r="1.2" fill="#a6d06a"/><circle cx="132.9" cy="155.6" r="1.0" fill="#a6d06a"/><circle cx="115.8" cy="153.7" r="1.1" fill="#a6d06a"/><circle cx="101.1" cy="150.0" r="0.8" fill="#a6d06a"/><circle cx="114.8" cy="158.3" r="0.8" fill="#a6d06a"/><circle cx="120.3" cy="131.3" r="0.7" fill="#a6d06a"/><circle cx="196.6" cy="151.5" r="1.1" fill="#a6d06a"/><circle cx="149.3" cy="183.0" r="1.1" fill="#a6d06a"/><circle cx="133.2" cy="168.8" r="0.8" fill="#a6d06a"/><circle cx="211.3" cy="158.9" r="1.0" fill="#a6d06a"/><circle cx="179.2" cy="119.6" r="0.9" fill="#a6d06a"/><circle cx="109.6" cy="166.6" r="0.7" fill="#a6d06a"/><circle cx="202.0" cy="179.4" r="1.1" fill="#a6d06a"/><circle cx="206.2" cy="173.5" r="1.0" fill="#a6d06a"/><circle cx="88.1" cy="155.5" r="1.1" fill="#a6d06a"/><circle cx="163.2" cy="160.3" r="0.8" fill="#a6d06a"/><circle cx="140.7" cy="110.7" r="1.2" fill="#a6d06a"/><circle cx="113.4" cy="149.0" r="0.8" fill="#a6d06a"/><circle cx="142.0" cy="175.0" r="1.0" fill="#a6d06a"/><circle cx="162.9" cy="143.6" r="0.8" fill="#a6d06a"/><circle cx="162.3" cy="108.7" r="0.8" fill="#a6d06a"/><circle cx="124.8" cy="141.1" r="1.1" fill="#a6d06a"/><circle cx="206.2" cy="183.6" r="0.9" fill="#a6d06a"/><circle cx="79.3" cy="181.2" r="0.9" fill="#a6d06a"/><circle cx="209.6" cy="157.3" r="0.9" fill="#a6d06a"/><circle cx="191.2" cy="205.0" r="0.9" fill="#a6d06a"/><circle cx="157.6" cy="216.4" r="0.7" fill="#a6d06a"/><circle cx="176.9" cy="213.4" r="0.7" fill="#a6d06a"/><circle cx="144.8" cy="162.1" r="0.8" fill="#a6d06a"/><circle cx="114.7" cy="130.6" r="1.0" fill="#a6d06a"/><circle cx="103.0" cy="146.9" r="0.7" fill="#a6d06a"/><circle cx="151.9" cy="118.8" r="0.9" fill="#a6d06a"/><circle cx="203.8" cy="160.2" r="0.8" fill="#a6d06a"/><circle cx="204.3" cy="129.7" r="0.9" fill="#a6d06a"/><circle cx="209.7" cy="170.2" r="1.0" fill="#a6d06a"/><circle cx="149.9" cy="174.2" r="1.0" fill="#a6d06a"/><circle cx="80.3" cy="189.4" r="0.8" fill="#a6d06a"/><circle cx="201.5" cy="179.7" r="0.8" fill="#a6d06a"/><circle cx="211.4" cy="138.7" r="0.8" fill="#a6d06a"/><circle cx="204.7" cy="171.3" r="0.7" fill="#a6d06a"/><circle cx="140.4" cy="121.0" r="1.1" fill="#a6d06a"/><circle cx="201.5" cy="183.9" r="0.9" fill="#a6d06a"/><circle cx="210.8" cy="150.6" r="0.9" fill="#a6d06a"/><circle cx="178.3" cy="172.4" r="0.8" fill="#a6d06a"/><circle cx="164.3" cy="137.7" r="1.1" fill="#a6d06a"/><circle cx="104.7" cy="204.1" r="0.9" fill="#a6d06a"/><circle cx="202.4" cy="161.3" r="0.9" fill="#a6d06a"/><circle cx="161.0" cy="132.7" r="1.1" fill="#a6d06a"/><circle cx="118.5" cy="178.5" r="1.1" fill="#a6d06a"/><circle cx="185.9" cy="198.7" r="1.0" fill="#a6d06a"/><circle cx="171.4" cy="117.2" r="0.9" fill="#a6d06a"/><circle cx="138.8" cy="112.0" r="0.8" fill="#a6d06a"/><circle cx="182.5" cy="113.1" r="0.9" fill="#a6d06a"/><circle cx="175.2" cy="199.9" r="1.0" fill="#a6d06a"/><circle cx="159.5" cy="214.6" r="1.0" fill="#a6d06a"/><circle cx="133.2" cy="144.7" r="0.8" fill="#a6d06a"/><circle cx="148.6" cy="196.7" r="0.9" fill="#a6d06a"/><circle cx="143.8" cy="171.0" r="1.0" fill="#a6d06a"/><circle cx="122.0" cy="166.0" r="1.0" fill="#a6d06a"/><circle cx="196.9" cy="122.0" r="1.1" fill="#a6d06a"/><circle cx="208.4" cy="156.2" r="0.7" fill="#a6d06a"/><circle cx="81.1" cy="168.8" r="0.7" fill="#a6d06a"/><circle cx="131.6" cy="171.6" r="0.9" fill="#a6d06a"/><circle cx="191.8" cy="115.1" r="1.0" fill="#a6d06a"/><circle cx="92.2" cy="154.9" r="1.1" fill="#a6d06a"/><circle cx="125.4" cy="142.3" r="0.9" fill="#a6d06a"/><circle cx="149.4" cy="126.2" r="1.0" fill="#a6d06a"/><circle cx="114.6" cy="205.1" r="0.9" fill="#a6d06a"/><circle cx="194.0" cy="130.9" r="0.9" fill="#a6d06a"/><circle cx="201.5" cy="150.0" r="1.0" fill="#a6d06a"/><circle cx="193.2" cy="199.8" r="1.1" fill="#a6d06a"/><circle cx="150.4" cy="187.6" r="0.7" fill="#a6d06a"/><circle cx="213.1" cy="150.9" r="0.8" fill="#a6d06a"/><circle cx="137.3" cy="150.7" r="0.9" fill="#a6d06a"/><circle cx="131.9" cy="161.6" r="1.2" fill="#a6d06a"/><circle cx="124.4" cy="144.2" r="1.0" fill="#a6d06a"/><circle cx="88.0" cy="153.1" r="0.7" fill="#a6d06a"/><circle cx="104.9" cy="138.5" r="1.1" fill="#a6d06a"/><circle cx="200.4" cy="149.7" r="0.8" fill="#a6d06a"/><circle cx="116.1" cy="137.6" r="0.9" fill="#a6d06a"/><circle cx="141.0" cy="133.9" r="1.2" fill="#a6d06a"/><circle cx="193.1" cy="157.2" r="0.7" fill="#a6d06a"/><circle cx="166.9" cy="172.7" r="1.0" fill="#a6d06a"/><circle cx="110.7" cy="206.5" r="0.7" fill="#a6d06a"/><circle cx="213.2" cy="144.1" r="0.9" fill="#a6d06a"/><circle cx="93.8" cy="190.6" r="0.7" fill="#a6d06a"/><circle cx="111.0" cy="139.8" r="1.1" fill="#a6d06a"/><circle cx="104.5" cy="177.8" r="1.2" fill="#a6d06a"/><circle cx="130.8" cy="171.7" r="0.7" fill="#a6d06a"/><circle cx="71.8" cy="173.2" r="0.9" fill="#a6d06a"/><circle cx="200.9" cy="156.1" r="1.1" fill="#a6d06a"/><circle cx="161.6" cy="209.1" r="0.8" fill="#a6d06a"/><circle cx="158.3" cy="215.0" r="0.9" fill="#a6d06a"/><circle cx="188.5" cy="194.6" r="1.1" fill="#a6d06a"/><circle cx="194.5" cy="125.0" r="0.7" fill="#a6d06a"/><circle cx="140.3" cy="118.1" r="0.7" fill="#a6d06a"/><circle cx="140.7" cy="156.7" r="1.2" fill="#a6d06a"/><circle cx="178.2" cy="177.6" r="0.9" fill="#a6d06a"/><circle cx="146.8" cy="146.9" r="0.8" fill="#a6d06a"/><circle cx="140.7" cy="177.9" r="0.8" fill="#a6d06a"/><circle cx="157.9" cy="196.9" r="0.7" fill="#a6d06a"/><circle cx="146.5" cy="203.3" r="0.9" fill="#a6d06a"/><circle cx="76.2" cy="180.1" r="0.7" fill="#a6d06a"/><circle cx="185.9" cy="134.1" r="1.1" fill="#a6d06a"/><circle cx="157.2" cy="154.3" r="0.7" fill="#a6d06a"/><circle cx="108.1" cy="189.6" r="0.7" fill="#a6d06a"/><circle cx="129.4" cy="207.2" r="1.0" fill="#a6d06a"/><circle cx="144.1" cy="198.4" r="0.7" fill="#a6d06a"/><circle cx="122.8" cy="175.2" r="0.8" fill="#a6d06a"/><circle cx="109.3" cy="181.2" r="1.0" fill="#a6d06a"/><circle cx="198.9" cy="124.0" r="1.0" fill="#a6d06a"/><circle cx="114.6" cy="149.5" r="1.0" fill="#a6d06a"/><circle cx="111.9" cy="150.2" r="0.7" fill="#a6d06a"/><circle cx="134.8" cy="140.2" r="1.0" fill="#a6d06a"/><circle cx="134.5" cy="189.1" r="0.8" fill="#a6d06a"/><circle cx="147.0" cy="108.8" r="0.8" fill="#a6d06a"/></g>
<path d="M137.3 120.9 L163.1 102.9 L183.7 108.0 L204.3 126.1 L212.1 149.3 L194.0 157.0 L168.2 151.9 L145.1 146.7 Z" fill="#2a4a18" opacity="0.4"/>
<g><path d="M128.9 200.9 Q112.8 172.8 87.2 152.1 L76.8 159.9 Q99.7 182.9 113.1 213.1 Z" fill="#bcdc90"/><path d="M121.0 207.0 Q108.2 176.4 82.0 156.0" stroke="#7fae4a" stroke-width="0.8" fill="none" opacity="0.6"/><path d="M134.8 207.0 Q137.2 171.2 147.4 137.2 L136.6 134.8 Q123.0 168.0 117.2 203.0 Z" fill="#b4d684"/><path d="M126.0 205.0 Q132.2 170.1 142.0 136.0" stroke="#7fae4a" stroke-width="0.8" fill="none" opacity="0.6"/><path d="M138.1 208.5 Q153.3 177.9 176.4 153.4 L167.6 146.6 Q141.8 169.0 123.9 197.5 Z" fill="#c2e09a"/><path d="M131.0 203.0 Q149.3 174.8 172.0 150.0" stroke="#7fae4a" stroke-width="0.8" fill="none" opacity="0.6"/><path d="M163.9 140.7 Q193.9 146.6 221.5 160.1 L226.5 143.9 Q198.5 131.8 168.1 127.3 Z" fill="#c8e4a2"/><path d="M166.0 134.0 Q195.5 141.4 224.0 152.0" stroke="#7fae4a" stroke-width="0.8" fill="none" opacity="0.6"/><path d="M113.8 191.8 Q91.5 181.9 67.1 177.7 L64.9 184.3 Q88.5 190.4 110.2 202.2 Z" fill="#aed27a"/><path d="M112.0 197.0 Q90.4 184.9 66.0 181.0" stroke="#7fae4a" stroke-width="0.8" fill="none" opacity="0.6"/><path d="M133.6 202.7 Q122.4 182.1 107.9 163.7 L100.1 168.3 Q113.0 187.8 122.4 209.3 Z" fill="#cce6a8"/><path d="M128.0 206.0 Q119.1 184.1 104.0 166.0" stroke="#7fae4a" stroke-width="0.8" fill="none" opacity="0.6"/><path d="M129.1 198.1 Q113.4 167.5 103.3 134.8 L96.7 137.2 Q105.0 170.6 118.9 201.9 Z" fill="#bfde94"/><path d="M124.0 200.0 Q110.5 168.6 100.0 136.0" stroke="#7fae4a" stroke-width="0.8" fill="none" opacity="0.6"/></g>
<path d="M183.7 182.8 L204.3 172.5 L227.5 177.6 L240.4 198.2 L240.4 224.0 L224.9 234.3 L204.3 234.3 L186.3 224.0 Z" fill="#3a6a20"/>
<g><circle cx="216.4" cy="175.7" r="1.8" fill="#a8d270"/><circle cx="203.1" cy="229.9" r="2.1" fill="#80b84a"/><circle cx="240.0" cy="211.8" r="1.6" fill="#386420"/><circle cx="198.9" cy="220.7" r="2.5" fill="#4a8028"/><circle cx="204.4" cy="196.8" r="2.1" fill="#80b84a"/><circle cx="208.0" cy="179.4" r="1.7" fill="#386420"/><circle cx="212.9" cy="202.5" r="2.5" fill="#80b84a"/><circle cx="192.3" cy="196.8" r="1.8" fill="#4a8028"/><circle cx="237.9" cy="201.0" r="1.5" fill="#a8d270"/><circle cx="228.8" cy="210.7" r="1.9" fill="#386420"/><circle cx="193.1" cy="206.1" r="2.0" fill="#80b84a"/><circle cx="237.3" cy="209.3" r="1.8" fill="#386420"/><circle cx="200.3" cy="211.5" r="1.5" fill="#386420"/><circle cx="185.1" cy="183.8" r="1.8" fill="#80b84a"/><circle cx="221.9" cy="181.2" r="2.4" fill="#386420"/><circle cx="233.4" cy="189.1" r="1.6" fill="#4a8028"/><circle cx="203.8" cy="199.2" r="1.9" fill="#a8d270"/><circle cx="206.7" cy="214.4" r="1.5" fill="#80b84a"/><circle cx="224.5" cy="183.2" r="2.4" fill="#80b84a"/><circle cx="199.9" cy="177.1" r="2.3" fill="#4a8028"/><circle cx="191.9" cy="193.1" r="2.0" fill="#80b84a"/><circle cx="186.2" cy="196.6" r="2.5" fill="#80b84a"/><circle cx="229.3" cy="197.9" r="2.4" fill="#4a8028"/><circle cx="195.6" cy="200.5" r="2.3" fill="#4a8028"/><circle cx="213.1" cy="178.7" r="1.7" fill="#4a8028"/><circle cx="190.7" cy="195.6" r="2.6" fill="#386420"/><circle cx="197.4" cy="196.8" r="2.3" fill="#4a8028"/><circle cx="218.8" cy="199.2" r="1.7" fill="#4a8028"/><circle cx="205.8" cy="202.4" r="2.0" fill="#4a8028"/><circle cx="222.8" cy="230.5" r="1.6" fill="#80b84a"/><circle cx="217.2" cy="198.2" r="2.4" fill="#80b84a"/><circle cx="204.3" cy="218.7" r="2.3" fill="#4a8028"/><circle cx="199.8" cy="222.3" r="2.0" fill="#a8d270"/><circle cx="193.7" cy="210.0" r="2.5" fill="#80b84a"/><circle cx="213.3" cy="187.4" r="2.5" fill="#4a8028"/><circle cx="199.2" cy="207.3" r="2.5" fill="#4a8028"/><circle cx="232.4" cy="200.5" r="1.5" fill="#80b84a"/><circle cx="232.3" cy="203.0" r="1.7" fill="#80b84a"/><circle cx="206.3" cy="219.7" r="1.7" fill="#386420"/><circle cx="221.8" cy="181.2" r="1.8" fill="#a8d270"/><circle cx="206.7" cy="179.0" r="1.7" fill="#386420"/><circle cx="188.0" cy="202.3" r="1.8" fill="#80b84a"/><circle cx="198.5" cy="184.8" r="2.0" fill="#80b84a"/><circle cx="215.1" cy="228.6" r="1.6" fill="#80b84a"/><circle cx="214.1" cy="203.3" r="1.9" fill="#4a8028"/><circle cx="217.0" cy="233.7" r="1.9" fill="#80b84a"/><circle cx="191.6" cy="187.8" r="2.2" fill="#80b84a"/><circle cx="204.0" cy="224.9" r="1.8" fill="#80b84a"/><circle cx="211.3" cy="214.3" r="2.2" fill="#80b84a"/><circle cx="186.2" cy="195.4" r="2.4" fill="#80b84a"/><circle cx="220.7" cy="192.7" r="2.1" fill="#386420"/><circle cx="229.0" cy="205.5" r="1.8" fill="#4a8028"/><circle cx="230.7" cy="213.1" r="2.5" fill="#4a8028"/><circle cx="218.9" cy="185.9" r="1.5" fill="#386420"/><circle cx="208.0" cy="231.1" r="2.1" fill="#80b84a"/><circle cx="233.0" cy="228.7" r="2.0" fill="#80b84a"/><circle cx="216.1" cy="222.1" r="1.9" fill="#a8d270"/><circle cx="226.3" cy="205.2" r="1.8" fill="#4a8028"/><circle cx="216.8" cy="206.1" r="2.1" fill="#4a8028"/><circle cx="237.6" cy="225.4" r="2.2" fill="#4a8028"/><circle cx="191.4" cy="211.1" r="2.3" fill="#386420"/><circle cx="218.4" cy="220.5" r="1.6" fill="#4a8028"/><circle cx="226.8" cy="227.9" r="2.0" fill="#4a8028"/><circle cx="222.3" cy="197.5" r="2.4" fill="#386420"/><circle cx="217.2" cy="204.7" r="2.1" fill="#80b84a"/><circle cx="227.8" cy="178.8" r="2.0" fill="#386420"/><circle cx="196.0" cy="195.2" r="2.6" fill="#80b84a"/><circle cx="224.3" cy="191.7" r="1.7" fill="#80b84a"/><circle cx="219.3" cy="219.5" r="1.5" fill="#80b84a"/><circle cx="199.5" cy="196.2" r="1.9" fill="#4a8028"/><circle cx="185.9" cy="193.4" r="1.8" fill="#80b84a"/><circle cx="225.9" cy="194.6" r="1.8" fill="#a8d270"/><circle cx="214.5" cy="203.4" r="1.7" fill="#a8d270"/><circle cx="214.6" cy="226.3" r="2.4" fill="#386420"/><circle cx="199.7" cy="223.3" r="1.8" fill="#80b84a"/><circle cx="232.7" cy="214.4" r="2.2" fill="#a8d270"/><circle cx="185.8" cy="204.3" r="1.8" fill="#a8d270"/><circle cx="190.5" cy="198.9" r="2.2" fill="#4a8028"/><circle cx="193.0" cy="227.0" r="2.5" fill="#80b84a"/><circle cx="225.6" cy="191.8" r="1.9" fill="#80b84a"/><circle cx="198.0" cy="219.1" r="2.5" fill="#a8d270"/><circle cx="221.3" cy="193.3" r="2.2" fill="#4a8028"/><circle cx="195.2" cy="181.1" r="2.5" fill="#4a8028"/><circle cx="237.3" cy="214.0" r="2.1" fill="#80b84a"/><circle cx="210.5" cy="226.4" r="2.4" fill="#4a8028"/><circle cx="228.1" cy="227.1" r="1.6" fill="#4a8028"/><circle cx="191.9" cy="197.4" r="2.4" fill="#80b84a"/><circle cx="206.2" cy="225.9" r="2.4" fill="#80b84a"/><circle cx="212.1" cy="205.5" r="2.6" fill="#a8d270"/><circle cx="213.3" cy="207.3" r="1.6" fill="#80b84a"/><circle cx="194.9" cy="178.8" r="2.3" fill="#4a8028"/><circle cx="223.5" cy="208.9" r="2.4" fill="#a8d270"/><circle cx="199.3" cy="188.7" r="1.6" fill="#80b84a"/><circle cx="201.6" cy="211.4" r="2.2" fill="#4a8028"/><circle cx="208.0" cy="219.1" r="2.1" fill="#4a8028"/><circle cx="213.9" cy="231.2" r="2.1" fill="#4a8028"/><circle cx="219.4" cy="195.7" r="1.8" fill="#80b84a"/><circle cx="193.8" cy="218.2" r="2.5" fill="#386420"/><circle cx="238.5" cy="197.1" r="2.2" fill="#a8d270"/><circle cx="208.3" cy="173.5" r="2.3" fill="#386420"/><circle cx="209.7" cy="221.4" r="2.1" fill="#80b84a"/><circle cx="209.5" cy="233.4" r="2.6" fill="#4a8028"/><circle cx="208.5" cy="230.9" r="2.3" fill="#386420"/><circle cx="213.5" cy="208.7" r="2.2" fill="#80b84a"/><circle cx="227.5" cy="210.6" r="2.0" fill="#a8d270"/><circle cx="201.0" cy="174.6" r="1.9" fill="#4a8028"/><circle cx="210.1" cy="199.3" r="1.5" fill="#4a8028"/><circle cx="218.0" cy="178.5" r="1.9" fill="#4a8028"/><circle cx="196.4" cy="219.9" r="2.4" fill="#a8d270"/><circle cx="209.5" cy="205.4" r="2.5" fill="#4a8028"/><circle cx="214.7" cy="200.1" r="2.0" fill="#a8d270"/><circle cx="223.0" cy="189.0" r="2.4" fill="#386420"/><circle cx="221.7" cy="186.5" r="2.5" fill="#4a8028"/><circle cx="196.3" cy="187.2" r="2.2" fill="#386420"/><circle cx="218.3" cy="184.8" r="2.6" fill="#80b84a"/><circle cx="200.2" cy="211.6" r="2.3" fill="#a8d270"/><circle cx="211.9" cy="225.0" r="1.7" fill="#386420"/><circle cx="199.5" cy="226.0" r="1.7" fill="#4a8028"/><circle cx="219.6" cy="187.1" r="2.2" fill="#80b84a"/><circle cx="220.1" cy="206.7" r="2.2" fill="#4a8028"/><circle cx="232.2" cy="190.9" r="1.7" fill="#4a8028"/><circle cx="222.8" cy="231.4" r="1.8" fill="#80b84a"/><circle cx="222.4" cy="205.8" r="1.8" fill="#386420"/><circle cx="233.4" cy="195.1" r="2.3" fill="#80b84a"/><circle cx="226.8" cy="210.1" r="2.2" fill="#386420"/><circle cx="237.3" cy="203.6" r="1.9" fill="#4a8028"/><circle cx="214.4" cy="214.9" r="1.6" fill="#a8d270"/><circle cx="236.4" cy="192.7" r="1.7" fill="#386420"/><circle cx="204.9" cy="221.5" r="1.7" fill="#80b84a"/><circle cx="214.1" cy="219.6" r="2.5" fill="#80b84a"/><circle cx="190.3" cy="222.6" r="1.5" fill="#80b84a"/><circle cx="196.5" cy="176.5" r="1.9" fill="#4a8028"/><circle cx="221.6" cy="204.8" r="1.6" fill="#386420"/><circle cx="188.9" cy="205.1" r="2.1" fill="#80b84a"/><circle cx="234.1" cy="212.6" r="1.7" fill="#80b84a"/><circle cx="224.9" cy="226.8" r="1.6" fill="#4a8028"/><circle cx="221.8" cy="186.5" r="1.8" fill="#80b84a"/><circle cx="234.7" cy="209.0" r="1.7" fill="#a8d270"/><circle cx="229.1" cy="209.0" r="1.8" fill="#386420"/><circle cx="194.2" cy="197.9" r="2.3" fill="#a8d270"/><circle cx="214.7" cy="212.7" r="2.3" fill="#4a8028"/><circle cx="202.3" cy="182.6" r="2.1" fill="#4a8028"/><circle cx="228.1" cy="195.6" r="2.0" fill="#a8d270"/></g><g opacity="0.8"><circle cx="215.7" cy="175.0" r="0.8" fill="#b0d678"/><circle cx="202.4" cy="229.2" r="1.0" fill="#b0d678"/><circle cx="239.3" cy="211.1" r="0.7" fill="#b0d678"/><circle cx="203.7" cy="196.1" r="1.0" fill="#b0d678"/><circle cx="212.2" cy="201.8" r="1.1" fill="#b0d678"/><circle cx="191.6" cy="196.1" r="0.8" fill="#b0d678"/><circle cx="237.2" cy="200.3" r="0.7" fill="#b0d678"/><circle cx="236.6" cy="208.6" r="0.8" fill="#b0d678"/><circle cx="199.6" cy="210.8" r="0.7" fill="#b0d678"/><circle cx="184.4" cy="183.1" r="0.8" fill="#b0d678"/><circle cx="232.7" cy="188.4" r="0.7" fill="#b0d678"/><circle cx="203.1" cy="198.5" r="0.9" fill="#b0d678"/><circle cx="206.0" cy="213.7" r="0.7" fill="#b0d678"/><circle cx="191.2" cy="192.4" r="0.9" fill="#b0d678"/><circle cx="185.5" cy="195.9" r="1.1" fill="#b0d678"/><circle cx="228.6" cy="197.2" r="1.1" fill="#b0d678"/><circle cx="194.9" cy="199.8" r="1.0" fill="#b0d678"/><circle cx="212.4" cy="178.0" r="0.8" fill="#b0d678"/><circle cx="190.0" cy="194.9" r="1.2" fill="#b0d678"/><circle cx="196.7" cy="196.1" r="1.0" fill="#b0d678"/><circle cx="218.1" cy="198.5" r="0.7" fill="#b0d678"/><circle cx="205.1" cy="201.7" r="0.9" fill="#b0d678"/><circle cx="216.5" cy="197.5" r="1.1" fill="#b0d678"/><circle cx="203.6" cy="218.0" r="1.0" fill="#b0d678"/><circle cx="212.6" cy="186.7" r="1.1" fill="#b0d678"/><circle cx="231.6" cy="202.3" r="0.8" fill="#b0d678"/><circle cx="221.1" cy="180.5" r="0.8" fill="#b0d678"/><circle cx="206.0" cy="178.3" r="0.8" fill="#b0d678"/><circle cx="197.8" cy="184.1" r="0.9" fill="#b0d678"/><circle cx="214.4" cy="227.9" r="0.7" fill="#b0d678"/><circle cx="213.4" cy="202.6" r="0.9" fill="#b0d678"/><circle cx="216.3" cy="233.0" r="0.8" fill="#b0d678"/><circle cx="190.9" cy="187.1" r="1.0" fill="#b0d678"/><circle cx="203.3" cy="224.2" r="0.8" fill="#b0d678"/><circle cx="185.5" cy="194.7" r="1.1" fill="#b0d678"/><circle cx="228.3" cy="204.8" r="0.8" fill="#b0d678"/><circle cx="230.0" cy="212.4" r="1.1" fill="#b0d678"/><circle cx="218.2" cy="185.2" r="0.7" fill="#b0d678"/><circle cx="207.3" cy="230.4" r="0.9" fill="#b0d678"/><circle cx="232.3" cy="228.0" r="0.9" fill="#b0d678"/><circle cx="215.4" cy="221.4" r="0.8" fill="#b0d678"/><circle cx="225.6" cy="204.5" r="0.8" fill="#b0d678"/><circle cx="216.1" cy="205.4" r="0.9" fill="#b0d678"/><circle cx="236.9" cy="224.7" r="1.0" fill="#b0d678"/><circle cx="217.7" cy="219.8" r="0.7" fill="#b0d678"/><circle cx="221.6" cy="196.8" r="1.1" fill="#b0d678"/><circle cx="218.6" cy="218.8" r="0.7" fill="#b0d678"/><circle cx="225.2" cy="193.9" r="0.8" fill="#b0d678"/><circle cx="213.9" cy="225.6" r="1.1" fill="#b0d678"/><circle cx="199.0" cy="222.6" r="0.8" fill="#b0d678"/><circle cx="236.6" cy="213.3" r="1.0" fill="#b0d678"/><circle cx="209.8" cy="225.7" r="1.1" fill="#b0d678"/><circle cx="211.4" cy="204.8" r="1.1" fill="#b0d678"/><circle cx="194.2" cy="178.1" r="1.0" fill="#b0d678"/><circle cx="222.8" cy="208.2" r="1.1" fill="#b0d678"/><circle cx="207.3" cy="218.4" r="0.9" fill="#b0d678"/><circle cx="213.2" cy="230.5" r="0.9" fill="#b0d678"/><circle cx="218.7" cy="195.0" r="0.8" fill="#b0d678"/><circle cx="193.1" cy="217.5" r="1.1" fill="#b0d678"/><circle cx="207.6" cy="172.8" r="1.0" fill="#b0d678"/><circle cx="209.0" cy="220.7" r="0.9" fill="#b0d678"/><circle cx="207.8" cy="230.2" r="1.0" fill="#b0d678"/><circle cx="212.8" cy="208.0" r="1.0" fill="#b0d678"/><circle cx="200.3" cy="173.9" r="0.9" fill="#b0d678"/><circle cx="209.4" cy="198.6" r="0.7" fill="#b0d678"/><circle cx="217.3" cy="177.8" r="0.8" fill="#b0d678"/><circle cx="208.8" cy="204.7" r="1.1" fill="#b0d678"/><circle cx="214.0" cy="199.4" r="0.9" fill="#b0d678"/><circle cx="222.3" cy="188.3" r="1.1" fill="#b0d678"/><circle cx="195.6" cy="186.5" r="1.0" fill="#b0d678"/><circle cx="217.6" cy="184.1" r="1.2" fill="#b0d678"/><circle cx="211.2" cy="224.3" r="0.7" fill="#b0d678"/><circle cx="198.8" cy="225.3" r="0.8" fill="#b0d678"/><circle cx="221.7" cy="205.1" r="0.8" fill="#b0d678"/><circle cx="232.7" cy="194.4" r="1.0" fill="#b0d678"/><circle cx="226.1" cy="209.4" r="1.0" fill="#b0d678"/><circle cx="235.7" cy="192.0" r="0.8" fill="#b0d678"/><circle cx="189.6" cy="221.9" r="0.7" fill="#b0d678"/><circle cx="195.8" cy="175.8" r="0.9" fill="#b0d678"/><circle cx="220.9" cy="204.1" r="0.7" fill="#b0d678"/><circle cx="188.2" cy="204.4" r="0.9" fill="#b0d678"/><circle cx="221.1" cy="185.8" r="0.8" fill="#b0d678"/><circle cx="234.0" cy="208.3" r="0.8" fill="#b0d678"/><circle cx="193.5" cy="197.2" r="1.0" fill="#b0d678"/><circle cx="201.6" cy="181.9" r="1.0" fill="#b0d678"/></g>
<path d="M193.1 229.1 Q208.6 207.0 219.0 181.8 L213.0 178.2 Q200.5 202.1 182.9 222.9 Z" fill="#b4d67e"/><path d="M188.0 226.0 Q205.8 205.3 216.0 180.0" stroke="#7fae4a" stroke-width="0.8" fill="none" opacity="0.6"/>
<path d="M194.5 221.8 Q191.2 206.0 192.0 189.9 L188.0 190.1 Q186.8 206.3 189.5 222.2 Z" fill="#a6cd6c"/><path d="M192.0 222.0 Q189.7 206.1 190.0 190.0" stroke="#7fae4a" stroke-width="0.8" fill="none" opacity="0.6"/>
<path d="M124.4 224.0 L145.1 216.3 L178.6 218.9 L204.3 229.2 L212.1 244.6 L212.1 270.4 L194.0 285.9 L163.1 288.5 L137.3 275.6 L124.4 244.6 Z" fill="#1c3210"/>
<g><circle cx="150.2" cy="227.6" r="2.0" fill="#20380f"/><circle cx="188.7" cy="264.7" r="2.1" fill="#20380f"/><circle cx="137.9" cy="245.4" r="2.1" fill="#6b9440"/><circle cx="167.7" cy="265.3" r="2.5" fill="#4a7128"/><circle cx="189.7" cy="237.5" r="1.6" fill="#16280a"/><circle cx="172.2" cy="250.4" r="1.7" fill="#16280a"/><circle cx="199.5" cy="268.0" r="2.4" fill="#20380f"/><circle cx="159.4" cy="241.5" r="2.4" fill="#20380f"/><circle cx="186.4" cy="283.9" r="1.6" fill="#355b1e"/><circle cx="172.6" cy="241.5" r="2.1" fill="#4a7128"/><circle cx="187.3" cy="228.8" r="1.6" fill="#4a7128"/><circle cx="150.6" cy="262.0" r="2.2" fill="#355b1e"/><circle cx="193.4" cy="262.3" r="1.9" fill="#355b1e"/><circle cx="147.9" cy="272.0" r="1.6" fill="#355b1e"/><circle cx="152.5" cy="242.5" r="2.1" fill="#355b1e"/><circle cx="206.9" cy="245.6" r="1.8" fill="#355b1e"/><circle cx="156.0" cy="276.0" r="1.8" fill="#16280a"/><circle cx="139.3" cy="258.7" r="2.0" fill="#355b1e"/><circle cx="190.7" cy="269.1" r="2.5" fill="#20380f"/><circle cx="176.3" cy="232.1" r="1.8" fill="#4a7128"/><circle cx="203.2" cy="263.7" r="2.5" fill="#4a7128"/><circle cx="139.6" cy="268.8" r="2.4" fill="#20380f"/><circle cx="190.8" cy="282.3" r="2.5" fill="#20380f"/><circle cx="198.1" cy="273.7" r="2.4" fill="#6b9440"/><circle cx="208.5" cy="243.7" r="2.4" fill="#4a7128"/><circle cx="182.3" cy="237.0" r="2.0" fill="#4a7128"/><circle cx="164.8" cy="281.2" r="1.6" fill="#6b9440"/><circle cx="172.3" cy="220.3" r="2.4" fill="#355b1e"/><circle cx="139.2" cy="252.1" r="1.6" fill="#20380f"/><circle cx="195.0" cy="271.0" r="2.4" fill="#4a7128"/><circle cx="153.2" cy="257.5" r="1.7" fill="#4a7128"/><circle cx="160.1" cy="230.4" r="2.6" fill="#355b1e"/><circle cx="180.9" cy="268.4" r="1.7" fill="#20380f"/><circle cx="125.3" cy="244.1" r="2.1" fill="#16280a"/><circle cx="170.3" cy="259.3" r="2.4" fill="#20380f"/><circle cx="128.6" cy="225.8" r="2.4" fill="#4a7128"/><circle cx="141.6" cy="276.8" r="2.0" fill="#20380f"/><circle cx="159.3" cy="233.3" r="1.7" fill="#20380f"/><circle cx="151.2" cy="219.0" r="2.3" fill="#20380f"/><circle cx="168.7" cy="231.3" r="2.5" fill="#4a7128"/><circle cx="146.8" cy="266.8" r="2.1" fill="#355b1e"/><circle cx="145.9" cy="216.6" r="1.8" fill="#20380f"/><circle cx="176.7" cy="234.9" r="2.1" fill="#355b1e"/><circle cx="139.3" cy="240.5" r="2.1" fill="#355b1e"/><circle cx="164.7" cy="243.2" r="2.1" fill="#355b1e"/><circle cx="170.6" cy="237.8" r="2.3" fill="#355b1e"/><circle cx="191.9" cy="272.0" r="2.1" fill="#355b1e"/><circle cx="154.3" cy="271.8" r="2.0" fill="#6b9440"/><circle cx="148.1" cy="263.0" r="2.2" fill="#6b9440"/><circle cx="177.3" cy="245.3" r="2.4" fill="#4a7128"/><circle cx="200.1" cy="260.2" r="1.9" fill="#4a7128"/><circle cx="185.2" cy="286.4" r="1.9" fill="#355b1e"/><circle cx="169.2" cy="222.7" r="2.0" fill="#4a7128"/><circle cx="203.5" cy="236.4" r="2.3" fill="#4a7128"/><circle cx="178.3" cy="250.5" r="2.5" fill="#355b1e"/><circle cx="153.0" cy="276.1" r="1.6" fill="#6b9440"/><circle cx="173.4" cy="219.5" r="2.0" fill="#6b9440"/><circle cx="156.9" cy="227.5" r="2.5" fill="#6b9440"/><circle cx="133.3" cy="241.5" r="2.2" fill="#4a7128"/><circle cx="132.9" cy="257.7" r="2.1" fill="#16280a"/><circle cx="146.3" cy="264.0" r="2.2" fill="#355b1e"/><circle cx="174.1" cy="269.1" r="1.9" fill="#355b1e"/><circle cx="164.8" cy="264.5" r="2.1" fill="#355b1e"/><circle cx="159.3" cy="273.5" r="1.5" fill="#4a7128"/><circle cx="195.6" cy="235.0" r="2.6" fill="#6b9440"/><circle cx="179.5" cy="260.6" r="1.7" fill="#4a7128"/><circle cx="161.0" cy="278.0" r="1.9" fill="#4a7128"/><circle cx="165.7" cy="246.0" r="1.7" fill="#20380f"/><circle cx="176.6" cy="270.7" r="2.6" fill="#20380f"/><circle cx="133.7" cy="251.3" r="1.8" fill="#355b1e"/><circle cx="204.8" cy="264.1" r="1.5" fill="#20380f"/><circle cx="178.7" cy="274.8" r="1.7" fill="#4a7128"/><circle cx="127.7" cy="234.6" r="1.6" fill="#4a7128"/><circle cx="153.9" cy="267.8" r="2.0" fill="#20380f"/><circle cx="132.7" cy="224.5" r="1.9" fill="#4a7128"/><circle cx="189.9" cy="232.5" r="1.8" fill="#355b1e"/><circle cx="196.6" cy="250.4" r="2.3" fill="#20380f"/><circle cx="202.5" cy="267.7" r="1.6" fill="#355b1e"/><circle cx="146.5" cy="262.5" r="2.5" fill="#4a7128"/><circle cx="160.6" cy="259.8" r="2.3" fill="#4a7128"/><circle cx="160.2" cy="258.8" r="2.4" fill="#20380f"/><circle cx="185.8" cy="221.9" r="1.8" fill="#4a7128"/><circle cx="166.9" cy="244.5" r="2.6" fill="#16280a"/><circle cx="128.3" cy="241.8" r="2.3" fill="#6b9440"/><circle cx="208.0" cy="272.0" r="1.6" fill="#20380f"/><circle cx="160.2" cy="241.5" r="2.2" fill="#4a7128"/><circle cx="159.1" cy="245.1" r="1.7" fill="#16280a"/><circle cx="164.3" cy="279.0" r="2.4" fill="#4a7128"/><circle cx="150.3" cy="234.5" r="1.7" fill="#16280a"/><circle cx="128.8" cy="233.6" r="2.6" fill="#20380f"/><circle cx="169.6" cy="287.0" r="2.3" fill="#20380f"/><circle cx="170.9" cy="236.2" r="1.6" fill="#355b1e"/><circle cx="182.8" cy="280.3" r="2.0" fill="#20380f"/><circle cx="190.4" cy="231.8" r="2.0" fill="#355b1e"/><circle cx="138.8" cy="276.0" r="1.8" fill="#4a7128"/><circle cx="159.5" cy="222.4" r="1.6" fill="#355b1e"/><circle cx="159.4" cy="279.5" r="2.5" fill="#355b1e"/><circle cx="176.3" cy="285.5" r="2.3" fill="#20380f"/><circle cx="192.3" cy="246.4" r="2.3" fill="#355b1e"/><circle cx="202.6" cy="248.7" r="1.9" fill="#20380f"/><circle cx="157.7" cy="260.8" r="1.6" fill="#20380f"/><circle cx="165.4" cy="230.1" r="1.5" fill="#355b1e"/><circle cx="163.2" cy="238.9" r="1.6" fill="#20380f"/><circle cx="151.5" cy="268.5" r="2.3" fill="#16280a"/><circle cx="167.2" cy="227.0" r="2.2" fill="#355b1e"/><circle cx="125.8" cy="234.4" r="2.3" fill="#20380f"/><circle cx="190.6" cy="248.6" r="2.6" fill="#4a7128"/><circle cx="201.0" cy="228.9" r="1.5" fill="#4a7128"/><circle cx="209.9" cy="265.4" r="1.7" fill="#4a7128"/><circle cx="165.6" cy="222.4" r="1.7" fill="#4a7128"/><circle cx="156.5" cy="226.0" r="1.7" fill="#4a7128"/><circle cx="130.1" cy="227.2" r="2.5" fill="#355b1e"/><circle cx="133.4" cy="254.5" r="2.1" fill="#4a7128"/><circle cx="198.5" cy="247.6" r="2.1" fill="#20380f"/><circle cx="159.8" cy="242.0" r="1.7" fill="#6b9440"/><circle cx="147.4" cy="247.3" r="2.2" fill="#355b1e"/><circle cx="208.3" cy="260.0" r="2.6" fill="#20380f"/><circle cx="201.9" cy="234.5" r="2.0" fill="#355b1e"/><circle cx="142.1" cy="253.9" r="2.5" fill="#4a7128"/><circle cx="161.0" cy="272.8" r="1.8" fill="#4a7128"/><circle cx="202.8" cy="246.8" r="1.8" fill="#355b1e"/><circle cx="171.3" cy="224.5" r="2.0" fill="#355b1e"/><circle cx="137.2" cy="234.4" r="1.5" fill="#355b1e"/><circle cx="154.1" cy="252.7" r="1.9" fill="#4a7128"/><circle cx="139.4" cy="232.1" r="2.2" fill="#355b1e"/><circle cx="171.0" cy="260.2" r="1.7" fill="#20380f"/><circle cx="175.7" cy="244.8" r="1.7" fill="#4a7128"/><circle cx="125.4" cy="242.6" r="2.0" fill="#4a7128"/><circle cx="173.8" cy="248.0" r="1.8" fill="#4a7128"/><circle cx="129.8" cy="236.2" r="2.5" fill="#355b1e"/><circle cx="198.7" cy="243.0" r="2.6" fill="#4a7128"/><circle cx="137.8" cy="243.6" r="2.4" fill="#20380f"/><circle cx="138.2" cy="259.1" r="2.3" fill="#4a7128"/><circle cx="197.7" cy="279.1" r="2.2" fill="#355b1e"/><circle cx="140.2" cy="236.5" r="1.9" fill="#4a7128"/><circle cx="154.3" cy="275.7" r="1.5" fill="#355b1e"/><circle cx="183.7" cy="270.3" r="1.6" fill="#4a7128"/><circle cx="167.4" cy="287.8" r="2.1" fill="#6b9440"/><circle cx="190.9" cy="263.6" r="1.5" fill="#20380f"/><circle cx="203.8" cy="271.3" r="1.6" fill="#20380f"/><circle cx="163.7" cy="284.7" r="2.2" fill="#355b1e"/><circle cx="136.3" cy="249.4" r="1.8" fill="#355b1e"/><circle cx="142.8" cy="233.2" r="2.3" fill="#355b1e"/><circle cx="174.4" cy="241.6" r="1.5" fill="#355b1e"/><circle cx="182.6" cy="239.5" r="1.8" fill="#4a7128"/><circle cx="182.8" cy="229.0" r="2.1" fill="#355b1e"/><circle cx="186.2" cy="223.2" r="2.0" fill="#355b1e"/><circle cx="169.8" cy="237.8" r="2.2" fill="#20380f"/><circle cx="200.5" cy="233.9" r="1.8" fill="#355b1e"/><circle cx="144.7" cy="233.4" r="2.6" fill="#20380f"/><circle cx="146.3" cy="274.8" r="2.1" fill="#355b1e"/><circle cx="192.7" cy="244.5" r="2.0" fill="#20380f"/><circle cx="154.6" cy="266.3" r="2.3" fill="#20380f"/><circle cx="126.2" cy="230.0" r="2.4" fill="#20380f"/><circle cx="185.7" cy="223.3" r="2.5" fill="#20380f"/><circle cx="139.9" cy="260.4" r="2.1" fill="#355b1e"/><circle cx="194.6" cy="243.4" r="1.6" fill="#355b1e"/><circle cx="148.0" cy="223.4" r="1.6" fill="#355b1e"/><circle cx="157.4" cy="223.7" r="1.7" fill="#20380f"/><circle cx="134.4" cy="242.5" r="2.1" fill="#355b1e"/><circle cx="203.8" cy="260.6" r="1.6" fill="#16280a"/><circle cx="207.4" cy="265.4" r="1.8" fill="#16280a"/><circle cx="183.8" cy="227.8" r="1.9" fill="#355b1e"/><circle cx="138.0" cy="223.1" r="1.7" fill="#355b1e"/><circle cx="189.0" cy="283.6" r="1.8" fill="#4a7128"/><circle cx="162.6" cy="237.2" r="2.0" fill="#355b1e"/><circle cx="192.6" cy="260.5" r="2.5" fill="#16280a"/><circle cx="192.1" cy="282.2" r="2.5" fill="#20380f"/><circle cx="140.8" cy="270.2" r="2.1" fill="#6b9440"/><circle cx="184.1" cy="258.6" r="2.6" fill="#6b9440"/><circle cx="172.5" cy="266.1" r="1.7" fill="#20380f"/><circle cx="157.1" cy="272.6" r="2.4" fill="#4a7128"/><circle cx="152.1" cy="279.6" r="2.5" fill="#20380f"/><circle cx="152.9" cy="275.6" r="2.1" fill="#16280a"/><circle cx="190.6" cy="268.7" r="2.2" fill="#20380f"/><circle cx="147.6" cy="270.6" r="1.7" fill="#6b9440"/><circle cx="174.9" cy="250.1" r="2.2" fill="#355b1e"/><circle cx="199.8" cy="263.1" r="2.4" fill="#355b1e"/><circle cx="185.1" cy="245.2" r="2.5" fill="#20380f"/><circle cx="187.7" cy="268.8" r="2.3" fill="#20380f"/><circle cx="152.6" cy="240.5" r="2.0" fill="#20380f"/><circle cx="196.8" cy="251.0" r="2.1" fill="#16280a"/><circle cx="159.0" cy="275.9" r="1.7" fill="#4a7128"/><circle cx="184.0" cy="254.4" r="1.7" fill="#20380f"/><circle cx="200.3" cy="273.1" r="2.3" fill="#6b9440"/><circle cx="179.8" cy="276.1" r="2.0" fill="#4a7128"/><circle cx="178.8" cy="254.4" r="2.2" fill="#355b1e"/><circle cx="136.7" cy="269.5" r="2.0" fill="#16280a"/><circle cx="198.3" cy="256.5" r="1.9" fill="#6b9440"/><circle cx="167.4" cy="249.6" r="1.6" fill="#20380f"/><circle cx="143.0" cy="254.1" r="2.0" fill="#355b1e"/><circle cx="137.5" cy="260.4" r="2.5" fill="#355b1e"/><circle cx="155.8" cy="284.1" r="1.9" fill="#355b1e"/><circle cx="161.4" cy="276.6" r="1.9" fill="#16280a"/><circle cx="203.3" cy="245.7" r="1.8" fill="#20380f"/><circle cx="142.7" cy="256.9" r="2.0" fill="#20380f"/><circle cx="131.1" cy="258.0" r="2.0" fill="#20380f"/><circle cx="172.3" cy="287.2" r="2.5" fill="#355b1e"/><circle cx="200.7" cy="253.7" r="1.8" fill="#20380f"/><circle cx="130.6" cy="248.0" r="2.3" fill="#4a7128"/><circle cx="141.9" cy="226.2" r="2.1" fill="#20380f"/><circle cx="189.7" cy="270.9" r="1.8" fill="#355b1e"/><circle cx="199.8" cy="280.4" r="2.3" fill="#4a7128"/><circle cx="144.9" cy="237.8" r="2.3" fill="#4a7128"/><circle cx="170.6" cy="275.8" r="2.2" fill="#20380f"/><circle cx="189.5" cy="258.4" r="1.7" fill="#355b1e"/><circle cx="157.6" cy="243.7" r="1.8" fill="#355b1e"/><circle cx="151.6" cy="264.9" r="1.5" fill="#355b1e"/><circle cx="125.1" cy="245.5" r="1.8" fill="#355b1e"/><circle cx="188.5" cy="249.6" r="2.5" fill="#355b1e"/><circle cx="147.2" cy="223.8" r="2.4" fill="#355b1e"/><circle cx="191.8" cy="245.3" r="2.3" fill="#16280a"/><circle cx="137.2" cy="231.6" r="1.7" fill="#4a7128"/><circle cx="172.7" cy="286.6" r="2.1" fill="#355b1e"/><circle cx="202.1" cy="230.2" r="2.5" fill="#20380f"/><circle cx="152.7" cy="228.2" r="1.8" fill="#355b1e"/><circle cx="181.0" cy="248.0" r="1.9" fill="#355b1e"/><circle cx="159.8" cy="236.4" r="2.1" fill="#355b1e"/><circle cx="172.9" cy="228.8" r="2.4" fill="#4a7128"/><circle cx="145.5" cy="225.4" r="1.8" fill="#355b1e"/><circle cx="162.0" cy="282.7" r="2.1" fill="#6b9440"/><circle cx="188.1" cy="242.1" r="2.2" fill="#16280a"/><circle cx="163.9" cy="221.0" r="2.0" fill="#20380f"/><circle cx="163.0" cy="265.9" r="2.3" fill="#16280a"/><circle cx="153.8" cy="237.8" r="1.6" fill="#355b1e"/><circle cx="152.7" cy="240.8" r="1.7" fill="#6b9440"/><circle cx="143.5" cy="217.4" r="1.8" fill="#355b1e"/><circle cx="176.3" cy="232.8" r="2.4" fill="#20380f"/><circle cx="200.8" cy="235.2" r="2.0" fill="#355b1e"/><circle cx="149.4" cy="252.4" r="2.1" fill="#20380f"/><circle cx="210.9" cy="243.3" r="2.1" fill="#20380f"/><circle cx="202.4" cy="262.7" r="1.8" fill="#20380f"/><circle cx="187.5" cy="256.0" r="2.4" fill="#355b1e"/><circle cx="159.9" cy="228.2" r="1.9" fill="#20380f"/><circle cx="143.2" cy="219.1" r="2.0" fill="#355b1e"/><circle cx="158.1" cy="241.3" r="1.8" fill="#4a7128"/><circle cx="177.2" cy="231.6" r="2.3" fill="#355b1e"/><circle cx="133.7" cy="265.3" r="1.6" fill="#20380f"/><circle cx="207.7" cy="263.3" r="1.8" fill="#20380f"/><circle cx="184.8" cy="241.3" r="2.1" fill="#6b9440"/></g><g opacity="0.8"><circle cx="149.5" cy="226.9" r="0.9" fill="#6a9642"/><circle cx="188.0" cy="264.0" r="1.0" fill="#6a9642"/><circle cx="137.2" cy="244.7" r="1.0" fill="#6a9642"/><circle cx="189.0" cy="236.8" r="0.7" fill="#6a9642"/><circle cx="171.5" cy="249.7" r="0.8" fill="#6a9642"/><circle cx="198.8" cy="267.3" r="1.1" fill="#6a9642"/><circle cx="171.9" cy="240.8" r="0.9" fill="#6a9642"/><circle cx="186.6" cy="228.1" r="0.7" fill="#6a9642"/><circle cx="149.9" cy="261.3" r="1.0" fill="#6a9642"/><circle cx="192.7" cy="261.6" r="0.8" fill="#6a9642"/><circle cx="147.2" cy="271.3" r="0.7" fill="#6a9642"/><circle cx="151.8" cy="241.8" r="0.9" fill="#6a9642"/><circle cx="206.2" cy="244.9" r="0.8" fill="#6a9642"/><circle cx="155.3" cy="275.3" r="0.8" fill="#6a9642"/><circle cx="138.9" cy="268.1" r="1.1" fill="#6a9642"/><circle cx="197.4" cy="273.0" r="1.1" fill="#6a9642"/><circle cx="207.8" cy="243.0" r="1.1" fill="#6a9642"/><circle cx="171.6" cy="219.6" r="1.1" fill="#6a9642"/><circle cx="138.5" cy="251.4" r="0.7" fill="#6a9642"/><circle cx="159.4" cy="229.7" r="1.2" fill="#6a9642"/><circle cx="169.6" cy="258.6" r="1.1" fill="#6a9642"/><circle cx="146.1" cy="266.1" r="0.9" fill="#6a9642"/><circle cx="145.2" cy="215.9" r="0.8" fill="#6a9642"/><circle cx="164.0" cy="242.5" r="0.9" fill="#6a9642"/><circle cx="169.9" cy="237.1" r="1.0" fill="#6a9642"/><circle cx="153.6" cy="271.1" r="0.9" fill="#6a9642"/><circle cx="184.5" cy="285.7" r="0.9" fill="#6a9642"/><circle cx="202.8" cy="235.7" r="1.0" fill="#6a9642"/><circle cx="177.6" cy="249.8" r="1.1" fill="#6a9642"/><circle cx="152.3" cy="275.4" r="0.7" fill="#6a9642"/><circle cx="172.7" cy="218.8" r="0.9" fill="#6a9642"/><circle cx="132.6" cy="240.8" r="1.0" fill="#6a9642"/><circle cx="132.2" cy="257.0" r="0.9" fill="#6a9642"/><circle cx="145.6" cy="263.3" r="1.0" fill="#6a9642"/><circle cx="173.4" cy="268.4" r="0.9" fill="#6a9642"/><circle cx="164.1" cy="263.8" r="0.9" fill="#6a9642"/><circle cx="158.6" cy="272.8" r="0.7" fill="#6a9642"/><circle cx="194.9" cy="234.3" r="1.1" fill="#6a9642"/><circle cx="165.0" cy="245.3" r="0.8" fill="#6a9642"/><circle cx="204.1" cy="263.4" r="0.7" fill="#6a9642"/><circle cx="178.0" cy="274.1" r="0.8" fill="#6a9642"/><circle cx="127.0" cy="233.9" r="0.7" fill="#6a9642"/><circle cx="153.2" cy="267.1" r="0.9" fill="#6a9642"/><circle cx="132.0" cy="223.8" r="0.8" fill="#6a9642"/><circle cx="201.8" cy="267.0" r="0.7" fill="#6a9642"/><circle cx="145.8" cy="261.8" r="1.1" fill="#6a9642"/><circle cx="159.9" cy="259.1" r="1.0" fill="#6a9642"/><circle cx="159.5" cy="258.1" r="1.1" fill="#6a9642"/><circle cx="185.1" cy="221.2" r="0.8" fill="#6a9642"/><circle cx="127.6" cy="241.1" r="1.1" fill="#6a9642"/><circle cx="159.5" cy="240.8" r="1.0" fill="#6a9642"/><circle cx="158.4" cy="244.4" r="0.7" fill="#6a9642"/><circle cx="163.6" cy="278.3" r="1.1" fill="#6a9642"/><circle cx="170.2" cy="235.5" r="0.7" fill="#6a9642"/><circle cx="158.7" cy="278.8" r="1.1" fill="#6a9642"/><circle cx="175.6" cy="284.8" r="1.1" fill="#6a9642"/><circle cx="191.6" cy="245.7" r="1.0" fill="#6a9642"/><circle cx="164.7" cy="229.4" r="0.7" fill="#6a9642"/><circle cx="162.5" cy="238.2" r="0.7" fill="#6a9642"/><circle cx="150.8" cy="267.8" r="1.1" fill="#6a9642"/><circle cx="166.5" cy="226.3" r="1.0" fill="#6a9642"/><circle cx="125.1" cy="233.7" r="1.0" fill="#6a9642"/><circle cx="164.9" cy="221.7" r="0.8" fill="#6a9642"/><circle cx="132.7" cy="253.8" r="0.9" fill="#6a9642"/><circle cx="197.8" cy="246.9" r="0.9" fill="#6a9642"/><circle cx="159.1" cy="241.3" r="0.8" fill="#6a9642"/><circle cx="146.7" cy="246.6" r="1.0" fill="#6a9642"/><circle cx="160.3" cy="272.1" r="0.8" fill="#6a9642"/><circle cx="136.5" cy="233.7" r="0.7" fill="#6a9642"/><circle cx="153.4" cy="252.0" r="0.8" fill="#6a9642"/><circle cx="138.7" cy="231.4" r="1.0" fill="#6a9642"/><circle cx="175.0" cy="244.1" r="0.7" fill="#6a9642"/><circle cx="139.5" cy="235.8" r="0.8" fill="#6a9642"/><circle cx="183.0" cy="269.6" r="0.7" fill="#6a9642"/><circle cx="166.7" cy="287.1" r="1.0" fill="#6a9642"/><circle cx="203.1" cy="270.6" r="0.7" fill="#6a9642"/><circle cx="163.0" cy="284.0" r="1.0" fill="#6a9642"/><circle cx="142.1" cy="232.5" r="1.0" fill="#6a9642"/><circle cx="181.9" cy="238.8" r="0.8" fill="#6a9642"/><circle cx="185.5" cy="222.5" r="0.9" fill="#6a9642"/><circle cx="169.1" cy="237.1" r="1.0" fill="#6a9642"/><circle cx="199.8" cy="233.2" r="0.8" fill="#6a9642"/><circle cx="185.0" cy="222.6" r="1.1" fill="#6a9642"/><circle cx="206.7" cy="264.7" r="0.8" fill="#6a9642"/><circle cx="183.1" cy="227.1" r="0.8" fill="#6a9642"/><circle cx="137.3" cy="222.4" r="0.8" fill="#6a9642"/><circle cx="188.3" cy="282.9" r="0.8" fill="#6a9642"/><circle cx="191.9" cy="259.8" r="1.1" fill="#6a9642"/><circle cx="171.8" cy="265.4" r="0.8" fill="#6a9642"/><circle cx="156.4" cy="271.9" r="1.1" fill="#6a9642"/><circle cx="189.9" cy="268.0" r="1.0" fill="#6a9642"/><circle cx="196.1" cy="250.3" r="1.0" fill="#6a9642"/><circle cx="158.3" cy="275.2" r="0.8" fill="#6a9642"/><circle cx="183.3" cy="253.7" r="0.8" fill="#6a9642"/><circle cx="199.6" cy="272.4" r="1.0" fill="#6a9642"/><circle cx="178.1" cy="253.7" r="1.0" fill="#6a9642"/><circle cx="197.6" cy="255.8" r="0.8" fill="#6a9642"/><circle cx="142.3" cy="253.4" r="0.9" fill="#6a9642"/><circle cx="136.8" cy="259.7" r="1.1" fill="#6a9642"/><circle cx="160.7" cy="275.9" r="0.8" fill="#6a9642"/><circle cx="200.0" cy="253.0" r="0.8" fill="#6a9642"/><circle cx="141.2" cy="225.5" r="0.9" fill="#6a9642"/><circle cx="189.0" cy="270.2" r="0.8" fill="#6a9642"/><circle cx="144.2" cy="237.1" r="1.0" fill="#6a9642"/><circle cx="169.9" cy="275.1" r="1.0" fill="#6a9642"/><circle cx="188.8" cy="257.7" r="0.8" fill="#6a9642"/><circle cx="156.9" cy="243.0" r="0.8" fill="#6a9642"/><circle cx="150.9" cy="264.2" r="0.7" fill="#6a9642"/><circle cx="187.8" cy="248.9" r="1.1" fill="#6a9642"/><circle cx="172.0" cy="285.9" r="0.9" fill="#6a9642"/><circle cx="152.0" cy="227.5" r="0.8" fill="#6a9642"/><circle cx="172.2" cy="228.1" r="1.1" fill="#6a9642"/><circle cx="161.3" cy="282.0" r="0.9" fill="#6a9642"/><circle cx="163.2" cy="220.3" r="0.9" fill="#6a9642"/><circle cx="162.3" cy="265.2" r="1.0" fill="#6a9642"/><circle cx="153.1" cy="237.1" r="0.7" fill="#6a9642"/><circle cx="142.8" cy="216.7" r="0.8" fill="#6a9642"/><circle cx="200.1" cy="234.5" r="0.9" fill="#6a9642"/><circle cx="148.7" cy="251.7" r="0.9" fill="#6a9642"/><circle cx="201.7" cy="262.0" r="0.8" fill="#6a9642"/><circle cx="159.2" cy="227.5" r="0.9" fill="#6a9642"/><circle cx="157.4" cy="240.6" r="0.8" fill="#6a9642"/><circle cx="176.5" cy="230.9" r="1.0" fill="#6a9642"/><circle cx="207.0" cy="262.6" r="0.8" fill="#6a9642"/><circle cx="184.1" cy="240.6" r="1.0" fill="#6a9642"/></g>
<path d="M85.8 229.2 L111.5 218.9 L124.4 221.4 L124.4 242.1 L98.7 242.1 L85.8 236.9 Z" fill="#a8cf6f"/>
</g>
<circle cx="202.5" cy="206.5" r="151" fill="none" stroke="#3aa935" stroke-width="15"/>
<circle cx="303" cy="83.2" r="42.7" fill="#3aa935"/>
<path d="M290.6 62.1 L318.3 62.1 L318.3 69.6 L306.8 99.9 L295.6 99.9 L306.4 70.8 L290.6 70.8 Z" fill="#fff"/>
</svg><div class="t" style="left:47.63px;top:400.06px;font-size:31px;line-height:31px;font-weight:bold;color:#0a0a0a;transform:scaleX(1.0966);transform-origin:0 0">Protein Fuel Power</div>
<div class="t" style="left:80.53px;top:436.86px;font-size:31px;line-height:31px;font-weight:bold;color:#0a0a0a;transform:scaleX(1.0953);transform-origin:0 0">Bowl - Chicken</div>
<div class="t" style="left:47.24px;top:515.06px;font-size:24.5px;line-height:24.5px;font-weight:normal;color:#333;transform:scaleX(1.1914);transform-origin:0 0">A high-protein combo of</div>
<div class="t" style="left:62.30px;top:544.86px;font-size:24.5px;line-height:24.5px;font-weight:normal;color:#333;transform:scaleX(1.1480);transform-origin:0 0">lean meat, grains, and</div>
<div class="t" style="left:32.00px;top:574.66px;font-size:24.5px;line-height:24.5px;font-weight:normal;color:#333;transform:scaleX(1.1553);transform-origin:0 0">veggies crafted to energize</div>
<div class="t" style="left:61.63px;top:604.26px;font-size:24.5px;line-height:24.5px;font-weight:normal;color:#333;transform:scaleX(1.1535);transform-origin:0 0">your day and fuel your</div>
<div class="t" style="left:116.62px;top:633.76px;font-size:24.5px;line-height:24.5px;font-weight:normal;color:#333;transform:scaleX(1.1898);transform-origin:0 0">performance.</div>
<div class="lab" style="left:413px;top:17px;transform:scale(1);">
<div class="box"></div>
<div class="t" style="left:22.18px;top:17.77px;font-size:52.6px;line-height:52.6px;font-weight:bold;color:#000;">Nutrition Facts</div>
<div class="badge" style="left:403.5px;top:30.6px;width:87.4px;height:27.7px"></div>
<div class="t" style="left:409.71px;top:35.96px;font-size:17.3px;line-height:17.3px;font-weight:bold;color:#fff;transform:scaleX(1.068);transform-origin:37.49px 0">Standard</div>
<div class="r" style="left:22.80px;top:72.00px;width:460.40px;height:2px;background:#333"></div>
<div class="t" style="left:21.72px;top:76.29px;font-size:26px;line-height:26px;font-weight:normal;color:#000;">1 serving per container</div>
<div class="t" style="left:22.75px;top:107.09px;font-size:26px;line-height:26px;font-weight:bold;color:#000;">Serving size</div>
<div class="t" style="right:22.39px;top:107.09px;font-size:26px;line-height:26px;font-weight:bold;color:#000;">1 each</div>
<div class="r" style="left:22.80px;top:140.40px;width:460.40px;height:21.5px;background:#000"></div>
<div class="t" style="left:22.86px;top:176.89px;font-size:17.5px;line-height:17.5px;font-weight:bold;color:#000;">Amount per serving</div>
<div class="t" style="left:22.50px;top:192.65px;font-size:44px;line-height:44px;font-weight:bold;color:#000;">Calories</div>
<div class="t" style="right:22.66px;top:181.65px;font-size:57px;line-height:57px;font-weight:bold;color:#000;">440</div>
<div class="r" style="left:22.80px;top:243.40px;width:460.40px;height:8.2px;background:#000"></div>
<div class="t" style="right:23.48px;top:255.16px;font-size:17.3px;line-height:17.3px;font-weight:bold;color:#000;">% Daily Value*</div>
<div class="r" style="left:22.80px;top:279.10px;width:460.40px;height:2px;background:#333"></div>
<div class="r" style="left:22.80px;top:314.60px;width:460.40px;height:2px;background:#333"></div>
<div class="r" style="left:22.80px;top:349.50px;width:460.40px;height:2px;background:#333"></div>
<div class="r" style="left:22.80px;top:384.80px;width:460.40px;height:2px;background:#333"></div>
<div class="r" style="left:22.80px;top:420.00px;width:460.40px;height:2px;background:#333"></div>
<div class="r" style="left:22.80px;top:455.30px;width:460.40px;height:2px;background:#333"></div>
<div class="r" style="left:22.80px;top:490.50px;width:460.40px;height:2px;background:#333"></div>
<div class="t" style="left:23.35px;top:286.58px;font-size:22px;line-height:22px;font-weight:normal;color:#000;"><b>Total Fat</b> 10g</div>
<div class="t" style="right:22.49px;top:282.04px;font-size:27px;line-height:27px;font-weight:bold;color:#000;">13%</div>
<div class="t" style="left:22.70px;top:321.78px;font-size:22px;line-height:22px;font-weight:normal;color:#000;"><b>Cholesterol</b> 105mg</div>
<div class="t" style="right:22.49px;top:317.24px;font-size:27px;line-height:27px;font-weight:bold;color:#000;">35%</div>
<div class="t" style="left:22.97px;top:356.98px;font-size:22px;line-height:22px;font-weight:normal;color:#000;"><b>Sodium</b> 240mg</div>
<div class="t" style="right:22.49px;top:352.44px;font-size:27px;line-height:27px;font-weight:bold;color:#000;">10%</div>
<div class="t" style="left:23.35px;top:392.18px;font-size:22px;line-height:22px;font-weight:normal;color:#000;"><b>Total Carbohydrate</b> 48g</div>
<div class="t" style="right:22.49px;top:387.64px;font-size:27px;line-height:27px;font-weight:bold;color:#000;">18%</div>
<div class="t" style="left:39.80px;top:427.38px;font-size:22px;line-height:22px;font-weight:normal;color:#000;">Dietary Fiber 4g</div>
<div class="t" style="right:22.49px;top:422.84px;font-size:27px;line-height:27px;font-weight:bold;color:#000;">14%</div>
<div class="t" style="left:41.11px;top:462.58px;font-size:22px;line-height:22px;font-weight:normal;color:#000;">Total Sugars 2g</div>
<div class="t" style="left:22.13px;top:497.18px;font-size:22px;line-height:22px;font-weight:normal;color:#000;"><b>Protein</b> 38g</div>
<div class="r" style="left:22.80px;top:522.00px;width:460.40px;height:28px;background:#000"></div>
<div class="t" style="left:27.32px;top:553.99px;font-size:17.5px;line-height:17.5px;font-weight:normal;color:#000;">* The % Daily Value (DV) tells you how much a nutrient in</div>
<div class="t" style="left:26.86px;top:571.29px;font-size:17.5px;line-height:17.5px;font-weight:normal;color:#000;">a serving of food contributes to a daily diet. 2,000 calories</div>
<div class="t" style="left:26.86px;top:588.79px;font-size:17.5px;line-height:17.5px;font-weight:normal;color:#000;">a day is used for general nutrition advice.</div>
</div>
<div class="lab" style="left:413px;top:17px;transform:scale(1);">
<div class="t" style="left:0.30px;top:620.38px;font-size:22px;line-height:22px;font-weight:normal;color:#000;"><b>INGREDIENTS:</b> CHICKEN, BROCCOLI, SEA</div>
<div class="t" style="left:0.30px;top:646.68px;font-size:22px;line-height:22px;font-weight:normal;color:#000;">SALT, POWDER GARLIC, POWDER ONION,</div>
<div class="t" style="left:0.30px;top:672.98px;font-size:22px;line-height:22px;font-weight:normal;color:#000;">BLACK PEPPER, PAPRIKA, BROWN RICE</div>
<div class="t" style="left:0.30px;top:699.28px;font-size:22px;line-height:22px;font-weight:normal;color:#000;">UNCOOKED, ORGANIC EXTRA VIRGIN OLIVE</div>
<div class="t" style="left:0.30px;top:725.58px;font-size:22px;line-height:22px;font-weight:normal;color:#000;">OIL</div>
</div>
<div class="lab" style="left:932px;top:17px;transform:scale(1.013);">
<div class="box"></div>
<div class="t" style="left:22.18px;top:17.77px;font-size:52.6px;line-height:52.6px;font-weight:bold;color:#000;">Nutrition Facts</div>
<div class="badge" style="left:408.0px;top:34.6px;width:87.2px;height:27.5px"></div>
<div class="t" style="left:421.54px;top:38.64px;font-size:18.5px;line-height:18.5px;font-weight:bold;color:#fff;transform:scaleX(1.172);transform-origin:27.76px 0">Vegan</div>
<div class="r" style="left:22.80px;top:72.00px;width:460.40px;height:2px;background:#333"></div>
<div class="t" style="left:21.72px;top:76.29px;font-size:26px;line-height:26px;font-weight:normal;color:#000;">1 serving per container</div>
<div class="t" style="left:22.75px;top:107.09px;font-size:26px;line-height:26px;font-weight:bold;color:#000;">Serving size</div>
<div class="t" style="right:22.39px;top:107.09px;font-size:26px;line-height:26px;font-weight:bold;color:#000;">1 each</div>
<div class="r" style="left:22.80px;top:140.40px;width:460.40px;height:21.5px;background:#000"></div>
<div class="t" style="left:22.86px;top:176.89px;font-size:17.5px;line-height:17.5px;font-weight:bold;color:#000;">Amount per serving</div>
<div class="t" style="left:22.50px;top:192.65px;font-size:44px;line-height:44px;font-weight:bold;color:#000;">Calories</div>
<div class="t" style="right:22.66px;top:181.65px;font-size:57px;line-height:57px;font-weight:bold;color:#000;">490</div>
<div class="r" style="left:22.80px;top:243.40px;width:460.40px;height:8.2px;background:#000"></div>
<div class="t" style="right:23.48px;top:255.16px;font-size:17.3px;line-height:17.3px;font-weight:bold;color:#000;">% Daily Value*</div>
<div class="r" style="left:22.80px;top:279.10px;width:460.40px;height:2px;background:#333"></div>
<div class="r" style="left:22.80px;top:314.60px;width:460.40px;height:2px;background:#333"></div>
<div class="r" style="left:22.80px;top:349.50px;width:460.40px;height:2px;background:#333"></div>
<div class="r" style="left:22.80px;top:384.80px;width:460.40px;height:2px;background:#333"></div>
<div class="r" style="left:22.80px;top:420.00px;width:460.40px;height:2px;background:#333"></div>
<div class="r" style="left:22.80px;top:455.30px;width:460.40px;height:2px;background:#333"></div>
<div class="r" style="left:22.80px;top:490.50px;width:460.40px;height:2px;background:#333"></div>
<div class="t" style="left:23.35px;top:286.58px;font-size:22px;line-height:22px;font-weight:normal;color:#000;"><b>Total Fat</b> 18g</div>
<div class="t" style="right:22.49px;top:282.04px;font-size:27px;line-height:27px;font-weight:bold;color:#000;">24%</div>
<div class="t" style="left:22.70px;top:321.78px;font-size:22px;line-height:22px;font-weight:normal;color:#000;"><b>Cholesterol</b> 0mg</div>
<div class="t" style="right:22.49px;top:317.24px;font-size:27px;line-height:27px;font-weight:bold;color:#000;">0%</div>
<div class="t" style="left:22.97px;top:356.98px;font-size:22px;line-height:22px;font-weight:normal;color:#000;"><b>Sodium</b> 210mg</div>
<div class="t" style="right:22.49px;top:352.44px;font-size:27px;line-height:27px;font-weight:bold;color:#000;">9%</div>
<div class="t" style="left:23.35px;top:392.18px;font-size:22px;line-height:22px;font-weight:normal;color:#000;"><b>Total Carbohydrate</b> 56g</div>
<div class="t" style="right:22.49px;top:387.64px;font-size:27px;line-height:27px;font-weight:bold;color:#000;">20%</div>
<div class="t" style="left:39.80px;top:427.38px;font-size:22px;line-height:22px;font-weight:normal;color:#000;">Dietary Fiber 6g</div>
<div class="t" style="right:22.49px;top:422.84px;font-size:27px;line-height:27px;font-weight:bold;color:#000;">23%</div>
<div class="t" style="left:41.11px;top:462.58px;font-size:22px;line-height:22px;font-weight:normal;color:#000;">Total Sugars 4g</div>
<div class="t" style="left:22.13px;top:497.18px;font-size:22px;line-height:22px;font-weight:normal;color:#000;"><b>Protein</b> 32g</div>
<div class="r" style="left:22.80px;top:522.00px;width:460.40px;height:28px;background:#000"></div>
<div class="t" style="left:27.32px;top:553.99px;font-size:17.5px;line-height:17.5px;font-weight:normal;color:#000;">* The % Daily Value (DV) tells you how much a nutrient in</div>
<div class="t" style="left:26.86px;top:571.29px;font-size:17.5px;line-height:17.5px;font-weight:normal;color:#000;">a serving of food contributes to a daily diet. 2,000 calories</div>
<div class="t" style="left:26.86px;top:588.79px;font-size:17.5px;line-height:17.5px;font-weight:normal;color:#000;">a day is used for general nutrition advice.</div>
</div>
<div class="lab" style="left:932px;top:17px;transform:scale(1.013);">
<div class="t" style="left:0.30px;top:620.38px;font-size:22px;line-height:22px;font-weight:normal;color:#000;"><b>INGREDIENTS:</b> FIRM TOFU, BROCCOLI, SEA</div>
<div class="t" style="left:0.30px;top:646.68px;font-size:22px;line-height:22px;font-weight:normal;color:#000;">SALT, POWDER GARLIC, POWDER ONION,</div>
<div class="t" style="left:0.30px;top:672.98px;font-size:22px;line-height:22px;font-weight:normal;color:#000;">BLACK PEPPER, PAPRIKA, BROWN RICE</div>
<div class="t" style="left:0.30px;top:699.28px;font-size:22px;line-height:22px;font-weight:normal;color:#000;">UNCOOKED, ORGANIC EXTRA VIRGIN OLIVE</div>
<div class="t" style="left:0.30px;top:725.58px;font-size:22px;line-height:22px;font-weight:normal;color:#000;">OIL</div>
</div>
</body></html>
